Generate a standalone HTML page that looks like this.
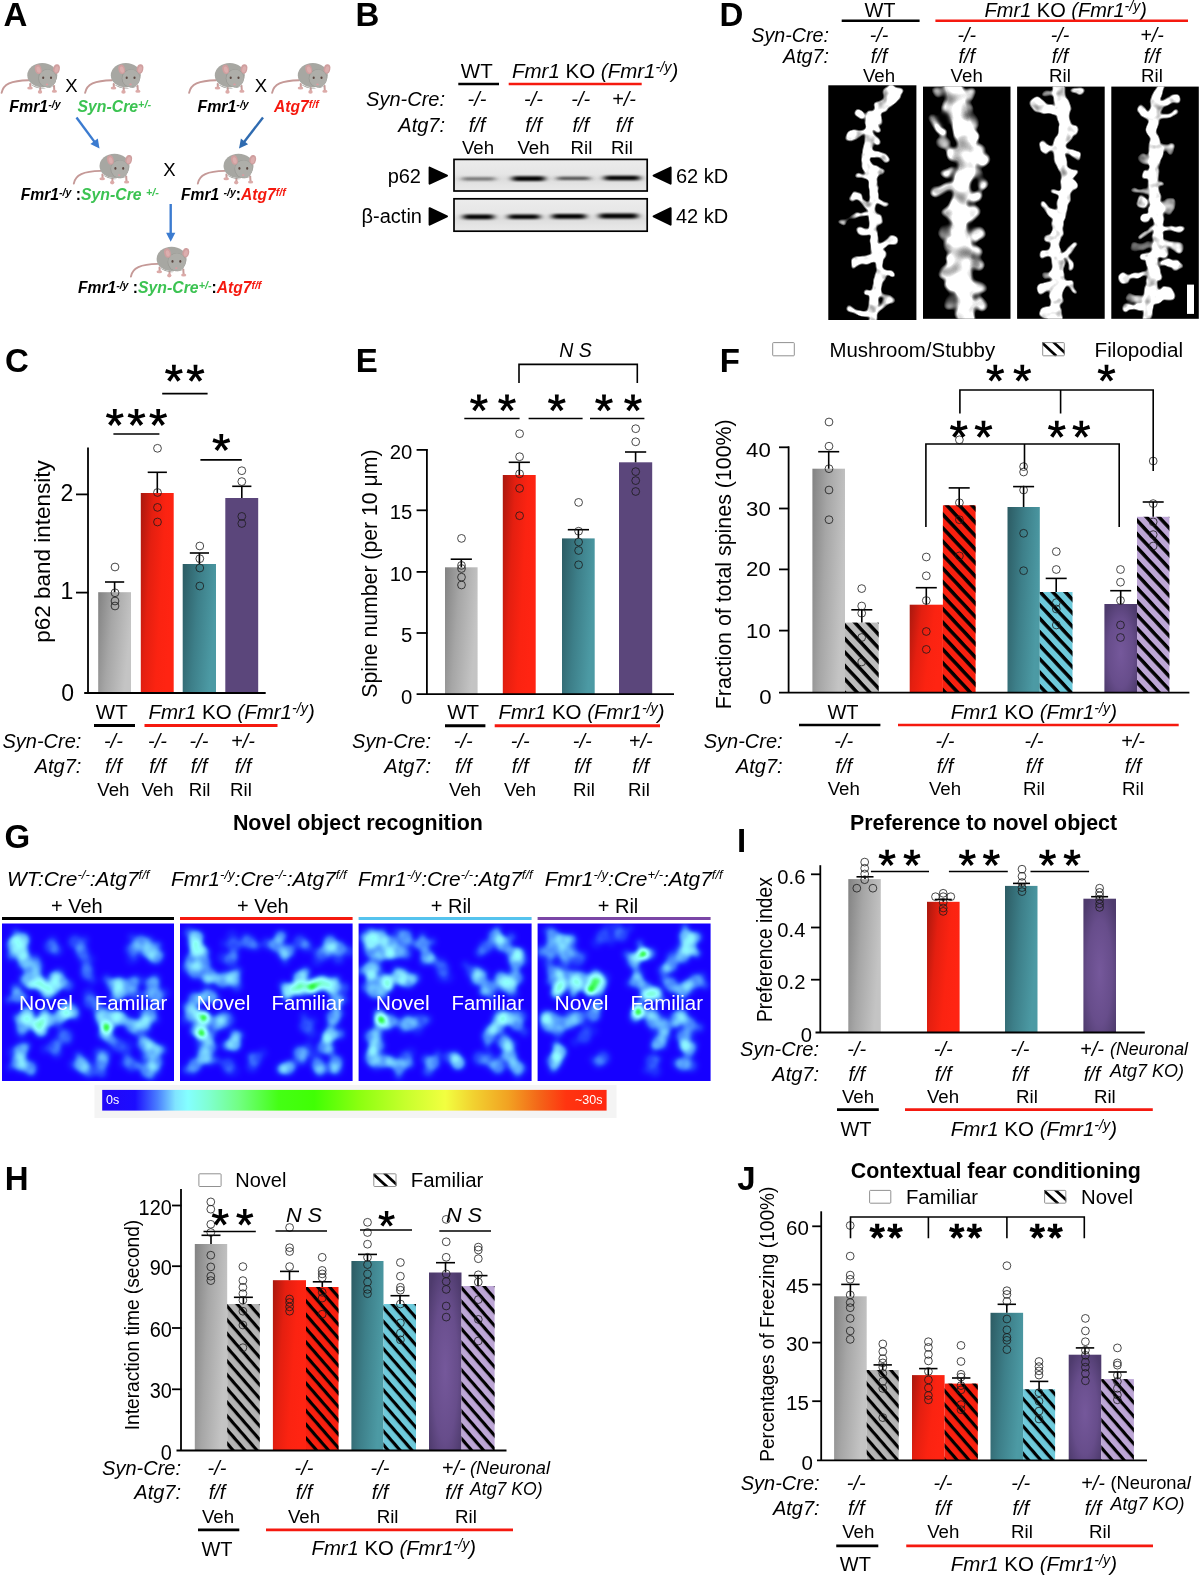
<!DOCTYPE html>
<html><head><meta charset="utf-8"><title>Figure</title>
<style>html,body{margin:0;padding:0;background:#fff}svg{display:block;will-change:transform}text{font-family:"Liberation Sans", sans-serif;}</style>
</head><body>
<svg width="1200" height="1577" viewBox="0 0 1200 1577" font-family='"Liberation Sans", sans-serif'>
<defs>
<linearGradient id="gGray" x1="0" y1="0" x2="1" y2="0.3"><stop offset="0" stop-color="#828282"/><stop offset="0.45" stop-color="#a6a6a6"/><stop offset="1" stop-color="#c4c4c4"/></linearGradient>
<linearGradient id="gRed" x1="0" y1="0" x2="1" y2="0.35"><stop offset="0" stop-color="#a8180e"/><stop offset="0.35" stop-color="#e41f10"/><stop offset="0.7" stop-color="#fb2311"/><stop offset="1" stop-color="#ff2412"/></linearGradient>
<linearGradient id="gTeal" x1="0" y1="0" x2="1" y2="0.3"><stop offset="0" stop-color="#2c5b63"/><stop offset="0.5" stop-color="#3d7f89"/><stop offset="1" stop-color="#4c9aa4"/></linearGradient>
<linearGradient id="gPurF" x1="0" y1="0" x2="0" y2="1"><stop offset="0" stop-color="#5b467b"/><stop offset="1" stop-color="#5b467b"/></linearGradient>
<radialGradient id="gPur" cx="0.5" cy="0.55" r="0.65"><stop offset="0" stop-color="#75589b"/><stop offset="0.6" stop-color="#674d8b"/><stop offset="1" stop-color="#4e3b6d"/></radialGradient>
<pattern id="hatch" width="9.2" height="9.2" patternUnits="userSpaceOnUse" patternTransform="rotate(47)"><rect x="0" y="0" width="9.2" height="3.5" fill="#000"/></pattern>
<pattern id="hatch2" width="9.0" height="9.0" patternUnits="userSpaceOnUse" patternTransform="rotate(49)"><rect x="0" y="0" width="9.0" height="3.15" fill="#000"/></pattern>
<filter id="blur1" x="-30%" y="-150%" width="160%" height="400%"><feGaussianBlur stdDeviation="3 1.25"/></filter>
<linearGradient id="blotbg" x1="0" y1="0" x2="0" y2="1"><stop offset="0" stop-color="#ececec"/><stop offset="0.45" stop-color="#e6e6e6"/><stop offset="0.62" stop-color="#dcdcdc"/><stop offset="0.8" stop-color="#e4e4e4"/><stop offset="1" stop-color="#e9e9e9"/></linearGradient>
<filter id="blur2" x="-20%" y="-50%" width="140%" height="200%"><feGaussianBlur stdDeviation="1.2"/></filter>
<filter id="dend" x="-5%" y="-5%" width="110%" height="110%" color-interpolation-filters="sRGB"><feTurbulence type="fractalNoise" baseFrequency="0.075" numOctaves="2" seed="4" result="t"/><feDisplacementMap in="SourceGraphic" in2="t" scale="9" xChannelSelector="R" yChannelSelector="G"/><feGaussianBlur stdDeviation="1.7"/><feComponentTransfer result="m"><feFuncA type="linear" slope="2.0" intercept="-0.5"/></feComponentTransfer><feTurbulence type="fractalNoise" baseFrequency="0.09" numOctaves="2" seed="33" result="n0"/><feColorMatrix in="n0" type="matrix" values="1 0 0 0 0  1 0 0 0 0  1 0 0 0 0  0 0 0 0 1" result="n"/><feComposite in="m" in2="n" operator="arithmetic" k1="1.5" k2="0.35" k3="0" k4="0"/><feGaussianBlur stdDeviation="0.55"/></filter>
<filter id="dend2" x="-5%" y="-5%" width="110%" height="110%" color-interpolation-filters="sRGB"><feTurbulence type="fractalNoise" baseFrequency="0.075" numOctaves="2" seed="4" result="t"/><feDisplacementMap in="SourceGraphic" in2="t" scale="9" xChannelSelector="R" yChannelSelector="G"/><feGaussianBlur stdDeviation="1.9"/><feComponentTransfer result="m"><feFuncA type="linear" slope="1.8" intercept="-0.4"/></feComponentTransfer><feTurbulence type="fractalNoise" baseFrequency="0.065" numOctaves="1" seed="21" result="n0"/><feColorMatrix in="n0" type="matrix" values="1 0 0 0 0  1 0 0 0 0  1 0 0 0 0  0 0 0 0 1" result="n"/><feComposite in="m" in2="n" operator="arithmetic" k1="2.6" k2="-0.25" k3="0" k4="0"/></filter>
<filter id="heat" x="0" y="0" width="100%" height="100%" color-interpolation-filters="sRGB"><feGaussianBlur stdDeviation="2.7"/>
<feComponentTransfer>
<feFuncR type="table" tableValues="0.09 0.10 0.14 0.22 0.32 0.42 0.52 0.56 0.5 0.3 0.1"/>
<feFuncG type="table" tableValues="0 0.1 0.24 0.42 0.6 0.76 0.9 1 1 1 0.92"/>
<feFuncB type="table" tableValues="1 1 1 1 1 1 1 1 0.85 0.45 0.05"/>
</feComponentTransfer></filter>
<linearGradient id="cbar" x1="0" y1="0" x2="1" y2="0"><stop offset="0" stop-color="#2208f8"/><stop offset="0.065" stop-color="#1c0cff"/><stop offset="0.11" stop-color="#4a80ff"/><stop offset="0.145" stop-color="#80e4ff"/><stop offset="0.17" stop-color="#84ffff"/><stop offset="0.21" stop-color="#80ffd2"/><stop offset="0.27" stop-color="#72ff84"/><stop offset="0.35" stop-color="#44ff14"/><stop offset="0.42" stop-color="#40ff04"/><stop offset="0.51" stop-color="#8cff10"/><stop offset="0.6" stop-color="#c6ff2c"/><stop offset="0.68" stop-color="#f2ff40"/><stop offset="0.735" stop-color="#f2d230"/><stop offset="0.805" stop-color="#f2a222"/><stop offset="0.868" stop-color="#f46418"/><stop offset="0.92" stop-color="#ff3410"/><stop offset="1" stop-color="#ff2810"/></linearGradient>
<g id="mouse">
<path d="M1.6,30 C3.2,21.5 11,17.6 28.5,17.3" fill="none" stroke="#c59997" stroke-width="1.9" stroke-linecap="round"/>
<path d="M30.2,21 l0.2,3.4 M40.3,25 l-0.2,3.4 M54,23 l0.3,4.6" stroke="#c99c9a" stroke-width="2" stroke-linecap="round" fill="none"/>
<ellipse cx="30" cy="25.2" rx="2.8" ry="1.5" fill="#dcaaa8"/><ellipse cx="40" cy="29" rx="2.2" ry="1.8" fill="#dcaaa8"/><ellipse cx="54.4" cy="28.4" rx="2.6" ry="1.5" fill="#dcaaa8"/>
<ellipse cx="42.3" cy="12.3" rx="15" ry="12.2" fill="#a7a7a2"/>
<path d="M30,21 q6,5 14,4.5 l12,-3 q-12,6 -26,-1.5z" fill="#9a9a95"/>
<ellipse cx="56.5" cy="6.1" rx="3.3" ry="4.8" fill="#cf9f9f" transform="rotate(12 56.5 6.1)"/><ellipse cx="56.6" cy="6.5" rx="1.9" ry="3.2" fill="#dcaeae" transform="rotate(12 56.6 6.5)"/>
<circle cx="47.3" cy="15.4" r="9.1" fill="#989893"/>
<circle cx="47.6" cy="15.4" r="8.7" fill="#aeaea9"/>
<ellipse cx="38.2" cy="6.4" rx="3.3" ry="4.8" fill="#cf9f9f" transform="rotate(-14 38.2 6.4)"/><ellipse cx="38.5" cy="6.8" rx="1.9" ry="3.2" fill="#dcaeae" transform="rotate(-14 38.5 6.8)"/>
<ellipse cx="43.2" cy="14.8" rx="1.05" ry="1.3" fill="#5b4741"/><ellipse cx="51" cy="14.8" rx="1.05" ry="1.3" fill="#5b4741"/>
<ellipse cx="47" cy="21.5" rx="1.25" ry="0.95" fill="#dc9ca0"/>
</g>
<path id="ast" d="M-1.45,0.50 L-1.95,-8.70 L1.95,-8.70 L1.45,0.50Z M-0.92,-1.22 L7.67,-4.54 L8.88,-0.83 L-0.03,1.53Z M0.88,-1.26 L6.69,5.89 L3.54,8.18 L-1.47,0.45Z M1.47,0.45 L-3.54,8.18 L-6.69,5.89 L-0.88,-1.26Z M0.03,1.53 L-8.88,-0.83 L-7.67,-4.54 L0.92,-1.22Z" fill="#000"/>
<path id="astb" d="M-1.75,0.50 L-2.30,-8.00 L2.30,-8.00 L1.75,0.50Z M-1.02,-1.51 L6.90,-4.66 L8.32,-0.28 L0.07,1.82Z M1.12,-1.43 L6.56,5.12 L2.84,7.82 L-1.71,0.62Z M1.71,0.62 L-2.84,7.82 L-6.56,5.12 L-1.12,-1.43Z M-0.07,1.82 L-8.32,-0.28 L-6.90,-4.66 L1.02,-1.51Z" fill="#000"/>
<marker id="ah" markerWidth="6" markerHeight="6" refX="3" refY="3" orient="auto"><path d="M0,0 L6,3 L0,6 z" fill="#3b7bd0"/></marker>
</defs>
<rect x="0" y="0" width="1200" height="1577" fill="#fff"/>

<g id="panelA">
<text x="3.4" y="26" font-size="33" font-weight="bold">A</text>
<use href="#mouse" x="0.0" y="62.9"/>
<use href="#mouse" x="83.5" y="62.9"/>
<use href="#mouse" x="187.5" y="62.9"/>
<use href="#mouse" x="270.5" y="62.9"/>
<text x="71.4" y="92.4" font-size="18.5" text-anchor="middle">X</text>
<text x="261" y="92.4" font-size="18.5" text-anchor="middle">X</text>
<text x="9.3" y="111.8" font-size="15.9" font-style="italic" font-weight="bold">Fmr1<tspan font-size="10.6" dy="-4">-/y</tspan></text>
<text x="77.5" y="111.8" font-size="15.9" font-style="italic" font-weight="bold" fill="#3cc352"><tspan font-size="15.8">Syn-Cre</tspan><tspan font-size="10.8" dy="-4">+/-</tspan></text>
<text x="197.5" y="111.8" font-size="15.9" font-style="italic" font-weight="bold">Fmr1<tspan font-size="10.6" dy="-4">-/y</tspan></text>
<text x="274" y="111.8" font-size="15.6" font-style="italic" font-weight="bold" fill="#f5190f">Atg7<tspan font-size="10.6" dy="-4">f/f</tspan></text>
<line x1="76.5" y1="117.5" x2="94.7" y2="142.1" stroke="#3b7bd0" stroke-width="2.4"/>
<polygon points="99.5,148.5 90.4,144.0 97.8,138.5" fill="#3b7bd0"/>
<line x1="263.0" y1="117.5" x2="243.9" y2="142.2" stroke="#2f6bb0" stroke-width="2.4"/>
<polygon points="239.0,148.5 240.9,138.6 248.1,144.2" fill="#2f6bb0"/>
<use href="#mouse" x="72.2" y="153.6"/>
<use href="#mouse" x="196.2" y="153.6"/>
<text x="169.3" y="176" font-size="18.5" text-anchor="middle">X</text>
<text x="20.7" y="199.6" font-size="15.7" font-style="italic" font-weight="bold">Fmr1<tspan font-size="10.6" dy="-4">-/y</tspan><tspan dy="4" font-style="normal"> :</tspan><tspan fill="#3cc352"><tspan font-size="15.8">Syn-Cre </tspan><tspan font-size="10.8" dy="-4">+/-</tspan></tspan></text>
<text x="181" y="199.6" font-size="15.6" font-style="italic" font-weight="bold">Fmr1 <tspan font-size="10.6" dy="-4">-/y</tspan><tspan dy="4" font-style="normal">:</tspan><tspan fill="#f5190f">Atg7<tspan font-size="10.6" dy="-4">f/f</tspan></tspan></text>
<line x1="170.7" y1="204.0" x2="170.7" y2="233.7" stroke="#3b7bd0" stroke-width="2.4"/>
<polygon points="170.7,241.7 166.1,232.7 175.3,232.7" fill="#3b7bd0"/>
<use href="#mouse" x="129.3" y="246.6"/>
<text x="78" y="293.2" font-size="15.6" font-style="italic" font-weight="bold">Fmr1<tspan font-size="10.6" dy="-4">-/y</tspan><tspan dy="4" font-style="normal"> :</tspan><tspan fill="#3cc352"><tspan font-size="15.8">Syn-Cre</tspan><tspan font-size="10.8" dy="-4">+/-</tspan></tspan><tspan dy="4" font-style="normal">:</tspan><tspan fill="#f5190f">Atg7<tspan font-size="10.6" dy="-4">f/f</tspan></tspan></text>
</g>
<g id="panelB">
<text x="355.5" y="26.1" font-size="33" font-weight="bold">B</text>
<text x="476.8" y="77.7" font-size="20.5" text-anchor="middle">WT</text>
<line x1="458.3" y1="84" x2="499" y2="84" stroke="#000" stroke-width="2.6"/>
<text x="512" y="77.7" font-size="20.5"><tspan font-style="italic">Fmr1</tspan> KO <tspan font-style="italic">(Fmr1</tspan><tspan font-style="italic" dy="-6" font-size="14.3">-/y</tspan><tspan font-style="italic" dy="6">)</tspan></text>
<line x1="508.7" y1="84" x2="641.7" y2="84" stroke="#f5190f" stroke-width="2.6"/>
<text x="445" y="105.8" font-size="20" text-anchor="end" font-style="italic">Syn-Cre:</text>
<text x="445" y="131.8" font-size="20" text-anchor="end" font-style="italic">Atg7:</text>
<text x="477" y="105.8" font-size="20" text-anchor="middle" font-style="italic">-/-</text>
<text x="477" y="131.8" font-size="20" text-anchor="middle" font-style="italic">f/f</text>
<text x="533.5" y="105.8" font-size="20" text-anchor="middle" font-style="italic">-/-</text>
<text x="533.5" y="131.8" font-size="20" text-anchor="middle" font-style="italic">f/f</text>
<text x="580.8" y="105.8" font-size="20" text-anchor="middle" font-style="italic">-/-</text>
<text x="580.8" y="131.8" font-size="20" text-anchor="middle" font-style="italic">f/f</text>
<text x="624" y="105.8" font-size="20" text-anchor="middle" font-style="italic">+/-</text>
<text x="624" y="131.8" font-size="20" text-anchor="middle" font-style="italic">f/f</text>
<text x="478" y="153.6" font-size="18.7" text-anchor="middle">Veh</text>
<text x="533.5" y="153.6" font-size="18.7" text-anchor="middle">Veh</text>
<text x="581.5" y="153.6" font-size="18.7" text-anchor="middle">Ril</text>
<text x="622" y="153.6" font-size="18.7" text-anchor="middle">Ril</text>
<rect x="454.00" y="159.40" width="193.20" height="31.60" fill="url(#blotbg)" stroke="#000" stroke-width="1.7"/>
<rect x="454.00" y="198.80" width="193.20" height="32.40" fill="url(#blotbg)" stroke="#000" stroke-width="1.7"/>
<rect x="462" y="177.2" width="33.0" height="3.2" rx="1.6" fill="#444" opacity="0.72" filter="url(#blur1)"/>
<rect x="512" y="176.3" width="33.0" height="4.6" rx="2.3" fill="#000" opacity="1" filter="url(#blur1)"/>
<rect x="557" y="176.7" width="33.0" height="3.4" rx="1.7" fill="#333" opacity="0.85" filter="url(#blur1)"/>
<rect x="604" y="175.7" width="36.0" height="4.6" rx="2.3" fill="#000" opacity="1" filter="url(#blur1)"/>
<rect x="463" y="214.4" width="31.0" height="4.8" rx="2.4" fill="#000" opacity="1" filter="url(#blur1)"/>
<rect x="508" y="214.5" width="32.0" height="4.6" rx="2.3" fill="#000" opacity="1" filter="url(#blur1)"/>
<rect x="552" y="214.0" width="34.0" height="4.8" rx="2.4" fill="#000" opacity="1" filter="url(#blur1)"/>
<rect x="599" y="213.6" width="39.0" height="4.8" rx="2.4" fill="#000" opacity="1" filter="url(#blur1)"/>
<text x="421" y="182.7" font-size="20" text-anchor="end">p62</text>
<text x="422" y="223" font-size="20" text-anchor="end">β-actin</text>
<polygon points="429.6,167.6 447,175.6 429.6,183.6" fill="#000" stroke="#000" stroke-width="2" stroke-linejoin="round"/>
<polygon points="429.6,208.2 447,216.4 429.6,224.6" fill="#000" stroke="#000" stroke-width="2" stroke-linejoin="round"/>
<polygon points="670.6,167.6 653.6,175.6 670.6,183.6" fill="#000" stroke="#000" stroke-width="2" stroke-linejoin="round"/>
<polygon points="670.6,208.2 653.6,216.4 670.6,224.6" fill="#000" stroke="#000" stroke-width="2" stroke-linejoin="round"/>
<text x="676" y="182.7" font-size="20">62 kD</text>
<text x="676" y="223" font-size="20">42 kD</text>
</g>
<g id="panelD">
<text x="719.5" y="26" font-size="33" font-weight="bold">D</text>
<text x="880" y="16.7" font-size="20" text-anchor="middle">WT</text>
<line x1="841.7" y1="20.8" x2="919.6" y2="20.8" stroke="#000" stroke-width="2.4"/>
<text x="984.6" y="16.7" font-size="20"><tspan font-style="italic">Fmr1</tspan> KO <tspan font-style="italic">(Fmr1</tspan><tspan font-style="italic" dy="-6" font-size="14.0">-/y</tspan><tspan font-style="italic" dy="6">)</tspan></text>
<line x1="935.4" y1="20.8" x2="1188" y2="20.8" stroke="#f5190f" stroke-width="2.4"/>
<text x="829" y="41.9" font-size="19.7" text-anchor="end" font-style="italic">Syn-Cre:</text>
<text x="829" y="62.8" font-size="19.7" text-anchor="end" font-style="italic">Atg7:</text>
<text x="879" y="41.9" font-size="19.7" text-anchor="middle" font-style="italic">-/-</text>
<text x="879" y="62.8" font-size="19.7" text-anchor="middle" font-style="italic">f/f</text>
<text x="966.7" y="41.9" font-size="19.7" text-anchor="middle" font-style="italic">-/-</text>
<text x="966.7" y="62.8" font-size="19.7" text-anchor="middle" font-style="italic">f/f</text>
<text x="1060" y="41.9" font-size="19.7" text-anchor="middle" font-style="italic">-/-</text>
<text x="1060" y="62.8" font-size="19.7" text-anchor="middle" font-style="italic">f/f</text>
<text x="1152" y="41.9" font-size="19.7" text-anchor="middle" font-style="italic">+/-</text>
<text x="1152" y="62.8" font-size="19.7" text-anchor="middle" font-style="italic">f/f</text>
<text x="879" y="82.2" font-size="18.7" text-anchor="middle">Veh</text>
<text x="966.7" y="82.2" font-size="18.7" text-anchor="middle">Veh</text>
<text x="1060" y="82.2" font-size="18.7" text-anchor="middle">Ril</text>
<text x="1152" y="82.2" font-size="18.7" text-anchor="middle">Ril</text>
<clipPath id="dc1"><rect x="828.3" y="85.3" width="88.1" height="234.7"/></clipPath>
<rect x="828.30" y="85.30" width="88.10" height="234.70" fill="#000"/>
<g clip-path="url(#dc1)"><g filter="url(#dend)">
<path d="M891.7,86.7 L886.7,101.7 L875.0,115.0 L868.3,123.3 L869.2,135.0 L868.3,146.7 L865.0,158.3 L870.0,173.3 L875.0,188.3 L873.3,205.0 L875.0,218.3 L873.3,238.3 L878.3,255.0 L879.2,280.0 L875.0,296.7 L871.7,320.0" fill="none" stroke="#fff" stroke-width="8" stroke-linecap="round" stroke-linejoin="round"/>
<g opacity="1"><line x1="867.5" y1="129.2" x2="848.3" y2="135.8" stroke="#fff" stroke-width="5.6" stroke-linecap="round"/><circle cx="848.3" cy="135.8" r="4.1" fill="#fff"/></g>
<g opacity="1"><line x1="870.0" y1="135.0" x2="877.5" y2="141.3" stroke="#fff" stroke-width="5.6" stroke-linecap="round"/><circle cx="877.5" cy="141.3" r="3.7" fill="#fff"/></g>
<g opacity="1"><line x1="871.7" y1="153.3" x2="886.7" y2="158.0" stroke="#fff" stroke-width="5.0" stroke-linecap="round"/><circle cx="886.7" cy="158.0" r="3.2" fill="#fff"/></g>
<g opacity="1"><line x1="871.7" y1="166.7" x2="882.0" y2="171.3" stroke="#fff" stroke-width="5.0" stroke-linecap="round"/><circle cx="882.0" cy="171.3" r="3.2" fill="#fff"/></g>
<g opacity="1"><line x1="867.5" y1="176.7" x2="859.7" y2="175.8" stroke="#fff" stroke-width="4.4" stroke-linecap="round"/><circle cx="859.7" cy="175.8" r="2.8" fill="#fff"/></g>
<g opacity="1"><line x1="875.0" y1="200.3" x2="885.8" y2="203.7" stroke="#fff" stroke-width="3.8" stroke-linecap="round"/><circle cx="885.8" cy="203.7" r="2.1" fill="#fff"/></g>
<g opacity="1"><line x1="868.3" y1="206.7" x2="855.8" y2="196.7" stroke="#fff" stroke-width="4.4" stroke-linecap="round"/><circle cx="855.8" cy="196.7" r="4.6" fill="#fff"/></g>
<g opacity="1"><line x1="868.3" y1="213.3" x2="851.7" y2="215.8" stroke="#fff" stroke-width="3.2" stroke-linecap="round"/></g>
<g opacity="0.6"><line x1="851.7" y1="215.8" x2="842.5" y2="220.8" stroke="#fff" stroke-width="3.2" stroke-linecap="round"/><circle cx="842.5" cy="220.8" r="3.9" fill="#fff"/></g>
<g opacity="1"><line x1="870.0" y1="230.0" x2="860.8" y2="230.8" stroke="#fff" stroke-width="5.0" stroke-linecap="round"/><circle cx="860.8" cy="230.8" r="3.7" fill="#fff"/></g>
<g opacity="1"><line x1="880.0" y1="245.8" x2="892.0" y2="241.3" stroke="#fff" stroke-width="5.6" stroke-linecap="round"/><circle cx="892.0" cy="241.3" r="4.1" fill="#fff"/></g>
<g opacity="1"><line x1="873.3" y1="259.2" x2="855.8" y2="263.3" stroke="#fff" stroke-width="6.2" stroke-linecap="round"/><circle cx="855.8" cy="263.3" r="5.3" fill="#fff"/></g>
<g opacity="1"><line x1="880.8" y1="270.0" x2="890.8" y2="273.7" stroke="#fff" stroke-width="5.0" stroke-linecap="round"/><circle cx="890.8" cy="273.7" r="3.0" fill="#fff"/></g>
<g opacity="1"><line x1="873.3" y1="291.7" x2="866.7" y2="292.0" stroke="#fff" stroke-width="4.4" stroke-linecap="round"/><circle cx="866.7" cy="292.0" r="3.0" fill="#fff"/></g>
<g opacity="0.7"><line x1="878.3" y1="295.0" x2="890.0" y2="300.0" stroke="#fff" stroke-width="5.0" stroke-linecap="round"/><circle cx="890.0" cy="300.0" r="4.6" fill="#fff"/></g>
<g opacity="1"><line x1="870.0" y1="313.3" x2="860.0" y2="312.7" stroke="#fff" stroke-width="5.0" stroke-linecap="round"/><circle cx="860.0" cy="312.7" r="3.4" fill="#fff"/></g>
<g opacity="1"><line x1="860.0" y1="312.7" x2="849.2" y2="310.0" stroke="#fff" stroke-width="5.0" stroke-linecap="round"/><circle cx="849.2" cy="310.0" r="3.9" fill="#fff"/></g>
<g opacity="0.8"><line x1="876.7" y1="311.7" x2="885.8" y2="303.3" stroke="#fff" stroke-width="5.0" stroke-linecap="round"/><circle cx="885.8" cy="303.3" r="3.4" fill="#fff"/></g>
<g opacity="1"><line x1="877.5" y1="130.0" x2="870.0" y2="120.0" stroke="#fff" stroke-width="5.0" stroke-linecap="round"/></g>
<circle cx="890.8" cy="95.8" r="9" fill="#fff" opacity="1"/>
<circle cx="895.8" cy="91.7" r="6" fill="#fff" opacity="1"/>
<circle cx="881.7" cy="106.7" r="6" fill="#fff" opacity="1"/>
<circle cx="859.2" cy="113.3" r="4.6" fill="#fff" opacity="1"/>
<circle cx="870.0" cy="115.8" r="5" fill="#fff" opacity="1"/>
<circle cx="877.5" cy="118.7" r="4" fill="#fff" opacity="1"/>
<circle cx="875.0" cy="173.3" r="5" fill="#fff" opacity="1"/>
<circle cx="875.0" cy="218.3" r="6" fill="#fff" opacity="1"/>
<circle cx="879.2" cy="256.7" r="6" fill="#fff" opacity="1"/>
<circle cx="878.3" cy="280.0" r="5" fill="#fff" opacity="1"/>
</g></g>
<clipPath id="dc2"><rect x="923" y="86.6" width="87.5" height="232.2"/></clipPath>
<rect x="923.00" y="86.60" width="87.50" height="232.20" fill="#000"/>
<g clip-path="url(#dc2)"><g filter="url(#dend2)">
<path d="M953.3,86.7 L955.8,100.0 L958.3,113.3 L961.7,126.7 L965.0,138.3 L967.5,151.7 L968.3,163.3 L965.0,175.0 L962.5,186.7 L959.2,205.0 L960.0,226.7 L961.7,246.7 L963.0,271.7 L965.0,296.7 L966.7,320.0" fill="none" stroke="#fff" stroke-width="17" stroke-linecap="round" stroke-linejoin="round"/>
<g opacity="1"><line x1="943.3" y1="131.7" x2="931.7" y2="117.5" stroke="#fff" stroke-width="6.2" stroke-linecap="round"/><circle cx="931.7" cy="117.5" r="4.6" fill="#fff"/></g>
<g opacity="1"><line x1="951.7" y1="186.7" x2="936.7" y2="190.8" stroke="#fff" stroke-width="8.1" stroke-linecap="round"/><circle cx="936.7" cy="190.8" r="5.1" fill="#fff"/></g>
<g opacity="0.9"><line x1="951.7" y1="170.0" x2="946.7" y2="173.3" stroke="#fff" stroke-width="6.2" stroke-linecap="round"/><circle cx="946.7" cy="173.3" r="4.6" fill="#fff"/></g>
<circle cx="938.7" cy="92.5" r="6" fill="#fff" opacity="0.6"/>
<circle cx="969.2" cy="94.2" r="6.5" fill="#fff" opacity="0.75"/>
<circle cx="966.7" cy="109.2" r="7" fill="#fff" opacity="0.55"/>
<circle cx="974.2" cy="120.8" r="6.5" fill="#fff" opacity="0.65"/>
<circle cx="944.2" cy="142.5" r="6.5" fill="#fff" opacity="0.65"/>
<circle cx="978.3" cy="150.0" r="6.5" fill="#fff" opacity="0.8"/>
<circle cx="983.3" cy="160.0" r="5.5" fill="#fff" opacity="0.85"/>
<circle cx="977.5" cy="173.3" r="6.5" fill="#fff" opacity="0.6"/>
<circle cx="983.0" cy="183.7" r="5" fill="#fff" opacity="0.85"/>
<circle cx="975.8" cy="196.7" r="6.5" fill="#fff" opacity="0.75"/>
<circle cx="970.8" cy="213.3" r="7" fill="#fff" opacity="0.95"/>
<circle cx="945.8" cy="231.7" r="7.5" fill="#fff" opacity="0.5"/>
<circle cx="976.7" cy="235.0" r="6.5" fill="#fff" opacity="0.85"/>
<circle cx="950.0" cy="245.0" r="6.5" fill="#fff" opacity="0.9"/>
<circle cx="974.2" cy="250.0" r="6.5" fill="#fff" opacity="0.75"/>
<circle cx="976.7" cy="263.3" r="6.5" fill="#fff" opacity="0.85"/>
<circle cx="948.3" cy="271.7" r="7.5" fill="#fff" opacity="0.9"/>
<circle cx="952.0" cy="285.0" r="7.5" fill="#fff" opacity="0.9"/>
<circle cx="978.3" cy="288.3" r="7.5" fill="#fff" opacity="0.8"/>
<circle cx="950.3" cy="301.7" r="7.5" fill="#fff" opacity="0.55"/>
<circle cx="980.8" cy="305.0" r="6.5" fill="#fff" opacity="0.85"/>
<circle cx="954.2" cy="155.0" r="8" fill="#fff" opacity="0.95"/>
<circle cx="952.5" cy="213.3" r="9" fill="#fff" opacity="0.95"/>
<circle cx="954.2" cy="260.0" r="8" fill="#fff" opacity="0.95"/>
<circle cx="950.0" cy="106.7" r="7" fill="#fff" opacity="0.85"/>
<circle cx="970.8" cy="135.0" r="7" fill="#fff" opacity="0.9"/>
<circle cx="944.2" cy="117.5" r="5.5" fill="#000" opacity="0.7"/>
<circle cx="963.3" cy="107.5" r="5" fill="#000" opacity="0.3"/>
<circle cx="953.3" cy="174.2" r="5" fill="#000" opacity="0.35"/>
<circle cx="970.8" cy="227.5" r="5" fill="#000" opacity="0.3"/>
<circle cx="970.8" cy="280.8" r="5" fill="#000" opacity="0.3"/>
<circle cx="974.2" cy="264.2" r="4" fill="#000" opacity="0.25"/>
<circle cx="955.8" cy="150.8" r="4" fill="#000" opacity="0.25"/>
</g></g>
<clipPath id="dc3"><rect x="1017.1" y="86.6" width="87.6" height="232.2"/></clipPath>
<rect x="1017.10" y="86.60" width="87.60" height="232.20" fill="#000"/>
<g clip-path="url(#dc3)"><g filter="url(#dend)">
<path d="M1057.5,87.1 L1060.7,99.0 L1063.8,111.7 L1065.7,130.7 L1060.3,143.3 L1058.8,152.8 L1063.0,168.7 L1067.0,182.9 L1063.0,200.3 L1059.4,219.3 L1054.6,238.3 L1055.9,254.2 L1058.8,270.0 L1057.5,289.0 L1056.2,304.8 L1055.9,319.9" fill="none" stroke="#fff" stroke-width="11" stroke-linecap="round" stroke-linejoin="round"/>
<g opacity="1"><line x1="1060.7" y1="111.7" x2="1038.5" y2="105.3" stroke="#fff" stroke-width="7.5" stroke-linecap="round"/><circle cx="1038.5" cy="105.3" r="7.5" fill="#fff"/></g>
<g opacity="0.5"><line x1="1057.5" y1="92.7" x2="1047.2" y2="93.5" stroke="#fff" stroke-width="7.5" stroke-linecap="round"/><circle cx="1047.2" cy="93.5" r="4.6" fill="#fff"/></g>
<g opacity="1"><line x1="1073.3" y1="89.5" x2="1080.5" y2="91.4" stroke="#fff" stroke-width="5.0" stroke-linecap="round"/><circle cx="1080.5" cy="91.4" r="3.4" fill="#fff"/></g>
<g opacity="1"><line x1="1065.4" y1="127.5" x2="1073.6" y2="131.5" stroke="#fff" stroke-width="6.2" stroke-linecap="round"/><circle cx="1073.6" cy="131.5" r="3.9" fill="#fff"/></g>
<g opacity="1"><line x1="1057.5" y1="149.7" x2="1044.0" y2="148.1" stroke="#fff" stroke-width="5.0" stroke-linecap="round"/><circle cx="1044.0" cy="148.1" r="4.8" fill="#fff"/></g>
<g opacity="1"><line x1="1064.6" y1="151.2" x2="1078.1" y2="156.9" stroke="#fff" stroke-width="5.6" stroke-linecap="round"/><circle cx="1078.1" cy="156.9" r="3.0" fill="#fff"/></g>
<g opacity="1"><line x1="1065.4" y1="170.2" x2="1073.6" y2="172.6" stroke="#fff" stroke-width="6.2" stroke-linecap="round"/><circle cx="1073.6" cy="172.6" r="4.6" fill="#fff"/></g>
<g opacity="1"><line x1="1065.4" y1="182.9" x2="1072.1" y2="184.8" stroke="#fff" stroke-width="6.2" stroke-linecap="round"/><circle cx="1072.1" cy="184.8" r="5.8" fill="#fff"/></g>
<g opacity="1"><line x1="1060.7" y1="193.2" x2="1054.0" y2="192.4" stroke="#fff" stroke-width="4.4" stroke-linecap="round"/><circle cx="1054.0" cy="192.4" r="2.5" fill="#fff"/></g>
<g opacity="0.9"><line x1="1055.9" y1="217.7" x2="1044.0" y2="205.1" stroke="#fff" stroke-width="6.2" stroke-linecap="round"/><circle cx="1044.0" cy="205.1" r="3.2" fill="#fff"/></g>
<g opacity="1"><line x1="1055.1" y1="236.7" x2="1046.1" y2="237.1" stroke="#fff" stroke-width="6.2" stroke-linecap="round"/><circle cx="1046.1" cy="237.1" r="4.1" fill="#fff"/></g>
<g opacity="1"><line x1="1054.3" y1="252.6" x2="1042.9" y2="254.5" stroke="#fff" stroke-width="5.0" stroke-linecap="round"/><circle cx="1042.9" cy="254.5" r="3.0" fill="#fff"/></g>
<g opacity="1"><line x1="1062.2" y1="257.3" x2="1075.2" y2="246.2" stroke="#fff" stroke-width="4.2" stroke-linecap="round"/><circle cx="1075.2" cy="246.2" r="1.8" fill="#fff"/></g>
<g opacity="1"><line x1="1063.8" y1="255.7" x2="1072.1" y2="267.1" stroke="#fff" stroke-width="4.2" stroke-linecap="round"/><circle cx="1072.1" cy="267.1" r="1.8" fill="#fff"/></g>
<g opacity="0.5"><line x1="1055.9" y1="274.7" x2="1048.0" y2="275.1" stroke="#fff" stroke-width="7.5" stroke-linecap="round"/><circle cx="1048.0" cy="275.1" r="4.6" fill="#fff"/></g>
<g opacity="1"><line x1="1055.1" y1="285.8" x2="1041.7" y2="289.3" stroke="#fff" stroke-width="6.2" stroke-linecap="round"/><circle cx="1041.7" cy="289.3" r="4.8" fill="#fff"/></g>
<g opacity="1"><line x1="1060.7" y1="282.7" x2="1070.5" y2="284.6" stroke="#fff" stroke-width="6.2" stroke-linecap="round"/><circle cx="1070.5" cy="284.6" r="4.1" fill="#fff"/></g>
<g opacity="1"><line x1="1070.2" y1="284.6" x2="1075.2" y2="292.5" stroke="#fff" stroke-width="3.8" stroke-linecap="round"/><circle cx="1075.2" cy="292.5" r="1.8" fill="#fff"/></g>
<g opacity="1"><line x1="1055.1" y1="309.6" x2="1046.1" y2="312.7" stroke="#fff" stroke-width="7.5" stroke-linecap="round"/><circle cx="1046.1" cy="312.7" r="6.2" fill="#fff"/></g>
<circle cx="1062.2" cy="103.7" r="6" fill="#fff" opacity="1"/>
<circle cx="1059.1" cy="149.7" r="7" fill="#fff" opacity="1"/>
<circle cx="1065.4" cy="178.2" r="6" fill="#fff" opacity="1"/>
<circle cx="1055.1" cy="251.0" r="7" fill="#fff" opacity="1"/>
<circle cx="1057.5" cy="298.5" r="7" fill="#fff" opacity="0.9"/>
</g></g>
<clipPath id="dc4"><rect x="1111.3" y="86.6" width="87.5" height="232.2"/></clipPath>
<rect x="1111.30" y="86.60" width="87.50" height="232.20" fill="#000"/>
<g clip-path="url(#dc4)"><g filter="url(#dend)">
<path d="M1159.6,87.1 L1157.2,99.0 L1155.7,111.7 L1151.7,132.2 L1156.5,149.7 L1154.4,168.7 L1152.5,187.7 L1156.9,206.7 L1158.8,225.7 L1157.2,244.7 L1152.8,262.1 L1151.2,279.5 L1149.3,298.5 L1146.5,319.9" fill="none" stroke="#fff" stroke-width="9.5" stroke-linecap="round" stroke-linejoin="round"/>
<g opacity="1"><line x1="1160.4" y1="104.5" x2="1175.5" y2="98.2" stroke="#fff" stroke-width="4.2" stroke-linecap="round"/><circle cx="1175.5" cy="98.2" r="4.6" fill="#fff"/></g>
<g opacity="1"><line x1="1152.5" y1="118.0" x2="1139.8" y2="108.5" stroke="#fff" stroke-width="7.5" stroke-linecap="round"/><circle cx="1139.8" cy="108.5" r="3.4" fill="#fff"/></g>
<g opacity="0.85"><line x1="1160.4" y1="116.7" x2="1175.5" y2="112.9" stroke="#fff" stroke-width="4.5" stroke-linecap="round"/><circle cx="1175.5" cy="112.9" r="3.0" fill="#fff"/></g>
<g opacity="0.6"><line x1="1158.8" y1="148.1" x2="1170.2" y2="149.7" stroke="#fff" stroke-width="7.5" stroke-linecap="round"/><circle cx="1170.2" cy="149.7" r="5.8" fill="#fff"/></g>
<g opacity="0.55"><line x1="1152.5" y1="159.2" x2="1144.3" y2="159.2" stroke="#fff" stroke-width="7.5" stroke-linecap="round"/><circle cx="1144.3" cy="159.2" r="7.5" fill="#fff"/></g>
<g opacity="1"><line x1="1151.7" y1="176.6" x2="1144.6" y2="174.7" stroke="#fff" stroke-width="5.0" stroke-linecap="round"/><circle cx="1144.6" cy="174.7" r="3.0" fill="#fff"/></g>
<g opacity="1"><line x1="1155.7" y1="182.9" x2="1162.8" y2="184.0" stroke="#fff" stroke-width="3.8" stroke-linecap="round"/><circle cx="1162.8" cy="184.0" r="1.8" fill="#fff"/></g>
<g opacity="0.55"><line x1="1149.3" y1="191.6" x2="1135.1" y2="190.8" stroke="#fff" stroke-width="6.2" stroke-linecap="round"/><circle cx="1135.1" cy="190.8" r="3.9" fill="#fff"/></g>
<g opacity="1"><line x1="1143.3" y1="202.7" x2="1143.3" y2="202.9" stroke="#fff" stroke-width="5.0" stroke-linecap="round"/><circle cx="1143.3" cy="202.9" r="4.8" fill="#fff"/></g>
<g opacity="0.55"><line x1="1160.4" y1="205.1" x2="1168.6" y2="205.1" stroke="#fff" stroke-width="8.8" stroke-linecap="round"/><circle cx="1168.6" cy="205.1" r="8.5" fill="#fff"/></g>
<g opacity="1"><line x1="1144.9" y1="218.5" x2="1144.9" y2="218.7" stroke="#fff" stroke-width="5.0" stroke-linecap="round"/><circle cx="1144.9" cy="218.7" r="4.6" fill="#fff"/></g>
<g opacity="1"><line x1="1163.6" y1="229.6" x2="1180.7" y2="228.0" stroke="#fff" stroke-width="4.5" stroke-linecap="round"/><circle cx="1180.7" cy="228.0" r="4.1" fill="#fff"/></g>
<g opacity="0.8"><line x1="1152.5" y1="227.2" x2="1140.1" y2="236.0" stroke="#fff" stroke-width="3.8" stroke-linecap="round"/><circle cx="1140.1" cy="236.0" r="1.6" fill="#fff"/></g>
<g opacity="0.45"><line x1="1149.3" y1="244.7" x2="1135.1" y2="246.2" stroke="#fff" stroke-width="7.5" stroke-linecap="round"/><circle cx="1135.1" cy="246.2" r="5.8" fill="#fff"/></g>
<g opacity="0.7"><line x1="1162.0" y1="244.7" x2="1177.8" y2="246.6" stroke="#fff" stroke-width="7.5" stroke-linecap="round"/><circle cx="1177.8" cy="246.6" r="5.8" fill="#fff"/></g>
<g opacity="1"><line x1="1152.5" y1="257.3" x2="1144.6" y2="257.6" stroke="#fff" stroke-width="6.2" stroke-linecap="round"/><circle cx="1144.6" cy="257.6" r="4.6" fill="#fff"/></g>
<g opacity="1"><line x1="1157.2" y1="254.2" x2="1163.9" y2="254.2" stroke="#fff" stroke-width="6.2" stroke-linecap="round"/><circle cx="1163.9" cy="254.2" r="4.6" fill="#fff"/></g>
<g opacity="1"><line x1="1162.0" y1="263.7" x2="1176.6" y2="265.2" stroke="#fff" stroke-width="5.0" stroke-linecap="round"/><circle cx="1176.6" cy="265.2" r="5.1" fill="#fff"/></g>
<g opacity="1"><line x1="1146.2" y1="271.6" x2="1124.3" y2="278.2" stroke="#fff" stroke-width="4.5" stroke-linecap="round"/><circle cx="1124.3" cy="278.2" r="5.8" fill="#fff"/></g>
<g opacity="1"><line x1="1152.5" y1="276.3" x2="1159.1" y2="276.6" stroke="#fff" stroke-width="5.0" stroke-linecap="round"/><circle cx="1159.1" cy="276.6" r="4.1" fill="#fff"/></g>
<g opacity="1"><line x1="1155.7" y1="292.2" x2="1167.1" y2="294.1" stroke="#fff" stroke-width="7.5" stroke-linecap="round"/><circle cx="1167.1" cy="294.1" r="7.4" fill="#fff"/></g>
<g opacity="1"><line x1="1149.3" y1="298.5" x2="1157.6" y2="298.8" stroke="#fff" stroke-width="6.2" stroke-linecap="round"/><circle cx="1157.6" cy="298.8" r="4.6" fill="#fff"/></g>
<g opacity="0.55"><line x1="1144.6" y1="298.5" x2="1129.1" y2="297.2" stroke="#fff" stroke-width="6.2" stroke-linecap="round"/><circle cx="1129.1" cy="297.2" r="4.6" fill="#fff"/></g>
<g opacity="1"><line x1="1144.6" y1="306.4" x2="1127.5" y2="308.3" stroke="#fff" stroke-width="5.0" stroke-linecap="round"/><circle cx="1127.5" cy="308.3" r="3.9" fill="#fff"/></g>
<g opacity="1"><line x1="1146.2" y1="304.8" x2="1137.0" y2="305.1" stroke="#fff" stroke-width="6.2" stroke-linecap="round"/><circle cx="1137.0" cy="305.1" r="3.4" fill="#fff"/></g>
<circle cx="1156.5" cy="105.3" r="6" fill="#fff" opacity="1"/>
<circle cx="1156.5" cy="151.2" r="6" fill="#fff" opacity="1"/>
<circle cx="1154.9" cy="213.0" r="7" fill="#fff" opacity="1"/>
<circle cx="1158.0" cy="238.3" r="7" fill="#fff" opacity="1"/>
<circle cx="1152.5" cy="270.0" r="7" fill="#fff" opacity="0.9"/>
<circle cx="1150.1" cy="290.6" r="7" fill="#fff" opacity="0.9"/>
</g></g>
<rect x="1187.00" y="284.60" width="7.00" height="29.30" fill="#fff"/>
</g>
<g id="panelC">
<text x="5.1" y="371.8" font-size="33" font-weight="bold">C</text>
<text transform="translate(50.2,551.4) rotate(-90)" text-anchor="middle" font-size="22.4" textLength="182.5" lengthAdjust="spacingAndGlyphs">p62 band intensity</text>
<rect x="98.20" y="592.20" width="32.80" height="100.50" fill="url(#gGray)"/>
<rect x="140.80" y="493.00" width="32.90" height="199.70" fill="url(#gRed)"/>
<rect x="182.70" y="564.00" width="33.30" height="128.70" fill="url(#gTeal)"/>
<rect x="225.30" y="498.00" width="32.90" height="194.70" fill="url(#gPurF)"/>
<line x1="88" y1="447.4" x2="88" y2="693" stroke="#000" stroke-width="1.8"/>
<line x1="84.2" y1="693" x2="265.7" y2="693" stroke="#000" stroke-width="1.8"/>
<line x1="76" y1="494.4" x2="88.5" y2="494.4" stroke="#000" stroke-width="1.8"/>
<text x="73.4" y="501.23" font-size="23" text-anchor="end">2</text>
<line x1="76" y1="592.6" x2="88.5" y2="592.6" stroke="#000" stroke-width="1.8"/>
<text x="73.4" y="599.43" font-size="23" text-anchor="end">1</text>
<text x="74" y="700.73" font-size="23" text-anchor="end">0</text>
<line x1="114.6" y1="592.2" x2="114.6" y2="582" stroke="#000" stroke-width="1.6"/>
<line x1="105.0" y1="582" x2="124.19999999999999" y2="582" stroke="#000" stroke-width="1.6"/>
<line x1="157.3" y1="493" x2="157.3" y2="472.3" stroke="#000" stroke-width="1.6"/>
<line x1="147.70000000000002" y1="472.3" x2="166.9" y2="472.3" stroke="#000" stroke-width="1.6"/>
<line x1="199.4" y1="564" x2="199.4" y2="553" stroke="#000" stroke-width="1.6"/>
<line x1="189.8" y1="553" x2="209.0" y2="553" stroke="#000" stroke-width="1.6"/>
<line x1="241.8" y1="498" x2="241.8" y2="486.3" stroke="#000" stroke-width="1.6"/>
<line x1="232.20000000000002" y1="486.3" x2="251.4" y2="486.3" stroke="#000" stroke-width="1.6"/>
<circle cx="115.0" cy="567.0" r="3.9" fill="none" stroke="#1a1a1a" stroke-width="0.8"/>
<circle cx="115.0" cy="592.8" r="3.9" fill="none" stroke="#1a1a1a" stroke-width="0.8"/>
<circle cx="115.0" cy="601.0" r="3.9" fill="none" stroke="#1a1a1a" stroke-width="0.8"/>
<circle cx="115.0" cy="606.0" r="3.9" fill="none" stroke="#1a1a1a" stroke-width="0.8"/>
<circle cx="157.5" cy="448.3" r="3.9" fill="none" stroke="#1a1a1a" stroke-width="0.8"/>
<circle cx="157.5" cy="492.5" r="3.9" fill="none" stroke="#1a1a1a" stroke-width="0.8"/>
<circle cx="157.5" cy="507.4" r="3.9" fill="none" stroke="#1a1a1a" stroke-width="0.8"/>
<circle cx="157.5" cy="522.0" r="3.9" fill="none" stroke="#1a1a1a" stroke-width="0.8"/>
<circle cx="199.8" cy="546.0" r="3.9" fill="none" stroke="#1a1a1a" stroke-width="0.8"/>
<circle cx="199.8" cy="558.7" r="3.9" fill="none" stroke="#1a1a1a" stroke-width="0.8"/>
<circle cx="199.8" cy="568.0" r="3.9" fill="none" stroke="#1a1a1a" stroke-width="0.8"/>
<circle cx="199.8" cy="586.0" r="3.9" fill="none" stroke="#1a1a1a" stroke-width="0.8"/>
<circle cx="241.8" cy="470.7" r="3.9" fill="none" stroke="#1a1a1a" stroke-width="0.8"/>
<circle cx="241.8" cy="481.6" r="3.9" fill="none" stroke="#1a1a1a" stroke-width="0.8"/>
<circle cx="241.8" cy="516.4" r="3.9" fill="none" stroke="#1a1a1a" stroke-width="0.8"/>
<circle cx="241.8" cy="523.5" r="3.9" fill="none" stroke="#1a1a1a" stroke-width="0.8"/>
<use href="#ast" transform="translate(114.80,417.70) scale(1.000)"/>
<use href="#ast" transform="translate(136.50,417.70) scale(1.000)"/>
<use href="#ast" transform="translate(158.20,417.70) scale(1.000)"/>
<line x1="113.4" y1="434" x2="159.4" y2="434" stroke="#000" stroke-width="1.7"/>
<use href="#ast" transform="translate(173.90,373.50) scale(1.000)"/>
<use href="#ast" transform="translate(195.50,373.50) scale(1.000)"/>
<line x1="162.2" y1="393.6" x2="207.6" y2="393.6" stroke="#000" stroke-width="1.7"/>
<use href="#ast" transform="translate(221.30,442.80) scale(1.000)"/>
<line x1="200.4" y1="459.8" x2="241.8" y2="459.8" stroke="#000" stroke-width="1.7"/>
<text x="111.8" y="718.7" font-size="20.5" text-anchor="middle">WT</text>
<line x1="94" y1="725.5" x2="135" y2="725.5" stroke="#000" stroke-width="3"/>
<text x="148.5" y="718.7" font-size="20.5"><tspan font-style="italic">Fmr1</tspan> KO <tspan font-style="italic">(Fmr1</tspan><tspan font-style="italic" dy="-6" font-size="14.3">-/y</tspan><tspan font-style="italic" dy="6">)</tspan></text>
<line x1="144.5" y1="725.5" x2="277.5" y2="725.5" stroke="#f5190f" stroke-width="3"/>
<text x="81.4" y="748.3" font-size="20" text-anchor="end" font-style="italic">Syn-Cre:</text>
<text x="81.4" y="773" font-size="20" text-anchor="end" font-style="italic">Atg7:</text>
<text x="113.4" y="748.3" font-size="20" text-anchor="middle" font-style="italic">-/-</text>
<text x="113.4" y="773" font-size="20" text-anchor="middle" font-style="italic">f/f</text>
<text x="157.5" y="748.3" font-size="20" text-anchor="middle" font-style="italic">-/-</text>
<text x="157.5" y="773" font-size="20" text-anchor="middle" font-style="italic">f/f</text>
<text x="199" y="748.3" font-size="20" text-anchor="middle" font-style="italic">-/-</text>
<text x="199" y="773" font-size="20" text-anchor="middle" font-style="italic">f/f</text>
<text x="243" y="748.3" font-size="20" text-anchor="middle" font-style="italic">+/-</text>
<text x="243" y="773" font-size="20" text-anchor="middle" font-style="italic">f/f</text>
<text x="113.4" y="795.8" font-size="18.7" text-anchor="middle">Veh</text>
<text x="157.5" y="795.8" font-size="18.7" text-anchor="middle">Veh</text>
<text x="199.6" y="795.8" font-size="18.7" text-anchor="middle">Ril</text>
<text x="241" y="795.8" font-size="18.7" text-anchor="middle">Ril</text>
</g>
<g id="panelE">
<text x="355.7" y="371.8" font-size="33" font-weight="bold">E</text>
<text transform="translate(376.8,573.6) rotate(-90)" text-anchor="middle" font-size="22.5" textLength="248.2" lengthAdjust="spacingAndGlyphs">Spine number (per 10 μm)</text>
<rect x="445.00" y="567.30" width="32.60" height="126.90" fill="url(#gGray)"/>
<rect x="502.80" y="475.00" width="32.90" height="219.20" fill="url(#gRed)"/>
<rect x="562.00" y="538.40" width="32.70" height="155.80" fill="url(#gTeal)"/>
<rect x="619.00" y="462.30" width="33.20" height="231.90" fill="url(#gPurF)"/>
<line x1="426.9" y1="449" x2="426.9" y2="694.2" stroke="#000" stroke-width="1.8"/>
<line x1="416.6" y1="694.2" x2="674" y2="694.2" stroke="#000" stroke-width="1.8"/>
<line x1="416.59999999999997" y1="449.9" x2="427.4" y2="449.9" stroke="#000" stroke-width="1.8"/>
<text x="412.3" y="458.87" font-size="20.3" text-anchor="end">20</text>
<line x1="416.59999999999997" y1="510.3" x2="427.4" y2="510.3" stroke="#000" stroke-width="1.8"/>
<text x="412.3" y="519.27" font-size="20.3" text-anchor="end">15</text>
<line x1="416.59999999999997" y1="571.9" x2="427.4" y2="571.9" stroke="#000" stroke-width="1.8"/>
<text x="412.3" y="580.87" font-size="20.3" text-anchor="end">10</text>
<line x1="416.59999999999997" y1="633" x2="427.4" y2="633" stroke="#000" stroke-width="1.8"/>
<text x="412.3" y="641.97" font-size="20.3" text-anchor="end">5</text>
<text x="412.3" y="704.07" font-size="20.3" text-anchor="end">0</text>
<line x1="461.3" y1="567.3" x2="461.3" y2="559.2" stroke="#000" stroke-width="1.6"/>
<line x1="450.7" y1="559.2" x2="471.90000000000003" y2="559.2" stroke="#000" stroke-width="1.6"/>
<line x1="519.3" y1="475" x2="519.3" y2="462.3" stroke="#000" stroke-width="1.6"/>
<line x1="508.69999999999993" y1="462.3" x2="529.9" y2="462.3" stroke="#000" stroke-width="1.6"/>
<line x1="578.4" y1="538.4" x2="578.4" y2="529.7" stroke="#000" stroke-width="1.6"/>
<line x1="567.8" y1="529.7" x2="589.0" y2="529.7" stroke="#000" stroke-width="1.6"/>
<line x1="635.6" y1="462.3" x2="635.6" y2="452" stroke="#000" stroke-width="1.6"/>
<line x1="625.0" y1="452" x2="646.2" y2="452" stroke="#000" stroke-width="1.6"/>
<circle cx="461.5" cy="538.4" r="3.9" fill="none" stroke="#1a1a1a" stroke-width="0.8"/>
<circle cx="461.5" cy="565.4" r="3.9" fill="none" stroke="#1a1a1a" stroke-width="0.8"/>
<circle cx="461.5" cy="568.5" r="3.9" fill="none" stroke="#1a1a1a" stroke-width="0.8"/>
<circle cx="461.5" cy="577.2" r="3.9" fill="none" stroke="#1a1a1a" stroke-width="0.8"/>
<circle cx="461.5" cy="585.0" r="3.9" fill="none" stroke="#1a1a1a" stroke-width="0.8"/>
<circle cx="519.6" cy="433.7" r="3.9" fill="none" stroke="#1a1a1a" stroke-width="0.8"/>
<circle cx="519.6" cy="456.7" r="3.9" fill="none" stroke="#1a1a1a" stroke-width="0.8"/>
<circle cx="519.6" cy="473.8" r="3.9" fill="none" stroke="#1a1a1a" stroke-width="0.8"/>
<circle cx="519.6" cy="488.4" r="3.9" fill="none" stroke="#1a1a1a" stroke-width="0.8"/>
<circle cx="519.6" cy="515.7" r="3.9" fill="none" stroke="#1a1a1a" stroke-width="0.8"/>
<circle cx="578.6" cy="502.4" r="3.9" fill="none" stroke="#1a1a1a" stroke-width="0.8"/>
<circle cx="578.6" cy="531.2" r="3.9" fill="none" stroke="#1a1a1a" stroke-width="0.8"/>
<circle cx="578.6" cy="542.0" r="3.9" fill="none" stroke="#1a1a1a" stroke-width="0.8"/>
<circle cx="578.6" cy="550.5" r="3.9" fill="none" stroke="#1a1a1a" stroke-width="0.8"/>
<circle cx="578.6" cy="564.8" r="3.9" fill="none" stroke="#1a1a1a" stroke-width="0.8"/>
<circle cx="635.7" cy="428.7" r="3.9" fill="none" stroke="#1a1a1a" stroke-width="0.8"/>
<circle cx="635.7" cy="441.8" r="3.9" fill="none" stroke="#1a1a1a" stroke-width="0.8"/>
<circle cx="635.7" cy="471.6" r="3.9" fill="none" stroke="#1a1a1a" stroke-width="0.8"/>
<circle cx="635.7" cy="480.6" r="3.9" fill="none" stroke="#1a1a1a" stroke-width="0.8"/>
<circle cx="635.7" cy="491.5" r="3.9" fill="none" stroke="#1a1a1a" stroke-width="0.8"/>
<text x="575.5" y="356.7" font-size="19.5" text-anchor="middle" font-style="italic">N S</text>
<path d="M519,383 V364.4 H637.3 V383" fill="none" stroke="#000" stroke-width="1.6"/>
<use href="#ast" transform="translate(478.90,403.10) scale(1.000)"/>
<use href="#ast" transform="translate(507.00,403.10) scale(1.000)"/>
<use href="#ast" transform="translate(556.80,403.10) scale(1.000)"/>
<use href="#ast" transform="translate(604.00,403.10) scale(1.000)"/>
<use href="#ast" transform="translate(633.00,403.10) scale(1.000)"/>
<line x1="464.3" y1="418.5" x2="519.6" y2="418.5" stroke="#000" stroke-width="1.7"/>
<line x1="528.6" y1="418.5" x2="582.6" y2="418.5" stroke="#000" stroke-width="1.7"/>
<line x1="590" y1="418.5" x2="644.4" y2="418.5" stroke="#000" stroke-width="1.7"/>
<text x="463.2" y="718.6" font-size="20.5" text-anchor="middle">WT</text>
<line x1="445" y1="725.7" x2="485.4" y2="725.7" stroke="#000" stroke-width="3"/>
<text x="498.4" y="718.6" font-size="20.5"><tspan font-style="italic">Fmr1</tspan> KO <tspan font-style="italic">(Fmr1</tspan><tspan font-style="italic" dy="-6" font-size="14.3">-/y</tspan><tspan font-style="italic" dy="6">)</tspan></text>
<line x1="494.7" y1="725.7" x2="660" y2="725.7" stroke="#f5190f" stroke-width="3"/>
<text x="431" y="748.3" font-size="20" text-anchor="end" font-style="italic">Syn-Cre:</text>
<text x="431" y="773.2" font-size="20" text-anchor="end" font-style="italic">Atg7:</text>
<text x="463.3" y="748.3" font-size="20" text-anchor="middle" font-style="italic">-/-</text>
<text x="463.3" y="773.2" font-size="20" text-anchor="middle" font-style="italic">f/f</text>
<text x="520.2" y="748.3" font-size="20" text-anchor="middle" font-style="italic">-/-</text>
<text x="520.2" y="773.2" font-size="20" text-anchor="middle" font-style="italic">f/f</text>
<text x="582.3" y="748.3" font-size="20" text-anchor="middle" font-style="italic">-/-</text>
<text x="582.3" y="773.2" font-size="20" text-anchor="middle" font-style="italic">f/f</text>
<text x="640.7" y="748.3" font-size="20" text-anchor="middle" font-style="italic">+/-</text>
<text x="640.7" y="773.2" font-size="20" text-anchor="middle" font-style="italic">f/f</text>
<text x="465" y="796" font-size="18.7" text-anchor="middle">Veh</text>
<text x="520" y="796" font-size="18.7" text-anchor="middle">Veh</text>
<text x="584" y="796" font-size="18.7" text-anchor="middle">Ril</text>
<text x="639" y="796" font-size="18.7" text-anchor="middle">Ril</text>
</g>
<g id="panelF">
<text x="719.7" y="371.8" font-size="33" font-weight="bold">F</text>
<rect x="772.6999999999999" y="342.59999999999997" width="21.599999999999998" height="13.2" rx="0.8" fill="none" stroke="#858585" stroke-width="0.9"/>
<text x="829.4" y="357.2" font-size="20" textLength="165.7" lengthAdjust="spacingAndGlyphs">Mushroom/Stubby</text>
<clipPath id="lg1"><rect x="1042.3" y="342.2" width="22.4" height="14"/></clipPath>
<g clip-path="url(#lg1)" stroke="#000" stroke-width="2.7"><line x1="1041.8" y1="342.5" x2="1056.3" y2="355.9"/><line x1="1052.8" y1="341.59999999999997" x2="1066.3" y2="354.0"/></g>
<rect x="1042.7" y="342.59999999999997" width="21.599999999999998" height="13.2" rx="0.8" fill="none" stroke="#858585" stroke-width="0.9"/>
<text x="1094.6" y="357.2" font-size="20" textLength="88.4" lengthAdjust="spacingAndGlyphs">Filopodial</text>
<text transform="translate(731.4,564.3) rotate(-90)" text-anchor="middle" font-size="22.6" textLength="290" lengthAdjust="spacingAndGlyphs">Fraction of total spines (100%)</text>
<rect x="812.40" y="468.70" width="32.60" height="224.00" fill="url(#gGray)"/>
<rect x="845.00" y="622.60" width="33.70" height="70.10" fill="#bcbcbc"/>
<rect x="845.00" y="622.60" width="33.70" height="70.10" fill="url(#hatch)"/>
<rect x="909.70" y="604.70" width="33.20" height="88.00" fill="url(#gRed)"/>
<rect x="942.90" y="505.30" width="32.70" height="187.40" fill="#f8200f"/>
<rect x="942.90" y="505.30" width="32.70" height="187.40" fill="url(#hatch)"/>
<rect x="1007.50" y="507.00" width="32.30" height="185.70" fill="url(#gTeal)"/>
<rect x="1039.80" y="592.00" width="32.70" height="100.70" fill="#6ecadb"/>
<rect x="1039.80" y="592.00" width="32.70" height="100.70" fill="url(#hatch)"/>
<rect x="1104.40" y="604.00" width="32.60" height="88.70" fill="url(#gPur)"/>
<rect x="1137.00" y="516.80" width="32.40" height="175.90" fill="#bda6d6"/>
<rect x="1137.00" y="516.80" width="32.40" height="175.90" fill="url(#hatch)"/>
<line x1="788.6" y1="446.4" x2="788.6" y2="692.7" stroke="#000" stroke-width="1.8"/>
<line x1="779" y1="692.7" x2="1189.4" y2="692.7" stroke="#000" stroke-width="1.8"/>
<line x1="779.0" y1="447.3" x2="789.1" y2="447.3" stroke="#000" stroke-width="1.8"/>
<text transform="translate(770.8,456.69) scale(1.12,1)" text-anchor="end" font-size="19.8">40</text>
<line x1="779.0" y1="508.5" x2="789.1" y2="508.5" stroke="#000" stroke-width="1.8"/>
<text transform="translate(770.8,515.59) scale(1.12,1)" text-anchor="end" font-size="19.8">30</text>
<line x1="779.0" y1="569.4" x2="789.1" y2="569.4" stroke="#000" stroke-width="1.8"/>
<text transform="translate(770.8,576.49) scale(1.12,1)" text-anchor="end" font-size="19.8">20</text>
<line x1="779.0" y1="630.6" x2="789.1" y2="630.6" stroke="#000" stroke-width="1.8"/>
<text transform="translate(770.8,637.69) scale(1.12,1)" text-anchor="end" font-size="19.8">10</text>
<text transform="translate(771.6,704.09) scale(1.12,1)" text-anchor="end" font-size="19.8">0</text>
<line x1="828.7" y1="468.7" x2="828.7" y2="451.7" stroke="#000" stroke-width="1.6"/>
<line x1="818.2" y1="451.7" x2="839.2" y2="451.7" stroke="#000" stroke-width="1.6"/>
<line x1="861.8" y1="622.6" x2="861.8" y2="609.8" stroke="#000" stroke-width="1.6"/>
<line x1="851.3" y1="609.8" x2="872.3" y2="609.8" stroke="#000" stroke-width="1.6"/>
<line x1="926.3" y1="604.7" x2="926.3" y2="587.7" stroke="#000" stroke-width="1.6"/>
<line x1="915.8" y1="587.7" x2="936.8" y2="587.7" stroke="#000" stroke-width="1.6"/>
<line x1="959.2" y1="505.3" x2="959.2" y2="487.9" stroke="#000" stroke-width="1.6"/>
<line x1="948.7" y1="487.9" x2="969.7" y2="487.9" stroke="#000" stroke-width="1.6"/>
<line x1="1023.6" y1="507" x2="1023.6" y2="486.6" stroke="#000" stroke-width="1.6"/>
<line x1="1013.1" y1="486.6" x2="1034.1" y2="486.6" stroke="#000" stroke-width="1.6"/>
<line x1="1056.2" y1="592" x2="1056.2" y2="578.4" stroke="#000" stroke-width="1.6"/>
<line x1="1045.7" y1="578.4" x2="1066.7" y2="578.4" stroke="#000" stroke-width="1.6"/>
<line x1="1120.7" y1="604" x2="1120.7" y2="590.7" stroke="#000" stroke-width="1.6"/>
<line x1="1110.2" y1="590.7" x2="1131.2" y2="590.7" stroke="#000" stroke-width="1.6"/>
<line x1="1153.2" y1="516.8" x2="1153.2" y2="502" stroke="#000" stroke-width="1.6"/>
<line x1="1142.7" y1="502" x2="1163.7" y2="502" stroke="#000" stroke-width="1.6"/>
<circle cx="829.0" cy="422.0" r="3.9" fill="none" stroke="#1a1a1a" stroke-width="0.8"/>
<circle cx="829.0" cy="446.2" r="3.9" fill="none" stroke="#1a1a1a" stroke-width="0.8"/>
<circle cx="829.0" cy="468.7" r="3.9" fill="none" stroke="#1a1a1a" stroke-width="0.8"/>
<circle cx="829.0" cy="490.0" r="3.9" fill="none" stroke="#1a1a1a" stroke-width="0.8"/>
<circle cx="829.0" cy="519.7" r="3.9" fill="none" stroke="#1a1a1a" stroke-width="0.8"/>
<circle cx="861.7" cy="588.6" r="3.9" fill="none" stroke="#1a1a1a" stroke-width="0.8"/>
<circle cx="861.7" cy="606.0" r="3.9" fill="none" stroke="#1a1a1a" stroke-width="0.8"/>
<circle cx="861.7" cy="613.2" r="3.9" fill="none" stroke="#1a1a1a" stroke-width="0.8"/>
<circle cx="861.7" cy="637.5" r="3.9" fill="none" stroke="#1a1a1a" stroke-width="0.8"/>
<circle cx="861.7" cy="662.0" r="3.9" fill="none" stroke="#1a1a1a" stroke-width="0.8"/>
<circle cx="926.3" cy="557.0" r="3.9" fill="none" stroke="#1a1a1a" stroke-width="0.8"/>
<circle cx="926.3" cy="575.8" r="3.9" fill="none" stroke="#1a1a1a" stroke-width="0.8"/>
<circle cx="926.3" cy="600.5" r="3.9" fill="none" stroke="#1a1a1a" stroke-width="0.8"/>
<circle cx="926.3" cy="631.5" r="3.9" fill="none" stroke="#1a1a1a" stroke-width="0.8"/>
<circle cx="926.3" cy="649.4" r="3.9" fill="none" stroke="#1a1a1a" stroke-width="0.8"/>
<circle cx="959.4" cy="439.8" r="3.9" fill="none" stroke="#1a1a1a" stroke-width="0.8"/>
<circle cx="959.4" cy="502.7" r="3.9" fill="none" stroke="#1a1a1a" stroke-width="0.8"/>
<circle cx="959.4" cy="519.7" r="3.9" fill="none" stroke="#1a1a1a" stroke-width="0.8"/>
<circle cx="959.4" cy="555.9" r="3.9" fill="none" stroke="#1a1a1a" stroke-width="0.8"/>
<circle cx="1023.6" cy="466.6" r="3.9" fill="none" stroke="#1a1a1a" stroke-width="0.8"/>
<circle cx="1023.6" cy="472.0" r="3.9" fill="none" stroke="#1a1a1a" stroke-width="0.8"/>
<circle cx="1023.6" cy="490.0" r="3.9" fill="none" stroke="#1a1a1a" stroke-width="0.8"/>
<circle cx="1023.6" cy="533.3" r="3.9" fill="none" stroke="#1a1a1a" stroke-width="0.8"/>
<circle cx="1023.6" cy="570.7" r="3.9" fill="none" stroke="#1a1a1a" stroke-width="0.8"/>
<circle cx="1056.3" cy="551.6" r="3.9" fill="none" stroke="#1a1a1a" stroke-width="0.8"/>
<circle cx="1056.3" cy="569.5" r="3.9" fill="none" stroke="#1a1a1a" stroke-width="0.8"/>
<circle cx="1056.3" cy="602.6" r="3.9" fill="none" stroke="#1a1a1a" stroke-width="0.8"/>
<circle cx="1056.3" cy="609.0" r="3.9" fill="none" stroke="#1a1a1a" stroke-width="0.8"/>
<circle cx="1056.3" cy="625.0" r="3.9" fill="none" stroke="#1a1a1a" stroke-width="0.8"/>
<circle cx="1120.5" cy="569.5" r="3.9" fill="none" stroke="#1a1a1a" stroke-width="0.8"/>
<circle cx="1120.5" cy="582.2" r="3.9" fill="none" stroke="#1a1a1a" stroke-width="0.8"/>
<circle cx="1120.5" cy="600.5" r="3.9" fill="none" stroke="#1a1a1a" stroke-width="0.8"/>
<circle cx="1120.5" cy="625.0" r="3.9" fill="none" stroke="#1a1a1a" stroke-width="0.8"/>
<circle cx="1120.5" cy="637.5" r="3.9" fill="none" stroke="#1a1a1a" stroke-width="0.8"/>
<circle cx="1153.2" cy="461.0" r="3.9" fill="none" stroke="#1a1a1a" stroke-width="0.8"/>
<circle cx="1153.2" cy="503.6" r="3.9" fill="none" stroke="#1a1a1a" stroke-width="0.8"/>
<circle cx="1153.2" cy="521.9" r="3.9" fill="none" stroke="#1a1a1a" stroke-width="0.8"/>
<circle cx="1153.2" cy="534.6" r="3.9" fill="none" stroke="#1a1a1a" stroke-width="0.8"/>
<circle cx="1153.2" cy="546.0" r="3.9" fill="none" stroke="#1a1a1a" stroke-width="0.8"/>
<path d="M959.9,413.5 V390 H1153.2 V470.9 M1060.6,390 V413.5" fill="none" stroke="#000" stroke-width="1.6"/>
<path d="M925.9,527 V444 H1119.2 V527 M1024.5,444 V468.7" fill="none" stroke="#000" stroke-width="1.6"/>
<use href="#ast" transform="translate(995.30,373.40) scale(1.000)"/>
<use href="#ast" transform="translate(1022.30,373.40) scale(1.000)"/>
<use href="#ast" transform="translate(1106.50,373.40) scale(1.000)"/>
<use href="#ast" transform="translate(958.80,429.50) scale(1.000)"/>
<use href="#ast" transform="translate(983.50,429.50) scale(1.000)"/>
<use href="#ast" transform="translate(1056.80,429.50) scale(1.000)"/>
<use href="#ast" transform="translate(1081.30,429.50) scale(1.000)"/>
<text x="843" y="718.6" font-size="20" text-anchor="middle">WT</text>
<line x1="799" y1="725" x2="880.4" y2="725" stroke="#000" stroke-width="2.6"/>
<text x="950.8" y="718.6" font-size="20.5"><tspan font-style="italic">Fmr1</tspan> KO <tspan font-style="italic">(Fmr1</tspan><tspan font-style="italic" dy="-6" font-size="14.3">-/y</tspan><tspan font-style="italic" dy="6">)</tspan></text>
<line x1="898" y1="725" x2="1178.7" y2="725" stroke="#f5190f" stroke-width="2.6"/>
<text x="782.6" y="747.5" font-size="20" text-anchor="end" font-style="italic">Syn-Cre:</text>
<text x="782.6" y="773" font-size="20" text-anchor="end" font-style="italic">Atg7:</text>
<text x="843.8" y="747.5" font-size="20" text-anchor="middle" font-style="italic">-/-</text>
<text x="843.8" y="773" font-size="20" text-anchor="middle" font-style="italic">f/f</text>
<text x="945" y="747.5" font-size="20" text-anchor="middle" font-style="italic">-/-</text>
<text x="945" y="773" font-size="20" text-anchor="middle" font-style="italic">f/f</text>
<text x="1034" y="747.5" font-size="20" text-anchor="middle" font-style="italic">-/-</text>
<text x="1034" y="773" font-size="20" text-anchor="middle" font-style="italic">f/f</text>
<text x="1133" y="747.5" font-size="20" text-anchor="middle" font-style="italic">+/-</text>
<text x="1133" y="773" font-size="20" text-anchor="middle" font-style="italic">f/f</text>
<text x="843.8" y="794.6" font-size="18.7" text-anchor="middle">Veh</text>
<text x="945" y="794.6" font-size="18.7" text-anchor="middle">Veh</text>
<text x="1034" y="794.6" font-size="18.7" text-anchor="middle">Ril</text>
<text x="1133" y="794.6" font-size="18.7" text-anchor="middle">Ril</text>
</g>
<g id="panelG">
<text x="4.6" y="848" font-size="33" font-weight="bold">G</text>
<text x="357.9" y="830" font-size="21.4" text-anchor="middle" font-weight="bold" textLength="250" lengthAdjust="spacingAndGlyphs">Novel object recognition</text>
<text x="7" y="885.8" font-size="20" font-style="italic" textLength="142.5" lengthAdjust="spacingAndGlyphs">WT:Cre<tspan font-size="12.5" dy="-7">-/-</tspan><tspan dy="7">:Atg7</tspan><tspan font-size="12.5" dy="-7">f/f</tspan></text>
<text x="171" y="885.8" font-size="20" font-style="italic" textLength="175.7" lengthAdjust="spacingAndGlyphs">Fmr1<tspan font-size="12.5" dy="-7">-/y</tspan><tspan dy="7">:Cre</tspan><tspan font-size="12.5" dy="-7">-/-</tspan><tspan dy="7">:Atg7</tspan><tspan font-size="12.5" dy="-7">f/f</tspan></text>
<text x="358" y="885.8" font-size="20" font-style="italic" textLength="174.7" lengthAdjust="spacingAndGlyphs">Fmr1<tspan font-size="12.5" dy="-7">-/y</tspan><tspan dy="7">:Cre</tspan><tspan font-size="12.5" dy="-7">-/-</tspan><tspan dy="7">:Atg7</tspan><tspan font-size="12.5" dy="-7">f/f</tspan></text>
<text x="544.7" y="885.8" font-size="20" font-style="italic" textLength="178" lengthAdjust="spacingAndGlyphs">Fmr1<tspan font-size="12.5" dy="-7">-/y</tspan><tspan dy="7">:Cre</tspan><tspan font-size="12.5" dy="-7">+/-</tspan><tspan dy="7">:Atg7</tspan><tspan font-size="12.5" dy="-7">f/f</tspan></text>
<text x="76.8" y="913.4" font-size="20" text-anchor="middle">+ Veh</text>
<text x="262.8" y="913.4" font-size="20" text-anchor="middle">+ Veh</text>
<text x="451" y="913.4" font-size="20" text-anchor="middle">+ Ril</text>
<text x="618" y="913.4" font-size="20" text-anchor="middle">+ Ril</text>
<line x1="2" y1="918.6" x2="174" y2="918.6" stroke="#000" stroke-width="3"/>
<line x1="180" y1="918.6" x2="352.6" y2="918.6" stroke="#f5190f" stroke-width="3"/>
<line x1="358.6" y1="918.6" x2="531.6" y2="918.6" stroke="#55c3ee" stroke-width="3"/>
<line x1="537.6" y1="918.6" x2="710.6" y2="918.6" stroke="#7a46a6" stroke-width="3"/>
<clipPath id="hc0"><rect x="2" y="923.6" width="172.0" height="157.4"/></clipPath>
<g clip-path="url(#hc0)"><g filter="url(#heat)"><rect x="-18" y="900" width="212.0" height="200" fill="#000"/>
<circle cx="22.5" cy="939.6" r="7.4" fill="#fff" opacity="0.5"/>
<circle cx="14.5" cy="942.1" r="6.310526460059323" fill="#fff" opacity="0.27450401121596374"/>
<circle cx="14.0" cy="939.2" r="4.461650859637191" fill="#fff" opacity="0.2819053822466889"/>
<circle cx="15.8" cy="932.5" r="4.235308640573046" fill="#fff" opacity="0.24854420201992408"/>
<circle cx="13.5" cy="945.0" r="7.4" fill="#fff" opacity="0.36"/>
<circle cx="21.8" cy="950.3" r="5.733596206353098" fill="#fff" opacity="0.14882461474980627"/>
<circle cx="24.2" cy="943.8" r="5.634806333834601" fill="#fff" opacity="0.21491282356745134"/>
<circle cx="16.3" cy="949.3" r="5.320953165426197" fill="#fff" opacity="0.1508602873154521"/>
<circle cx="21.0" cy="952.5" r="7.4" fill="#fff" opacity="0.36"/>
<circle cx="23.4" cy="958.5" r="4.0752064730619715" fill="#fff" opacity="0.19744524993292237"/>
<circle cx="11.6" cy="956.2" r="5.297810286910192" fill="#fff" opacity="0.21776160475228917"/>
<circle cx="12.0" cy="952.5" r="5.1433247039988945" fill="#fff" opacity="0.17604436604127965"/>
<circle cx="24.0" cy="960.0" r="7.4" fill="#fff" opacity="0.36"/>
<circle cx="35.0" cy="959.8" r="6.100538873732154" fill="#fff" opacity="0.22553966839656378"/>
<circle cx="21.5" cy="965.8" r="4.7225998682855055" fill="#fff" opacity="0.15208974714930346"/>
<circle cx="24.8" cy="952.6" r="6.116459054702947" fill="#fff" opacity="0.18852635885252367"/>
<circle cx="30.0" cy="969.0" r="7.4" fill="#fff" opacity="0.36"/>
<circle cx="39.7" cy="966.4" r="4.001362342638926" fill="#fff" opacity="0.1681594461768512"/>
<circle cx="36.6" cy="964.8" r="6.45089735293573" fill="#fff" opacity="0.1897832895067332"/>
<circle cx="37.9" cy="972.9" r="5.946277146691627" fill="#fff" opacity="0.17507814760513643"/>
<circle cx="51.0" cy="946.5" r="7.4" fill="#fff" opacity="0.22"/>
<circle cx="57.0" cy="950.1" r="6.41019054148441" fill="#fff" opacity="0.1413660523963606"/>
<circle cx="55.8" cy="950.9" r="4.252615772391763" fill="#fff" opacity="0.0922164955670518"/>
<circle cx="52.8" cy="940.7" r="5.398237854025988" fill="#fff" opacity="0.11949871137607193"/>
<circle cx="75.0" cy="942.0" r="7.4" fill="#fff" opacity="0.22"/>
<circle cx="78.4" cy="950.7" r="4.32741770929155" fill="#fff" opacity="0.13331754470926616"/>
<circle cx="80.6" cy="947.0" r="4.532164182522724" fill="#fff" opacity="0.10699356639421811"/>
<circle cx="84.7" cy="940.2" r="4.760362874677474" fill="#fff" opacity="0.15029450393752755"/>
<circle cx="82.5" cy="952.5" r="7.4" fill="#fff" opacity="0.22"/>
<circle cx="84.3" cy="959.6" r="6.135942254253076" fill="#fff" opacity="0.13318523022396841"/>
<circle cx="91.3" cy="958.9" r="4.533108421443806" fill="#fff" opacity="0.10618274007345808"/>
<circle cx="83.5" cy="945.6" r="4.740811906497366" fill="#fff" opacity="0.09316725815854507"/>
<circle cx="141.0" cy="942.0" r="7.4" fill="#fff" opacity="0.36"/>
<circle cx="148.2" cy="946.6" r="4.607532300343906" fill="#fff" opacity="0.21326789878063934"/>
<circle cx="135.7" cy="947.6" r="6.3978366812182825" fill="#fff" opacity="0.19972506623184516"/>
<circle cx="131.9" cy="937.4" r="4.4570692894467125" fill="#fff" opacity="0.1617563887402822"/>
<circle cx="150.0" cy="951.0" r="7.4" fill="#fff" opacity="0.36"/>
<circle cx="158.3" cy="945.6" r="4.623746416073124" fill="#fff" opacity="0.16586503671896757"/>
<circle cx="149.3" cy="940.4" r="4.491474488507472" fill="#fff" opacity="0.2534556501859559"/>
<circle cx="156.4" cy="945.2" r="5.053643059868395" fill="#fff" opacity="0.15596233129324202"/>
<circle cx="132.0" cy="949.5" r="7.4" fill="#fff" opacity="0.22"/>
<circle cx="142.5" cy="952.1" r="4.596017981689957" fill="#fff" opacity="0.13760239402330973"/>
<circle cx="131.6" cy="959.4" r="5.491165766324839" fill="#fff" opacity="0.1086578483925255"/>
<circle cx="136.2" cy="957.8" r="4.171940310418609" fill="#fff" opacity="0.10407910214768883"/>
<circle cx="156.0" cy="957.0" r="7.4" fill="#fff" opacity="0.36"/>
<circle cx="146.6" cy="953.3" r="5.53575753931217" fill="#fff" opacity="0.1762812740241625"/>
<circle cx="161.4" cy="953.9" r="4.0414369826978875" fill="#fff" opacity="0.17501114050892247"/>
<circle cx="150.9" cy="958.8" r="4.440634438432043" fill="#fff" opacity="0.18648407466688466"/>
<circle cx="28.5" cy="981.0" r="7.4" fill="#fff" opacity="0.36"/>
<circle cx="23.3" cy="978.5" r="4.905362891748702" fill="#fff" opacity="0.24663631449252238"/>
<circle cx="37.4" cy="979.9" r="5.728053978121634" fill="#fff" opacity="0.21132751889435658"/>
<circle cx="31.8" cy="985.0" r="4.044735492668913" fill="#fff" opacity="0.2488564745156525"/>
<circle cx="40.5" cy="984.0" r="7.4" fill="#fff" opacity="0.5"/>
<circle cx="37.2" cy="973.7" r="4.0531479455227535" fill="#fff" opacity="0.3017895234523221"/>
<circle cx="31.2" cy="985.0" r="4.797261225741464" fill="#fff" opacity="0.35989722022108084"/>
<circle cx="47.9" cy="987.8" r="5.842513737165647" fill="#fff" opacity="0.3440313409999006"/>
<circle cx="40.5" cy="984.0" r="4.0" fill="#fff" opacity="0.55"/>
<circle cx="54.0" cy="987.0" r="7.4" fill="#fff" opacity="0.5"/>
<circle cx="53.3" cy="977.8" r="5.98316669023371" fill="#fff" opacity="0.3464004127283264"/>
<circle cx="48.6" cy="994.3" r="6.252089848325947" fill="#fff" opacity="0.33937620145952174"/>
<circle cx="45.5" cy="991.8" r="6.1586816851035815" fill="#fff" opacity="0.2916491997415215"/>
<circle cx="60.0" cy="981.0" r="7.4" fill="#fff" opacity="0.36"/>
<circle cx="54.8" cy="975.8" r="5.4566972295278156" fill="#fff" opacity="0.21414146696569838"/>
<circle cx="67.7" cy="985.3" r="6.483305470220806" fill="#fff" opacity="0.24535201871359028"/>
<circle cx="59.0" cy="973.7" r="5.837595378871196" fill="#fff" opacity="0.21092577162931464"/>
<circle cx="18.0" cy="996.0" r="7.4" fill="#fff" opacity="0.36"/>
<circle cx="8.7" cy="999.7" r="4.209455555653146" fill="#fff" opacity="0.23042421242053807"/>
<circle cx="26.5" cy="997.6" r="5.202392038373103" fill="#fff" opacity="0.17052153335729237"/>
<circle cx="15.5" cy="988.4" r="5.5362581547374194" fill="#fff" opacity="0.2500374843002963"/>
<circle cx="27.0" cy="1014.0" r="7.4" fill="#fff" opacity="0.5"/>
<circle cx="26.8" cy="1019.1" r="4.752581602767489" fill="#fff" opacity="0.30850191666097415"/>
<circle cx="28.8" cy="1019.8" r="6.264303999813725" fill="#fff" opacity="0.3055984007481354"/>
<circle cx="17.3" cy="1017.7" r="4.81740154707352" fill="#fff" opacity="0.3065438500053874"/>
<circle cx="37.5" cy="1024.5" r="7.4" fill="#fff" opacity="0.5"/>
<circle cx="39.9" cy="1031.7" r="6.014970998365985" fill="#fff" opacity="0.3462753918174408"/>
<circle cx="42.8" cy="1019.5" r="5.457767969384853" fill="#fff" opacity="0.2506378951190621"/>
<circle cx="42.7" cy="1030.5" r="6.092739043676349" fill="#fff" opacity="0.33579524879523803"/>
<circle cx="37.5" cy="1024.5" r="4.0" fill="#fff" opacity="0.55"/>
<circle cx="48.0" cy="1020.0" r="7.4" fill="#fff" opacity="0.5"/>
<circle cx="45.4" cy="1009.6" r="4.691989992221028" fill="#fff" opacity="0.22706062568763422"/>
<circle cx="41.7" cy="1022.0" r="4.535200942883196" fill="#fff" opacity="0.2662375681192256"/>
<circle cx="42.4" cy="1014.3" r="4.788429113408114" fill="#fff" opacity="0.33425894599187617"/>
<circle cx="61.5" cy="1015.5" r="7.4" fill="#fff" opacity="0.5"/>
<circle cx="69.2" cy="1014.6" r="4.186698042391377" fill="#fff" opacity="0.20503772411122764"/>
<circle cx="65.2" cy="1011.7" r="5.771577322502999" fill="#fff" opacity="0.29129311365391575"/>
<circle cx="58.0" cy="1024.6" r="4.047785037029265" fill="#fff" opacity="0.22174098539971002"/>
<circle cx="72.0" cy="1011.0" r="7.4" fill="#fff" opacity="0.36"/>
<circle cx="67.1" cy="1012.4" r="6.07417108614766" fill="#fff" opacity="0.17134951782353292"/>
<circle cx="75.3" cy="1015.1" r="5.572950763912962" fill="#fff" opacity="0.1954345843297178"/>
<circle cx="65.9" cy="1004.5" r="6.018462277365533" fill="#fff" opacity="0.25441466710106997"/>
<circle cx="22.5" cy="1026.0" r="7.4" fill="#fff" opacity="0.36"/>
<circle cx="20.0" cy="1020.3" r="5.187855755091499" fill="#fff" opacity="0.16458463815956176"/>
<circle cx="30.3" cy="1026.5" r="5.785427388477605" fill="#fff" opacity="0.1646321827924833"/>
<circle cx="21.5" cy="1033.0" r="5.743278930835776" fill="#fff" opacity="0.20395272345578616"/>
<circle cx="114.0" cy="985.5" r="7.4" fill="#fff" opacity="0.36"/>
<circle cx="106.8" cy="979.2" r="4.9837905289374635" fill="#fff" opacity="0.23523059380513356"/>
<circle cx="118.6" cy="982.4" r="6.331509569522906" fill="#fff" opacity="0.22721785073201653"/>
<circle cx="119.3" cy="991.1" r="5.563870439069827" fill="#fff" opacity="0.24882800932507884"/>
<circle cx="120.0" cy="993.0" r="7.4" fill="#fff" opacity="0.36"/>
<circle cx="114.0" cy="998.9" r="6.19830206600298" fill="#fff" opacity="0.23578758615255824"/>
<circle cx="127.3" cy="990.3" r="5.628306414602955" fill="#fff" opacity="0.16760383080393615"/>
<circle cx="118.3" cy="983.2" r="5.604040766586185" fill="#fff" opacity="0.22667465726007047"/>
<circle cx="132.0" cy="984.0" r="7.4" fill="#fff" opacity="0.36"/>
<circle cx="134.4" cy="994.1" r="6.451232878264829" fill="#fff" opacity="0.25659170177352125"/>
<circle cx="122.5" cy="981.8" r="4.800986816396623" fill="#fff" opacity="0.24883081574100627"/>
<circle cx="136.4" cy="978.4" r="4.206931457615175" fill="#fff" opacity="0.19479181738648288"/>
<circle cx="153.0" cy="984.0" r="7.4" fill="#fff" opacity="0.36"/>
<circle cx="143.9" cy="981.0" r="5.218618730451131" fill="#fff" opacity="0.14727287368437297"/>
<circle cx="155.0" cy="979.0" r="5.99964966690362" fill="#fff" opacity="0.16391765459042526"/>
<circle cx="148.0" cy="992.4" r="4.351250497075952" fill="#fff" opacity="0.161127423763124"/>
<circle cx="156.0" cy="996.0" r="7.4" fill="#fff" opacity="0.36"/>
<circle cx="146.7" cy="995.0" r="6.099941106101243" fill="#fff" opacity="0.22341560191740692"/>
<circle cx="163.5" cy="993.3" r="6.372885936667455" fill="#fff" opacity="0.15390990808682942"/>
<circle cx="157.5" cy="1004.0" r="4.725424193426216" fill="#fff" opacity="0.22796273680246165"/>
<circle cx="106.5" cy="1027.5" r="7.4" fill="#fff" opacity="0.5"/>
<circle cx="101.3" cy="1021.3" r="6.109058497607933" fill="#fff" opacity="0.28959537417473"/>
<circle cx="103.7" cy="1034.2" r="6.113151417487671" fill="#fff" opacity="0.3440840060823376"/>
<circle cx="109.1" cy="1037.3" r="6.421100913448483" fill="#fff" opacity="0.28387615117187787"/>
<circle cx="106.5" cy="1027.5" r="4.6" fill="#fff" opacity="1.0"/>
<circle cx="120.0" cy="1018.5" r="7.4" fill="#fff" opacity="0.5"/>
<circle cx="114.4" cy="1015.8" r="5.339759195489448" fill="#fff" opacity="0.28050785661332106"/>
<circle cx="115.9" cy="1015.3" r="6.423512154146152" fill="#fff" opacity="0.2825628434626503"/>
<circle cx="112.0" cy="1024.2" r="5.407166721707786" fill="#fff" opacity="0.2785664714494014"/>
<circle cx="132.0" cy="1026.0" r="7.4" fill="#fff" opacity="0.36"/>
<circle cx="130.0" cy="1021.0" r="5.346788601184913" fill="#fff" opacity="0.1916667748724982"/>
<circle cx="142.2" cy="1023.2" r="4.673034475115639" fill="#fff" opacity="0.1985082047879533"/>
<circle cx="137.3" cy="1031.4" r="6.039292639786183" fill="#fff" opacity="0.24774398997117647"/>
<circle cx="144.0" cy="1023.0" r="7.4" fill="#fff" opacity="0.36"/>
<circle cx="137.2" cy="1024.0" r="4.478629291421534" fill="#fff" opacity="0.2151814902558068"/>
<circle cx="149.2" cy="1020.4" r="5.9482221077621045" fill="#fff" opacity="0.1466249402351974"/>
<circle cx="146.2" cy="1029.0" r="5.71758508838864" fill="#fff" opacity="0.1811038751137185"/>
<circle cx="150.0" cy="1014.0" r="7.4" fill="#fff" opacity="0.36"/>
<circle cx="144.6" cy="1020.9" r="4.262213768431478" fill="#fff" opacity="0.22819896004105858"/>
<circle cx="155.8" cy="1019.6" r="4.626384107725625" fill="#fff" opacity="0.16677836325762824"/>
<circle cx="142.5" cy="1012.6" r="4.939340491462622" fill="#fff" opacity="0.19162391180292296"/>
<circle cx="103.5" cy="1017.0" r="7.4" fill="#fff" opacity="0.36"/>
<circle cx="97.6" cy="1015.9" r="4.510665604171139" fill="#fff" opacity="0.21672748764095712"/>
<circle cx="98.2" cy="1010.8" r="6.128145425448963" fill="#fff" opacity="0.21446912348554625"/>
<circle cx="107.5" cy="1012.0" r="5.851928934974298" fill="#fff" opacity="0.23737054997714635"/>
<circle cx="21.0" cy="1050.0" r="7.4" fill="#fff" opacity="0.36"/>
<circle cx="26.6" cy="1046.0" r="4.787471083749879" fill="#fff" opacity="0.25030275495072996"/>
<circle cx="23.2" cy="1060.8" r="6.218854224250871" fill="#fff" opacity="0.1594289922714937"/>
<circle cx="21.6" cy="1059.3" r="4.648743778241778" fill="#fff" opacity="0.15517622889644386"/>
<circle cx="18.0" cy="1062.0" r="7.4" fill="#fff" opacity="0.36"/>
<circle cx="21.7" cy="1055.5" r="5.97483956264032" fill="#fff" opacity="0.15851557720239756"/>
<circle cx="10.5" cy="1067.2" r="4.044396689088211" fill="#fff" opacity="0.16714760419169428"/>
<circle cx="13.7" cy="1052.5" r="6.420945658559415" fill="#fff" opacity="0.15729526008056688"/>
<circle cx="30.0" cy="1068.0" r="7.4" fill="#fff" opacity="0.36"/>
<circle cx="20.5" cy="1067.7" r="5.256963610622783" fill="#fff" opacity="0.22299063906636632"/>
<circle cx="32.0" cy="1073.0" r="4.2654333044645325" fill="#fff" opacity="0.14831261252002476"/>
<circle cx="22.3" cy="1065.4" r="5.421855436289253" fill="#fff" opacity="0.16088311545430567"/>
<circle cx="54.0" cy="1047.0" r="7.4" fill="#fff" opacity="0.22"/>
<circle cx="56.5" cy="1052.7" r="6.100535727255554" fill="#fff" opacity="0.15771721716470904"/>
<circle cx="59.0" cy="1044.5" r="4.154862704397184" fill="#fff" opacity="0.15498524358227833"/>
<circle cx="44.7" cy="1049.3" r="4.817068170586309" fill="#fff" opacity="0.1208739746423186"/>
<circle cx="81.0" cy="1065.0" r="7.4" fill="#fff" opacity="0.36"/>
<circle cx="73.5" cy="1064.3" r="5.5023244986898066" fill="#fff" opacity="0.14552593972263878"/>
<circle cx="78.0" cy="1055.4" r="4.453172966986072" fill="#fff" opacity="0.19629515306817177"/>
<circle cx="80.5" cy="1057.6" r="4.487814761788999" fill="#fff" opacity="0.16301683195621633"/>
<circle cx="90.0" cy="1071.0" r="7.4" fill="#fff" opacity="0.22"/>
<circle cx="84.9" cy="1070.6" r="6.2329624944333935" fill="#fff" opacity="0.14444011393837786"/>
<circle cx="87.1" cy="1061.2" r="5.573465819276619" fill="#fff" opacity="0.11647749792416208"/>
<circle cx="83.5" cy="1066.3" r="6.456700621935996" fill="#fff" opacity="0.14465942656451905"/>
<circle cx="102.0" cy="1062.0" r="7.4" fill="#fff" opacity="0.36"/>
<circle cx="101.5" cy="1072.5" r="5.861087265293622" fill="#fff" opacity="0.23362421535876585"/>
<circle cx="104.9" cy="1055.2" r="6.241362674718922" fill="#fff" opacity="0.24535774200914998"/>
<circle cx="98.7" cy="1053.0" r="5.9130728427609345" fill="#fff" opacity="0.1907418825017413"/>
<circle cx="144.0" cy="1044.0" r="7.4" fill="#fff" opacity="0.36"/>
<circle cx="143.1" cy="1038.7" r="4.8542966526316365" fill="#fff" opacity="0.19801041306569755"/>
<circle cx="151.1" cy="1044.5" r="5.596780194019985" fill="#fff" opacity="0.21588713612042693"/>
<circle cx="145.2" cy="1054.6" r="5.665233919375881" fill="#fff" opacity="0.1829163587517195"/>
<circle cx="153.0" cy="1050.0" r="7.4" fill="#fff" opacity="0.36"/>
<circle cx="148.5" cy="1042.9" r="5.332699192256368" fill="#fff" opacity="0.18888123737643078"/>
<circle cx="161.9" cy="1050.0" r="5.753126738958255" fill="#fff" opacity="0.2317524138983126"/>
<circle cx="158.1" cy="1049.4" r="5.538491046206232" fill="#fff" opacity="0.22910917016346738"/>
<circle cx="156.0" cy="1062.0" r="7.4" fill="#fff" opacity="0.36"/>
<circle cx="155.7" cy="1069.4" r="4.126142329746955" fill="#fff" opacity="0.16651538999863494"/>
<circle cx="152.0" cy="1065.9" r="4.62721863902531" fill="#fff" opacity="0.2483301040713911"/>
<circle cx="148.3" cy="1059.5" r="6.417840706569603" fill="#fff" opacity="0.20943112407850867"/>
<circle cx="147.0" cy="1071.0" r="7.4" fill="#fff" opacity="0.36"/>
<circle cx="155.8" cy="1070.7" r="6.023820553806699" fill="#fff" opacity="0.1527777779526463"/>
<circle cx="139.2" cy="1065.5" r="4.112784046426844" fill="#fff" opacity="0.25115372137522024"/>
<circle cx="151.2" cy="1077.6" r="4.422806625360108" fill="#fff" opacity="0.20108400782371358"/>
<circle cx="132.0" cy="1065.0" r="7.4" fill="#fff" opacity="0.22"/>
<circle cx="127.9" cy="1061.6" r="6.363183526220417" fill="#fff" opacity="0.11761755228656744"/>
<circle cx="123.5" cy="1063.6" r="4.91393833105281" fill="#fff" opacity="0.10811682921961159"/>
<circle cx="127.3" cy="1058.1" r="4.708821186117693" fill="#fff" opacity="0.1384487652886026"/>
<circle cx="87.0" cy="972.0" r="7.4" fill="#fff" opacity="0.22"/>
<circle cx="85.5" cy="976.9" r="4.612557038400471" fill="#fff" opacity="0.09101129040541261"/>
<circle cx="92.3" cy="979.9" r="4.974888895690282" fill="#fff" opacity="0.15118696482022212"/>
<circle cx="86.9" cy="966.7" r="6.4719236180757385" fill="#fff" opacity="0.1544897967105693"/>
<circle cx="90.0" cy="1002.0" r="7.4" fill="#fff" opacity="0.22"/>
<circle cx="99.3" cy="1006.6" r="5.073789349182039" fill="#fff" opacity="0.12162363446999319"/>
<circle cx="96.4" cy="1000.9" r="5.308398602501916" fill="#fff" opacity="0.15398387507972014"/>
<circle cx="88.7" cy="994.3" r="6.447051982580737" fill="#fff" opacity="0.14549540136799924"/>
<circle cx="66.0" cy="1036.0" r="7.4" fill="#fff" opacity="0.22"/>
<circle cx="61.5" cy="1032.6" r="5.560619928262344" fill="#fff" opacity="0.12008048349845953"/>
<circle cx="67.5" cy="1041.1" r="5.3202492735297255" fill="#fff" opacity="0.09675254363996137"/>
<circle cx="57.6" cy="1039.2" r="5.138883579541947" fill="#fff" opacity="0.1064539103524935"/>
<circle cx="118.0" cy="1045.0" r="7.4" fill="#fff" opacity="0.22"/>
<circle cx="111.5" cy="1041.3" r="5.944916876850032" fill="#fff" opacity="0.12536594486076597"/>
<circle cx="128.7" cy="1044.8" r="5.835711768434786" fill="#fff" opacity="0.10478413635693276"/>
<circle cx="125.8" cy="1051.8" r="5.96077204323098" fill="#fff" opacity="0.13199834033547297"/>
</g></g>
<clipPath id="hc1"><rect x="180" y="923.6" width="172.6" height="157.4"/></clipPath>
<g clip-path="url(#hc1)"><g filter="url(#heat)"><rect x="160" y="900" width="212.6" height="200" fill="#000"/>
<circle cx="196.5" cy="937.5" r="7.4" fill="#fff" opacity="0.5"/>
<circle cx="192.3" cy="942.6" r="5.712597100531226" fill="#fff" opacity="0.29038246595745043"/>
<circle cx="189.1" cy="932.7" r="5.883373991389499" fill="#fff" opacity="0.23037047142016376"/>
<circle cx="196.6" cy="948.4" r="6.289305034949962" fill="#fff" opacity="0.3406042250194198"/>
<circle cx="198.0" cy="948.0" r="7.4" fill="#fff" opacity="0.36"/>
<circle cx="203.2" cy="949.3" r="4.67734862229822" fill="#fff" opacity="0.19298223068639125"/>
<circle cx="194.0" cy="944.1" r="5.35412043478877" fill="#fff" opacity="0.15235117471714912"/>
<circle cx="205.8" cy="952.7" r="5.376571529260913" fill="#fff" opacity="0.21670334471067532"/>
<circle cx="192.0" cy="960.0" r="7.4" fill="#fff" opacity="0.36"/>
<circle cx="186.5" cy="965.6" r="4.526581580531883" fill="#fff" opacity="0.18359430040833014"/>
<circle cx="191.7" cy="950.0" r="4.185866631609436" fill="#fff" opacity="0.1577996378923212"/>
<circle cx="195.2" cy="951.9" r="5.921877540069409" fill="#fff" opacity="0.16855656805029368"/>
<circle cx="204.0" cy="963.0" r="7.4" fill="#fff" opacity="0.36"/>
<circle cx="198.2" cy="966.0" r="6.024692430173701" fill="#fff" opacity="0.18650303949176777"/>
<circle cx="197.8" cy="954.0" r="4.8134765232146846" fill="#fff" opacity="0.20720027197178514"/>
<circle cx="203.7" cy="952.5" r="5.069131393987805" fill="#fff" opacity="0.1865388106560999"/>
<circle cx="195.0" cy="972.0" r="7.4" fill="#fff" opacity="0.36"/>
<circle cx="203.4" cy="977.9" r="4.1962690529158895" fill="#fff" opacity="0.1535640684974571"/>
<circle cx="187.7" cy="968.9" r="5.713317306032634" fill="#fff" opacity="0.1784299016391245"/>
<circle cx="195.9" cy="966.6" r="4.533150917118117" fill="#fff" opacity="0.22027372164091785"/>
<circle cx="210.0" cy="975.0" r="7.4" fill="#fff" opacity="0.36"/>
<circle cx="215.9" cy="978.4" r="5.812492902654201" fill="#fff" opacity="0.22394659251704635"/>
<circle cx="208.8" cy="980.7" r="4.894504108601495" fill="#fff" opacity="0.2276323914474099"/>
<circle cx="206.2" cy="979.2" r="5.77318719105759" fill="#fff" opacity="0.2095804289200702"/>
<circle cx="222.0" cy="981.0" r="7.4" fill="#fff" opacity="0.36"/>
<circle cx="231.3" cy="975.8" r="6.283438244447149" fill="#fff" opacity="0.1944567594310666"/>
<circle cx="224.2" cy="974.5" r="4.794048108555626" fill="#fff" opacity="0.19003296372508327"/>
<circle cx="231.5" cy="976.9" r="4.620763042649014" fill="#fff" opacity="0.18566717276160374"/>
<circle cx="234.0" cy="978.0" r="7.4" fill="#fff" opacity="0.36"/>
<circle cx="229.2" cy="983.4" r="4.989023979470295" fill="#fff" opacity="0.18864920207645156"/>
<circle cx="236.8" cy="985.9" r="5.992707054880372" fill="#fff" opacity="0.20627267946177277"/>
<circle cx="238.3" cy="970.8" r="4.441480485531309" fill="#fff" opacity="0.23143073511975507"/>
<circle cx="231.0" cy="960.0" r="7.4" fill="#fff" opacity="0.22"/>
<circle cx="235.9" cy="955.4" r="4.055575225897881" fill="#fff" opacity="0.12430114663290993"/>
<circle cx="222.9" cy="957.7" r="6.416040134100992" fill="#fff" opacity="0.1338447702531131"/>
<circle cx="232.8" cy="954.9" r="5.367040226337959" fill="#fff" opacity="0.14347962636947661"/>
<circle cx="249.0" cy="942.0" r="7.4" fill="#fff" opacity="0.22"/>
<circle cx="253.7" cy="944.8" r="5.842649804528906" fill="#fff" opacity="0.15129465892085453"/>
<circle cx="256.6" cy="946.5" r="4.359694847789582" fill="#fff" opacity="0.14050372428792815"/>
<circle cx="245.2" cy="936.8" r="4.551124615390018" fill="#fff" opacity="0.1418808533661417"/>
<circle cx="234.0" cy="945.0" r="7.4" fill="#fff" opacity="0.22"/>
<circle cx="224.5" cy="943.7" r="4.985956440687932" fill="#fff" opacity="0.11178207635307459"/>
<circle cx="242.9" cy="943.2" r="5.2341548965879" fill="#fff" opacity="0.12582872490180008"/>
<circle cx="232.3" cy="935.9" r="6.287442107614887" fill="#fff" opacity="0.11690662953031113"/>
<circle cx="276.0" cy="945.0" r="7.4" fill="#fff" opacity="0.36"/>
<circle cx="280.1" cy="937.0" r="6.13376009843998" fill="#fff" opacity="0.23684051631944547"/>
<circle cx="281.2" cy="936.1" r="6.394466894517499" fill="#fff" opacity="0.21775949051085744"/>
<circle cx="266.8" cy="943.6" r="6.005633546224367" fill="#fff" opacity="0.192569578105169"/>
<circle cx="288.0" cy="951.0" r="7.4" fill="#fff" opacity="0.36"/>
<circle cx="282.8" cy="953.8" r="5.853080599797018" fill="#fff" opacity="0.25816439578215217"/>
<circle cx="283.7" cy="955.2" r="4.510911874274295" fill="#fff" opacity="0.19295368383041786"/>
<circle cx="285.2" cy="961.4" r="4.148017545630128" fill="#fff" opacity="0.1795328181816989"/>
<circle cx="300.0" cy="942.0" r="7.4" fill="#fff" opacity="0.22"/>
<circle cx="306.7" cy="947.9" r="5.939837577188947" fill="#fff" opacity="0.10063207392855412"/>
<circle cx="307.2" cy="945.0" r="5.460166079571064" fill="#fff" opacity="0.15201436318418693"/>
<circle cx="305.5" cy="943.3" r="4.461350220429155" fill="#fff" opacity="0.10330244939193048"/>
<circle cx="330.0" cy="942.0" r="7.4" fill="#fff" opacity="0.36"/>
<circle cx="330.9" cy="951.3" r="5.486965129312315" fill="#fff" opacity="0.16980011396194244"/>
<circle cx="332.7" cy="948.1" r="4.431283412700113" fill="#fff" opacity="0.2312644463001408"/>
<circle cx="326.9" cy="949.7" r="6.042820985436636" fill="#fff" opacity="0.19923737799458618"/>
<circle cx="339.0" cy="948.0" r="7.4" fill="#fff" opacity="0.36"/>
<circle cx="338.3" cy="958.3" r="6.285632508912991" fill="#fff" opacity="0.18340703772947803"/>
<circle cx="328.7" cy="944.9" r="5.206533720019783" fill="#fff" opacity="0.16945980382870002"/>
<circle cx="349.2" cy="951.3" r="6.003544136849781" fill="#fff" opacity="0.18834929864733305"/>
<circle cx="324.0" cy="954.0" r="7.4" fill="#fff" opacity="0.22"/>
<circle cx="316.0" cy="952.6" r="4.686375252672998" fill="#fff" opacity="0.15771329467951356"/>
<circle cx="320.5" cy="948.6" r="4.0271928845727984" fill="#fff" opacity="0.12127427873408875"/>
<circle cx="317.2" cy="961.1" r="5.783218726915091" fill="#fff" opacity="0.13066755536189617"/>
<circle cx="300.0" cy="978.0" r="7.4" fill="#fff" opacity="0.5"/>
<circle cx="303.3" cy="983.0" r="4.804509374215062" fill="#fff" opacity="0.2415077339507406"/>
<circle cx="305.5" cy="972.1" r="5.592416385964956" fill="#fff" opacity="0.3588990183109012"/>
<circle cx="299.2" cy="986.2" r="4.376633416337435" fill="#fff" opacity="0.32326043627059375"/>
<circle cx="297.0" cy="988.5" r="7.4" fill="#fff" opacity="0.5"/>
<circle cx="306.9" cy="988.6" r="6.115457079355142" fill="#fff" opacity="0.3315341438393772"/>
<circle cx="302.8" cy="991.8" r="5.791307209580166" fill="#fff" opacity="0.2155467139359168"/>
<circle cx="289.2" cy="989.5" r="6.388735110845336" fill="#fff" opacity="0.29386135404516334"/>
<circle cx="297.0" cy="988.5" r="4.0" fill="#fff" opacity="0.55"/>
<circle cx="312.0" cy="987.0" r="7.4" fill="#fff" opacity="0.5"/>
<circle cx="316.3" cy="981.7" r="5.973304137359609" fill="#fff" opacity="0.26671528004773903"/>
<circle cx="316.8" cy="984.2" r="6.065815337750887" fill="#fff" opacity="0.2333453286137842"/>
<circle cx="304.1" cy="984.8" r="4.393878797937077" fill="#fff" opacity="0.33312145944110666"/>
<circle cx="312.0" cy="987.0" r="4.6" fill="#fff" opacity="1.0"/>
<circle cx="322.5" cy="982.5" r="7.4" fill="#fff" opacity="0.5"/>
<circle cx="319.9" cy="988.9" r="4.190062738142735" fill="#fff" opacity="0.2489122188058712"/>
<circle cx="313.4" cy="984.4" r="4.899273735924526" fill="#fff" opacity="0.30993509428567173"/>
<circle cx="328.3" cy="987.0" r="5.154397069413893" fill="#fff" opacity="0.35470532987644543"/>
<circle cx="322.5" cy="982.5" r="4.0" fill="#fff" opacity="0.55"/>
<circle cx="333.0" cy="987.0" r="7.4" fill="#fff" opacity="0.5"/>
<circle cx="337.3" cy="979.2" r="4.030870472335796" fill="#fff" opacity="0.2603402801892274"/>
<circle cx="331.4" cy="980.8" r="5.410289762789844" fill="#fff" opacity="0.27329405280568686"/>
<circle cx="343.9" cy="987.7" r="5.998625075802755" fill="#fff" opacity="0.23307681667987482"/>
<circle cx="288.0" cy="990.0" r="7.4" fill="#fff" opacity="0.36"/>
<circle cx="283.0" cy="985.5" r="4.939971784827293" fill="#fff" opacity="0.2061812273738453"/>
<circle cx="285.9" cy="996.7" r="4.980500440217246" fill="#fff" opacity="0.22080255067656818"/>
<circle cx="287.7" cy="996.2" r="5.828609222724734" fill="#fff" opacity="0.18194665229677506"/>
<circle cx="336.0" cy="1002.0" r="7.4" fill="#fff" opacity="0.36"/>
<circle cx="343.9" cy="999.2" r="5.809480109071848" fill="#fff" opacity="0.18220705499856077"/>
<circle cx="338.6" cy="997.1" r="4.352056168424349" fill="#fff" opacity="0.1548744676764444"/>
<circle cx="331.9" cy="993.7" r="4.449676535896316" fill="#fff" opacity="0.1903425430610931"/>
<circle cx="333.0" cy="1017.0" r="7.4" fill="#fff" opacity="0.36"/>
<circle cx="337.4" cy="1009.7" r="4.225250946365896" fill="#fff" opacity="0.17010235865509266"/>
<circle cx="336.2" cy="1021.8" r="5.017102799773253" fill="#fff" opacity="0.15237302513836823"/>
<circle cx="339.6" cy="1013.4" r="5.278913526591917" fill="#fff" opacity="0.21856291655054844"/>
<circle cx="330.0" cy="1035.0" r="7.4" fill="#fff" opacity="0.5"/>
<circle cx="331.0" cy="1025.1" r="4.964863719097231" fill="#fff" opacity="0.2530256818787153"/>
<circle cx="325.7" cy="1037.7" r="5.001770247017872" fill="#fff" opacity="0.3119809094878468"/>
<circle cx="339.7" cy="1033.9" r="5.650573555110892" fill="#fff" opacity="0.2973766440509464"/>
<circle cx="324.0" cy="1047.0" r="7.4" fill="#fff" opacity="0.36"/>
<circle cx="330.9" cy="1047.8" r="4.8555917126457775" fill="#fff" opacity="0.2189632113429165"/>
<circle cx="329.7" cy="1051.5" r="5.273405520855544" fill="#fff" opacity="0.2348414542809768"/>
<circle cx="327.9" cy="1039.3" r="4.395854995658228" fill="#fff" opacity="0.23230226343627386"/>
<circle cx="306.0" cy="1026.0" r="7.4" fill="#fff" opacity="0.22"/>
<circle cx="312.8" cy="1021.3" r="4.881402354911211" fill="#fff" opacity="0.12322925909270772"/>
<circle cx="311.8" cy="1033.2" r="6.466945684207747" fill="#fff" opacity="0.12432895932111572"/>
<circle cx="303.8" cy="1016.2" r="4.493007853019409" fill="#fff" opacity="0.1545202880045791"/>
<circle cx="204.0" cy="1017.6" r="7.4" fill="#fff" opacity="0.5"/>
<circle cx="199.7" cy="1013.2" r="4.208095817571049" fill="#fff" opacity="0.23913589772925953"/>
<circle cx="195.9" cy="1013.4" r="4.822961537013897" fill="#fff" opacity="0.3486496077448258"/>
<circle cx="199.0" cy="1023.6" r="4.310067691882831" fill="#fff" opacity="0.3557725319025299"/>
<circle cx="204.0" cy="1017.6" r="4.6" fill="#fff" opacity="1.0"/>
<circle cx="201.6" cy="1033.0" r="7.4" fill="#fff" opacity="0.5"/>
<circle cx="208.5" cy="1040.8" r="5.358564003298981" fill="#fff" opacity="0.28971647627781283"/>
<circle cx="195.5" cy="1030.6" r="6.273327424111227" fill="#fff" opacity="0.3587409912311579"/>
<circle cx="205.1" cy="1025.2" r="4.306632387153613" fill="#fff" opacity="0.33194430947756637"/>
<circle cx="201.6" cy="1033.0" r="4.6" fill="#fff" opacity="1.0"/>
<circle cx="216.0" cy="1023.0" r="7.4" fill="#fff" opacity="0.36"/>
<circle cx="213.5" cy="1033.1" r="4.602153758673473" fill="#fff" opacity="0.21007692234686812"/>
<circle cx="219.0" cy="1017.7" r="5.369641773612264" fill="#fff" opacity="0.1527864596451913"/>
<circle cx="222.0" cy="1024.2" r="6.467515299653487" fill="#fff" opacity="0.25222402238747554"/>
<circle cx="192.0" cy="1014.0" r="7.4" fill="#fff" opacity="0.36"/>
<circle cx="188.3" cy="1008.3" r="5.6780864605188555" fill="#fff" opacity="0.22898062984066023"/>
<circle cx="185.7" cy="1019.8" r="6.009542896660529" fill="#fff" opacity="0.14588342327374923"/>
<circle cx="194.4" cy="1021.4" r="4.357466685173265" fill="#fff" opacity="0.18851071882862916"/>
<circle cx="228.0" cy="1020.0" r="7.4" fill="#fff" opacity="0.22"/>
<circle cx="222.5" cy="1017.4" r="5.299426613961785" fill="#fff" opacity="0.1065615371077276"/>
<circle cx="221.6" cy="1017.1" r="5.604264132380054" fill="#fff" opacity="0.09066556825341793"/>
<circle cx="225.2" cy="1014.8" r="6.398325605272358" fill="#fff" opacity="0.13024656873358328"/>
<circle cx="234.0" cy="1044.0" r="7.4" fill="#fff" opacity="0.5"/>
<circle cx="226.7" cy="1045.4" r="5.559506764878628" fill="#fff" opacity="0.3102893955287643"/>
<circle cx="234.5" cy="1034.5" r="5.214473170958055" fill="#fff" opacity="0.35913837726533687"/>
<circle cx="239.3" cy="1035.4" r="5.022551130971225" fill="#fff" opacity="0.2694330455271829"/>
<circle cx="210.0" cy="1047.0" r="7.4" fill="#fff" opacity="0.36"/>
<circle cx="200.5" cy="1042.8" r="5.314924290969304" fill="#fff" opacity="0.2044801333128061"/>
<circle cx="200.5" cy="1051.3" r="4.801725963265756" fill="#fff" opacity="0.1502992252029812"/>
<circle cx="208.4" cy="1036.7" r="5.8300170894057635" fill="#fff" opacity="0.21283449067088994"/>
<circle cx="204.0" cy="1056.0" r="7.4" fill="#fff" opacity="0.36"/>
<circle cx="204.1" cy="1049.2" r="5.483593469058272" fill="#fff" opacity="0.15204093667975255"/>
<circle cx="209.5" cy="1061.4" r="5.256586273630164" fill="#fff" opacity="0.18970264089135616"/>
<circle cx="212.7" cy="1058.9" r="5.315548865309855" fill="#fff" opacity="0.17154980696724179"/>
<circle cx="195.0" cy="1065.0" r="7.4" fill="#fff" opacity="0.36"/>
<circle cx="192.4" cy="1071.9" r="4.589678695048254" fill="#fff" opacity="0.15188424911436946"/>
<circle cx="204.2" cy="1059.3" r="5.664258229895891" fill="#fff" opacity="0.24381982344774328"/>
<circle cx="186.3" cy="1069.7" r="4.55444813611929" fill="#fff" opacity="0.23001093757573554"/>
<circle cx="228.0" cy="1065.0" r="7.4" fill="#fff" opacity="0.22"/>
<circle cx="218.5" cy="1060.8" r="4.246407678716677" fill="#fff" opacity="0.1437819631304514"/>
<circle cx="233.9" cy="1070.8" r="6.377437287069595" fill="#fff" opacity="0.08804059125219196"/>
<circle cx="228.3" cy="1071.8" r="4.811910744235159" fill="#fff" opacity="0.09240945104830156"/>
<circle cx="255.0" cy="1059.0" r="7.4" fill="#fff" opacity="0.22"/>
<circle cx="262.8" cy="1052.9" r="4.993136840710025" fill="#fff" opacity="0.11309743984294157"/>
<circle cx="250.5" cy="1056.3" r="4.077829220423003" fill="#fff" opacity="0.15125525691278632"/>
<circle cx="252.2" cy="1066.5" r="6.334840610188669" fill="#fff" opacity="0.15680044410428567"/>
<circle cx="288.0" cy="1068.0" r="7.4" fill="#fff" opacity="0.36"/>
<circle cx="281.9" cy="1069.1" r="4.738370881583663" fill="#fff" opacity="0.250289167521734"/>
<circle cx="292.9" cy="1064.3" r="6.094793168067506" fill="#fff" opacity="0.18479854222240122"/>
<circle cx="282.1" cy="1069.0" r="6.199293890929235" fill="#fff" opacity="0.2586705495871036"/>
<circle cx="300.0" cy="1053.0" r="7.4" fill="#fff" opacity="0.36"/>
<circle cx="302.6" cy="1061.4" r="4.478769949627299" fill="#fff" opacity="0.245395525911945"/>
<circle cx="305.4" cy="1054.7" r="5.81444484400919" fill="#fff" opacity="0.18005620790979546"/>
<circle cx="308.3" cy="1047.0" r="5.782861480097964" fill="#fff" opacity="0.15953815384048547"/>
<circle cx="318.0" cy="1065.0" r="7.4" fill="#fff" opacity="0.36"/>
<circle cx="314.5" cy="1055.0" r="5.112888686641506" fill="#fff" opacity="0.1530995972179929"/>
<circle cx="319.1" cy="1071.7" r="5.776339797138197" fill="#fff" opacity="0.16663278717236965"/>
<circle cx="320.7" cy="1070.8" r="5.661478882570978" fill="#fff" opacity="0.2350644492587745"/>
<circle cx="336.0" cy="1062.0" r="7.4" fill="#fff" opacity="0.36"/>
<circle cx="329.8" cy="1068.4" r="6.211101336698228" fill="#fff" opacity="0.21195652786667007"/>
<circle cx="336.9" cy="1068.7" r="6.3168723132566305" fill="#fff" opacity="0.22084225693069126"/>
<circle cx="334.5" cy="1070.7" r="4.224958908981118" fill="#fff" opacity="0.25724482333052573"/>
<circle cx="210.0" cy="996.0" r="7.4" fill="#fff" opacity="0.36"/>
<circle cx="202.4" cy="999.0" r="5.3270311412847695" fill="#fff" opacity="0.14922336559894567"/>
<circle cx="204.6" cy="992.1" r="4.627258148481094" fill="#fff" opacity="0.23653107367678303"/>
<circle cx="215.7" cy="999.5" r="5.8892033805981505" fill="#fff" opacity="0.17232751508845934"/>
<circle cx="195.0" cy="999.0" r="7.4" fill="#fff" opacity="0.36"/>
<circle cx="193.5" cy="1007.2" r="4.465899776487901" fill="#fff" opacity="0.2473380204541163"/>
<circle cx="200.2" cy="998.6" r="5.154080758176929" fill="#fff" opacity="0.23046813891068088"/>
<circle cx="187.1" cy="1006.0" r="5.249750835080025" fill="#fff" opacity="0.16472391162645744"/>
</g></g>
<clipPath id="hc2"><rect x="358.6" y="923.6" width="173.0" height="157.4"/></clipPath>
<g clip-path="url(#hc2)"><g filter="url(#heat)"><rect x="338.6" y="900" width="213.0" height="200" fill="#000"/>
<circle cx="371.6" cy="940.9" r="7.4" fill="#fff" opacity="0.5"/>
<circle cx="363.3" cy="937.8" r="4.899056891366884" fill="#fff" opacity="0.30532208857952786"/>
<circle cx="373.3" cy="933.0" r="5.264073472974233" fill="#fff" opacity="0.3352635653433029"/>
<circle cx="368.3" cy="933.5" r="6.3788255552143" fill="#fff" opacity="0.22782759737238045"/>
<circle cx="380.8" cy="937.8" r="7.4" fill="#fff" opacity="0.36"/>
<circle cx="381.9" cy="931.9" r="5.520197641766982" fill="#fff" opacity="0.1711116628662063"/>
<circle cx="371.8" cy="941.3" r="5.96641118668228" fill="#fff" opacity="0.23513838763181216"/>
<circle cx="381.5" cy="945.7" r="4.553089284387123" fill="#fff" opacity="0.21082643646523513"/>
<circle cx="390.0" cy="942.5" r="7.4" fill="#fff" opacity="0.36"/>
<circle cx="384.8" cy="942.5" r="5.4920705737664015" fill="#fff" opacity="0.2263356937859197"/>
<circle cx="380.8" cy="938.0" r="4.450092914049602" fill="#fff" opacity="0.16148858694789"/>
<circle cx="397.9" cy="943.4" r="5.08659093275133" fill="#fff" opacity="0.19488074774820766"/>
<circle cx="405.5" cy="936.3" r="7.4" fill="#fff" opacity="0.36"/>
<circle cx="404.7" cy="946.1" r="4.181339627397969" fill="#fff" opacity="0.24852167030372033"/>
<circle cx="398.0" cy="932.8" r="5.979019171040636" fill="#fff" opacity="0.17141478077020655"/>
<circle cx="409.7" cy="941.8" r="4.105796581053117" fill="#fff" opacity="0.180213700235066"/>
<circle cx="371.6" cy="951.7" r="7.4" fill="#fff" opacity="0.36"/>
<circle cx="365.7" cy="946.1" r="4.6618086949977195" fill="#fff" opacity="0.21181763663149875"/>
<circle cx="380.0" cy="956.9" r="4.428999706709047" fill="#fff" opacity="0.17335700619061076"/>
<circle cx="376.5" cy="959.4" r="6.077313411904222" fill="#fff" opacity="0.234628393467981"/>
<circle cx="384.0" cy="953.3" r="7.4" fill="#fff" opacity="0.36"/>
<circle cx="390.9" cy="956.1" r="4.911051960636909" fill="#fff" opacity="0.16892301896418396"/>
<circle cx="389.2" cy="952.3" r="5.2238453841843775" fill="#fff" opacity="0.2316976884276144"/>
<circle cx="389.8" cy="952.8" r="5.138300551505497" fill="#fff" opacity="0.2298172216292154"/>
<circle cx="396.0" cy="951.7" r="7.4" fill="#fff" opacity="0.36"/>
<circle cx="402.2" cy="953.3" r="6.22521576146748" fill="#fff" opacity="0.16030629366138688"/>
<circle cx="390.7" cy="955.9" r="5.061097456804777" fill="#fff" opacity="0.15281133639762584"/>
<circle cx="406.7" cy="954.0" r="5.908196638823885" fill="#fff" opacity="0.2285639593612743"/>
<circle cx="370.0" cy="968.7" r="7.4" fill="#fff" opacity="0.5"/>
<circle cx="370.8" cy="975.2" r="5.379716915178321" fill="#fff" opacity="0.23866916467945598"/>
<circle cx="359.7" cy="971.2" r="4.909997658967983" fill="#fff" opacity="0.25392734640409115"/>
<circle cx="378.6" cy="967.7" r="4.099185838557975" fill="#fff" opacity="0.2644880659404143"/>
<circle cx="373.0" cy="981.0" r="7.4" fill="#fff" opacity="0.36"/>
<circle cx="369.8" cy="976.7" r="4.858005128193713" fill="#fff" opacity="0.2240275219161966"/>
<circle cx="378.6" cy="974.6" r="6.215932964855423" fill="#fff" opacity="0.19729100749393766"/>
<circle cx="365.1" cy="987.3" r="4.952828123769314" fill="#fff" opacity="0.2340109649127243"/>
<circle cx="387.0" cy="981.0" r="7.4" fill="#fff" opacity="0.5"/>
<circle cx="388.5" cy="987.9" r="4.45902357982989" fill="#fff" opacity="0.28792804337042843"/>
<circle cx="390.2" cy="986.3" r="4.536134272699937" fill="#fff" opacity="0.2748338052744856"/>
<circle cx="384.2" cy="988.2" r="6.483294208099185" fill="#fff" opacity="0.30867133758258775"/>
<circle cx="387.0" cy="981.0" r="4.0" fill="#fff" opacity="0.55"/>
<circle cx="399.0" cy="976.4" r="7.4" fill="#fff" opacity="0.5"/>
<circle cx="403.1" cy="971.7" r="4.957401719301534" fill="#fff" opacity="0.21164530998130152"/>
<circle cx="396.4" cy="969.7" r="4.686297949794106" fill="#fff" opacity="0.2029704851137434"/>
<circle cx="401.7" cy="982.4" r="4.982397600400694" fill="#fff" opacity="0.3477700467699268"/>
<circle cx="408.6" cy="981.0" r="7.4" fill="#fff" opacity="0.36"/>
<circle cx="407.2" cy="974.5" r="4.902744122915834" fill="#fff" opacity="0.16168537021185578"/>
<circle cx="415.2" cy="978.2" r="5.914218743161811" fill="#fff" opacity="0.22734188247241705"/>
<circle cx="412.9" cy="978.2" r="4.805207879074296" fill="#fff" opacity="0.18828410807127124"/>
<circle cx="374.7" cy="991.8" r="7.4" fill="#fff" opacity="0.36"/>
<circle cx="383.6" cy="996.9" r="4.813124333625193" fill="#fff" opacity="0.23278621405678745"/>
<circle cx="369.4" cy="991.2" r="4.984931152461411" fill="#fff" opacity="0.17145218738516205"/>
<circle cx="380.4" cy="993.3" r="5.488479713492832" fill="#fff" opacity="0.14766040095107227"/>
<circle cx="380.8" cy="1019.5" r="7.4" fill="#fff" opacity="0.5"/>
<circle cx="377.9" cy="1026.5" r="5.3599673229086235" fill="#fff" opacity="0.2217611140214928"/>
<circle cx="379.0" cy="1013.2" r="5.813700878092881" fill="#fff" opacity="0.3065879039490145"/>
<circle cx="384.5" cy="1024.5" r="4.700859102140616" fill="#fff" opacity="0.3140427487485068"/>
<circle cx="380.8" cy="1019.5" r="4.6" fill="#fff" opacity="1.0"/>
<circle cx="390.0" cy="1021.0" r="7.4" fill="#fff" opacity="0.36"/>
<circle cx="383.9" cy="1025.1" r="6.164928770728683" fill="#fff" opacity="0.1700402808116677"/>
<circle cx="388.2" cy="1027.8" r="4.5393882494476445" fill="#fff" opacity="0.14868754507387963"/>
<circle cx="398.7" cy="1022.3" r="5.414846424225031" fill="#fff" opacity="0.23717003525302205"/>
<circle cx="371.6" cy="1036.5" r="7.4" fill="#fff" opacity="0.36"/>
<circle cx="378.3" cy="1035.5" r="5.676226781064761" fill="#fff" opacity="0.2498771031071233"/>
<circle cx="373.5" cy="1045.4" r="5.666484551915939" fill="#fff" opacity="0.25403247651792216"/>
<circle cx="375.9" cy="1031.8" r="5.581298434354048" fill="#fff" opacity="0.1543554972835506"/>
<circle cx="377.8" cy="1045.8" r="7.4" fill="#fff" opacity="0.36"/>
<circle cx="371.2" cy="1049.0" r="4.150265777295675" fill="#fff" opacity="0.18816261943588966"/>
<circle cx="374.0" cy="1052.8" r="4.699534010544912" fill="#fff" opacity="0.16227008937162524"/>
<circle cx="371.4" cy="1050.3" r="4.416795133626431" fill="#fff" opacity="0.22063155759914277"/>
<circle cx="371.6" cy="1058.0" r="7.4" fill="#fff" opacity="0.36"/>
<circle cx="372.0" cy="1063.5" r="4.854586696392171" fill="#fff" opacity="0.19264950611474477"/>
<circle cx="376.6" cy="1064.9" r="5.753433940055479" fill="#fff" opacity="0.20772743251578318"/>
<circle cx="370.0" cy="1053.1" r="4.978428779548787" fill="#fff" opacity="0.18596662666198677"/>
<circle cx="384.0" cy="1061.0" r="7.4" fill="#fff" opacity="0.36"/>
<circle cx="390.9" cy="1063.9" r="4.136548231862032" fill="#fff" opacity="0.20108810907565705"/>
<circle cx="377.3" cy="1057.0" r="4.813828704619453" fill="#fff" opacity="0.17318887316231182"/>
<circle cx="391.0" cy="1062.0" r="6.229404922076897" fill="#fff" opacity="0.20917050902135884"/>
<circle cx="399.3" cy="1067.0" r="7.4" fill="#fff" opacity="0.36"/>
<circle cx="398.6" cy="1076.0" r="4.465010435177369" fill="#fff" opacity="0.19805718245122067"/>
<circle cx="391.3" cy="1059.9" r="4.906564202737598" fill="#fff" opacity="0.21037489160209505"/>
<circle cx="408.3" cy="1063.6" r="5.568350234025663" fill="#fff" opacity="0.21551775301797274"/>
<circle cx="405.5" cy="1058.0" r="7.4" fill="#fff" opacity="0.22"/>
<circle cx="399.1" cy="1062.0" r="4.690433160743497" fill="#fff" opacity="0.14640419002073418"/>
<circle cx="410.8" cy="1053.0" r="6.274031795281422" fill="#fff" opacity="0.09068475422106344"/>
<circle cx="410.8" cy="1064.1" r="4.771518526506321" fill="#fff" opacity="0.11337207938210747"/>
<circle cx="408.6" cy="1024.0" r="7.4" fill="#fff" opacity="0.36"/>
<circle cx="414.4" cy="1023.1" r="4.481134825754688" fill="#fff" opacity="0.17032274287446691"/>
<circle cx="405.9" cy="1018.2" r="4.002323480816125" fill="#fff" opacity="0.20664718263798978"/>
<circle cx="403.5" cy="1028.0" r="5.234029156136785" fill="#fff" opacity="0.21889935702205446"/>
<circle cx="421.0" cy="1021.0" r="7.4" fill="#fff" opacity="0.22"/>
<circle cx="412.7" cy="1018.4" r="5.401910276788304" fill="#fff" opacity="0.14650935185442784"/>
<circle cx="427.9" cy="1019.6" r="4.866675267068555" fill="#fff" opacity="0.15039781828942408"/>
<circle cx="417.4" cy="1029.6" r="5.738465566117906" fill="#fff" opacity="0.13633334816553896"/>
<circle cx="422.5" cy="944.0" r="7.4" fill="#fff" opacity="0.36"/>
<circle cx="432.2" cy="941.8" r="4.398673738037492" fill="#fff" opacity="0.21560980054887188"/>
<circle cx="414.1" cy="944.5" r="4.923805840589094" fill="#fff" opacity="0.1769135991384172"/>
<circle cx="422.4" cy="935.8" r="4.592574135330576" fill="#fff" opacity="0.17271964390373146"/>
<circle cx="427.0" cy="956.0" r="7.4" fill="#fff" opacity="0.36"/>
<circle cx="424.2" cy="961.4" r="5.284359874902634" fill="#fff" opacity="0.15851515892956816"/>
<circle cx="432.0" cy="958.1" r="4.2555701115283115" fill="#fff" opacity="0.2251903444091378"/>
<circle cx="432.9" cy="961.0" r="5.930270729200077" fill="#fff" opacity="0.1993764745105129"/>
<circle cx="442.5" cy="968.7" r="7.4" fill="#fff" opacity="0.22"/>
<circle cx="447.8" cy="977.4" r="6.174571035094024" fill="#fff" opacity="0.09176228770213415"/>
<circle cx="442.3" cy="976.7" r="5.991134820390794" fill="#fff" opacity="0.11561618570243741"/>
<circle cx="441.1" cy="962.3" r="5.789314815454911" fill="#fff" opacity="0.11101107597443473"/>
<circle cx="433.0" cy="1062.7" r="7.4" fill="#fff" opacity="0.36"/>
<circle cx="428.2" cy="1071.0" r="6.106778576294525" fill="#fff" opacity="0.23944782497065745"/>
<circle cx="426.1" cy="1059.6" r="5.767312700405104" fill="#fff" opacity="0.21576863285658243"/>
<circle cx="437.8" cy="1054.1" r="4.313049782083533" fill="#fff" opacity="0.1874247361746472"/>
<circle cx="458.0" cy="1062.7" r="7.4" fill="#fff" opacity="0.5"/>
<circle cx="454.9" cy="1057.1" r="4.46161556567649" fill="#fff" opacity="0.20219446596125942"/>
<circle cx="448.9" cy="1057.3" r="6.426080758264622" fill="#fff" opacity="0.22139969976904617"/>
<circle cx="455.1" cy="1055.8" r="5.578660507980252" fill="#fff" opacity="0.26347480343182417"/>
<circle cx="479.5" cy="1058.0" r="7.4" fill="#fff" opacity="0.22"/>
<circle cx="489.5" cy="1053.6" r="4.121752697179187" fill="#fff" opacity="0.1382138524518386"/>
<circle cx="483.4" cy="1061.6" r="4.715102727645322" fill="#fff" opacity="0.13947911510101335"/>
<circle cx="485.2" cy="1057.8" r="4.825144553645189" fill="#fff" opacity="0.08986682267954238"/>
<circle cx="498.0" cy="1067.0" r="7.4" fill="#fff" opacity="0.36"/>
<circle cx="490.4" cy="1064.9" r="4.933577196064959" fill="#fff" opacity="0.17961991633883442"/>
<circle cx="501.1" cy="1057.5" r="4.709333219075051" fill="#fff" opacity="0.18912196345299315"/>
<circle cx="490.9" cy="1060.5" r="6.452435262061497" fill="#fff" opacity="0.1888528309893245"/>
<circle cx="510.0" cy="1055.0" r="7.4" fill="#fff" opacity="0.36"/>
<circle cx="507.1" cy="1047.2" r="6.000419532259227" fill="#fff" opacity="0.16092211799432857"/>
<circle cx="512.6" cy="1060.0" r="6.333864660871755" fill="#fff" opacity="0.17295810775039108"/>
<circle cx="504.3" cy="1055.4" r="4.809137837671277" fill="#fff" opacity="0.14621744551007776"/>
<circle cx="516.5" cy="1067.0" r="7.4" fill="#fff" opacity="0.36"/>
<circle cx="511.1" cy="1064.6" r="5.563230443748607" fill="#fff" opacity="0.17556642550461682"/>
<circle cx="517.6" cy="1074.8" r="4.914611621787346" fill="#fff" opacity="0.17390415821365188"/>
<circle cx="521.6" cy="1068.7" r="6.231616131227565" fill="#fff" opacity="0.17963584671328464"/>
<circle cx="495.0" cy="936.0" r="7.4" fill="#fff" opacity="0.36"/>
<circle cx="500.4" cy="938.9" r="5.208592804888868" fill="#fff" opacity="0.25887260037437043"/>
<circle cx="498.0" cy="945.7" r="5.210636217745339" fill="#fff" opacity="0.19175892306924916"/>
<circle cx="497.6" cy="929.1" r="4.144110512266809" fill="#fff" opacity="0.20742375865462948"/>
<circle cx="504.0" cy="945.5" r="7.4" fill="#fff" opacity="0.36"/>
<circle cx="499.2" cy="938.2" r="4.692767690655361" fill="#fff" opacity="0.2521590676896318"/>
<circle cx="511.2" cy="937.3" r="5.108001667470758" fill="#fff" opacity="0.24004433951064974"/>
<circle cx="503.1" cy="939.5" r="4.066948811424895" fill="#fff" opacity="0.16345111931334258"/>
<circle cx="513.4" cy="953.3" r="7.4" fill="#fff" opacity="0.36"/>
<circle cx="517.4" cy="957.0" r="4.897319447696048" fill="#fff" opacity="0.2308105509759364"/>
<circle cx="510.4" cy="960.8" r="4.026181282223467" fill="#fff" opacity="0.16820824189885525"/>
<circle cx="518.3" cy="952.0" r="5.318131224530466" fill="#fff" opacity="0.23732508966498145"/>
<circle cx="516.5" cy="962.5" r="7.4" fill="#fff" opacity="0.36"/>
<circle cx="519.0" cy="953.4" r="4.998176695927015" fill="#fff" opacity="0.2365147555143691"/>
<circle cx="521.0" cy="954.0" r="6.464853260069552" fill="#fff" opacity="0.1556165467667806"/>
<circle cx="523.6" cy="960.2" r="5.763154350380172" fill="#fff" opacity="0.17285660782729226"/>
<circle cx="485.7" cy="947.0" r="7.4" fill="#fff" opacity="0.22"/>
<circle cx="490.0" cy="944.2" r="5.442028472959656" fill="#fff" opacity="0.10399704234885303"/>
<circle cx="480.2" cy="951.7" r="5.642417950124019" fill="#fff" opacity="0.1450773449857359"/>
<circle cx="479.9" cy="953.6" r="4.885126410278575" fill="#fff" opacity="0.10765675862948337"/>
<circle cx="479.5" cy="978.0" r="7.4" fill="#fff" opacity="0.36"/>
<circle cx="485.2" cy="974.1" r="4.235376586478726" fill="#fff" opacity="0.18256922940468848"/>
<circle cx="479.2" cy="971.7" r="5.8579929905154975" fill="#fff" opacity="0.2069266708126412"/>
<circle cx="476.9" cy="972.5" r="4.264557286270202" fill="#fff" opacity="0.160466779265899"/>
<circle cx="488.8" cy="987.0" r="7.4" fill="#fff" opacity="0.36"/>
<circle cx="484.3" cy="993.1" r="4.023603353644275" fill="#fff" opacity="0.20189625239085268"/>
<circle cx="483.1" cy="991.0" r="5.342849262801208" fill="#fff" opacity="0.2537042187550948"/>
<circle cx="491.7" cy="996.9" r="4.802235977100295" fill="#fff" opacity="0.23087618315712655"/>
<circle cx="501.0" cy="978.0" r="7.4" fill="#fff" opacity="0.36"/>
<circle cx="509.5" cy="984.9" r="5.075270296509295" fill="#fff" opacity="0.2548990910957564"/>
<circle cx="502.4" cy="985.3" r="5.765115054096505" fill="#fff" opacity="0.16448396142132268"/>
<circle cx="499.7" cy="987.0" r="6.369216995702924" fill="#fff" opacity="0.1811203822072203"/>
<circle cx="510.0" cy="987.0" r="7.4" fill="#fff" opacity="0.36"/>
<circle cx="512.9" cy="993.5" r="6.4736758882194545" fill="#fff" opacity="0.1610642967769456"/>
<circle cx="505.2" cy="981.6" r="5.609692034410346" fill="#fff" opacity="0.1684556561992716"/>
<circle cx="502.3" cy="980.1" r="6.140893986718915" fill="#fff" opacity="0.21641733406218852"/>
<circle cx="516.5" cy="978.0" r="7.4" fill="#fff" opacity="0.36"/>
<circle cx="508.1" cy="977.7" r="4.285343902584697" fill="#fff" opacity="0.24047795425873508"/>
<circle cx="513.7" cy="970.8" r="5.663631451637374" fill="#fff" opacity="0.19231134181303527"/>
<circle cx="511.7" cy="982.2" r="5.501663747079083" fill="#fff" opacity="0.2099822594054233"/>
<circle cx="507.0" cy="1018.0" r="7.4" fill="#fff" opacity="0.5"/>
<circle cx="501.8" cy="1017.5" r="5.568329528936572" fill="#fff" opacity="0.27149038467905096"/>
<circle cx="499.9" cy="1013.3" r="6.32902464130401" fill="#fff" opacity="0.22430866901513516"/>
<circle cx="496.3" cy="1020.1" r="5.844981641003121" fill="#fff" opacity="0.2500742974141772"/>
<circle cx="516.5" cy="1024.0" r="7.4" fill="#fff" opacity="0.36"/>
<circle cx="515.6" cy="1013.1" r="5.005241797351567" fill="#fff" opacity="0.2439329992974508"/>
<circle cx="524.2" cy="1031.8" r="5.227701811325782" fill="#fff" opacity="0.17097066237281314"/>
<circle cx="521.3" cy="1016.5" r="6.344239487170276" fill="#fff" opacity="0.2395332110434278"/>
<circle cx="498.0" cy="1027.3" r="7.4" fill="#fff" opacity="0.36"/>
<circle cx="500.4" cy="1019.6" r="6.484211498154082" fill="#fff" opacity="0.1514676623024171"/>
<circle cx="504.3" cy="1020.5" r="4.626776805476489" fill="#fff" opacity="0.23698591433896568"/>
<circle cx="490.1" cy="1029.6" r="6.163873378687339" fill="#fff" opacity="0.1665780342485007"/>
<circle cx="488.8" cy="1036.5" r="7.4" fill="#fff" opacity="0.36"/>
<circle cx="487.2" cy="1045.2" r="4.183872414888255" fill="#fff" opacity="0.20793560895579524"/>
<circle cx="490.6" cy="1028.8" r="4.604512823227048" fill="#fff" opacity="0.2361564527006026"/>
<circle cx="494.7" cy="1028.9" r="5.373205799101123" fill="#fff" opacity="0.24833543649592438"/>
<circle cx="504.0" cy="1042.7" r="7.4" fill="#fff" opacity="0.36"/>
<circle cx="505.7" cy="1037.0" r="4.914626553254838" fill="#fff" opacity="0.15555905084645677"/>
<circle cx="510.9" cy="1044.3" r="6.1621271822524495" fill="#fff" opacity="0.24006271873441637"/>
<circle cx="508.5" cy="1046.8" r="4.971581452175163" fill="#fff" opacity="0.24182781173104842"/>
<circle cx="473.0" cy="971.8" r="7.4" fill="#fff" opacity="0.22"/>
<circle cx="465.3" cy="964.8" r="4.179711581921021" fill="#fff" opacity="0.15754553013509248"/>
<circle cx="475.4" cy="980.3" r="6.191412448082625" fill="#fff" opacity="0.13922698391303628"/>
<circle cx="475.9" cy="980.3" r="5.076918940585429" fill="#fff" opacity="0.08908193855199671"/>
</g></g>
<clipPath id="hc3"><rect x="537.6" y="923.6" width="173.0" height="157.4"/></clipPath>
<g clip-path="url(#hc3)"><g filter="url(#heat)"><rect x="517.6" y="900" width="213.0" height="200" fill="#000"/>
<circle cx="553.5" cy="936.3" r="7.4" fill="#fff" opacity="0.36"/>
<circle cx="549.8" cy="942.1" r="5.574270351714101" fill="#fff" opacity="0.17608685931439474"/>
<circle cx="546.2" cy="930.8" r="4.4516836398538535" fill="#fff" opacity="0.15874898686825203"/>
<circle cx="550.8" cy="929.0" r="4.322759752687701" fill="#fff" opacity="0.15736595242760895"/>
<circle cx="562.8" cy="941.0" r="7.4" fill="#fff" opacity="0.5"/>
<circle cx="570.9" cy="937.9" r="4.893845861912494" fill="#fff" opacity="0.23138502837185926"/>
<circle cx="571.9" cy="940.7" r="5.840639090495573" fill="#fff" opacity="0.25765184506231364"/>
<circle cx="560.0" cy="947.9" r="4.365677663524662" fill="#fff" opacity="0.30099654706219675"/>
<circle cx="550.4" cy="950.2" r="7.4" fill="#fff" opacity="0.36"/>
<circle cx="541.6" cy="954.7" r="5.022479464844655" fill="#fff" opacity="0.19662250253715266"/>
<circle cx="539.8" cy="949.8" r="4.865882905457809" fill="#fff" opacity="0.225057238269879"/>
<circle cx="551.2" cy="958.6" r="4.7121869013305995" fill="#fff" opacity="0.24452831143294163"/>
<circle cx="565.9" cy="953.3" r="7.4" fill="#fff" opacity="0.36"/>
<circle cx="563.6" cy="963.2" r="5.691704534894771" fill="#fff" opacity="0.19640780144030517"/>
<circle cx="572.6" cy="950.3" r="5.858226739131599" fill="#fff" opacity="0.2132655426009585"/>
<circle cx="560.8" cy="955.0" r="5.047748054066529" fill="#fff" opacity="0.17640492117487205"/>
<circle cx="578.2" cy="959.4" r="7.4" fill="#fff" opacity="0.22"/>
<circle cx="568.2" cy="963.3" r="4.7323890302651295" fill="#fff" opacity="0.1369214881009854"/>
<circle cx="575.2" cy="953.7" r="5.028824641831829" fill="#fff" opacity="0.09730485479957117"/>
<circle cx="583.4" cy="955.4" r="5.051609688966002" fill="#fff" opacity="0.1120464754163149"/>
<circle cx="602.9" cy="936.3" r="7.4" fill="#fff" opacity="0.22"/>
<circle cx="607.2" cy="927.2" r="5.476771237409857" fill="#fff" opacity="0.12643321152838732"/>
<circle cx="611.3" cy="942.4" r="4.220963503980865" fill="#fff" opacity="0.11359616967094874"/>
<circle cx="596.3" cy="942.9" r="5.672963699275701" fill="#fff" opacity="0.11220850667423103"/>
<circle cx="621.4" cy="934.8" r="7.4" fill="#fff" opacity="0.22"/>
<circle cx="630.0" cy="928.4" r="4.058079504742687" fill="#fff" opacity="0.1325630239349722"/>
<circle cx="614.4" cy="936.2" r="5.162103815111394" fill="#fff" opacity="0.11024869395618482"/>
<circle cx="617.3" cy="927.2" r="6.426017228928334" fill="#fff" opacity="0.15674259325174722"/>
<circle cx="643.0" cy="953.9" r="7.4" fill="#fff" opacity="0.5"/>
<circle cx="650.4" cy="953.6" r="6.071674172393111" fill="#fff" opacity="0.3039935607211126"/>
<circle cx="639.7" cy="943.4" r="4.16637841239106" fill="#fff" opacity="0.27395633656524054"/>
<circle cx="635.7" cy="959.1" r="4.5451701677936445" fill="#fff" opacity="0.35836121986424213"/>
<circle cx="643.0" cy="953.9" r="4.6" fill="#fff" opacity="1.0"/>
<circle cx="633.7" cy="961.0" r="7.4" fill="#fff" opacity="0.36"/>
<circle cx="635.5" cy="968.0" r="4.357407285190459" fill="#fff" opacity="0.18946295450813805"/>
<circle cx="633.4" cy="955.5" r="4.417128409414385" fill="#fff" opacity="0.2187588804496004"/>
<circle cx="626.9" cy="954.4" r="4.6335168455422036" fill="#fff" opacity="0.23745431096353536"/>
<circle cx="686.0" cy="936.3" r="7.4" fill="#fff" opacity="0.5"/>
<circle cx="684.8" cy="926.7" r="4.2992200932119" fill="#fff" opacity="0.274986348337892"/>
<circle cx="696.1" cy="937.3" r="6.36133878738212" fill="#fff" opacity="0.3433307276750236"/>
<circle cx="693.0" cy="937.4" r="5.339711482843069" fill="#fff" opacity="0.28538694974709383"/>
<circle cx="689.2" cy="947.0" r="7.4" fill="#fff" opacity="0.5"/>
<circle cx="696.7" cy="953.3" r="4.753895342329689" fill="#fff" opacity="0.2811708075571234"/>
<circle cx="695.2" cy="952.9" r="4.3242964048440165" fill="#fff" opacity="0.21413769901956015"/>
<circle cx="682.5" cy="946.5" r="5.9436921225097255" fill="#fff" opacity="0.23948403548095487"/>
<circle cx="683.0" cy="956.3" r="7.4" fill="#fff" opacity="0.36"/>
<circle cx="678.4" cy="959.0" r="4.544099855960748" fill="#fff" opacity="0.19603463874166027"/>
<circle cx="675.8" cy="953.5" r="6.126849757480543" fill="#fff" opacity="0.15602052939291663"/>
<circle cx="686.5" cy="951.5" r="6.425791482708156" fill="#fff" opacity="0.20447608180644364"/>
<circle cx="670.7" cy="965.6" r="7.4" fill="#fff" opacity="0.36"/>
<circle cx="663.5" cy="970.4" r="6.159619251505444" fill="#fff" opacity="0.2550260854788244"/>
<circle cx="666.4" cy="968.2" r="4.384367141819211" fill="#fff" opacity="0.23828361320359778"/>
<circle cx="669.8" cy="956.4" r="4.391384182388601" fill="#fff" opacity="0.2051797856872082"/>
<circle cx="553.5" cy="971.8" r="7.4" fill="#fff" opacity="0.36"/>
<circle cx="559.1" cy="972.8" r="4.7518921217338725" fill="#fff" opacity="0.25530688952337943"/>
<circle cx="547.2" cy="963.9" r="4.115191850620593" fill="#fff" opacity="0.1919391116805412"/>
<circle cx="559.3" cy="974.9" r="4.2793701860523266" fill="#fff" opacity="0.24984843871812537"/>
<circle cx="565.9" cy="976.4" r="7.4" fill="#fff" opacity="0.36"/>
<circle cx="562.1" cy="983.4" r="5.63506083177813" fill="#fff" opacity="0.246145985321133"/>
<circle cx="573.8" cy="973.6" r="5.252365148199148" fill="#fff" opacity="0.24812500113243707"/>
<circle cx="560.5" cy="980.6" r="5.848314769561726" fill="#fff" opacity="0.17375402631573084"/>
<circle cx="581.3" cy="978.0" r="7.4" fill="#fff" opacity="0.36"/>
<circle cx="576.2" cy="983.6" r="5.1921803724888065" fill="#fff" opacity="0.18529680374512286"/>
<circle cx="574.3" cy="981.3" r="4.12392053960182" fill="#fff" opacity="0.24026689641759838"/>
<circle cx="588.9" cy="981.1" r="5.368855150839267" fill="#fff" opacity="0.19005008681944335"/>
<circle cx="596.7" cy="978.0" r="7.4" fill="#fff" opacity="0.36"/>
<circle cx="597.7" cy="983.5" r="4.929828677929986" fill="#fff" opacity="0.18022052252162868"/>
<circle cx="590.4" cy="978.6" r="5.873639924951949" fill="#fff" opacity="0.20014900194151097"/>
<circle cx="604.1" cy="978.4" r="6.415752934383677" fill="#fff" opacity="0.14481535522348196"/>
<circle cx="559.7" cy="987.2" r="7.4" fill="#fff" opacity="0.5"/>
<circle cx="550.7" cy="981.2" r="4.914091169151177" fill="#fff" opacity="0.29568927013134466"/>
<circle cx="555.1" cy="992.2" r="5.522989827443989" fill="#fff" opacity="0.2943094981384852"/>
<circle cx="556.5" cy="994.5" r="5.290477044106643" fill="#fff" opacity="0.32060502689442233"/>
<circle cx="559.7" cy="987.2" r="4.0" fill="#fff" opacity="0.55"/>
<circle cx="575.1" cy="985.6" r="7.4" fill="#fff" opacity="0.5"/>
<circle cx="580.4" cy="987.4" r="4.629920653802616" fill="#fff" opacity="0.24321925259553603"/>
<circle cx="577.2" cy="978.4" r="6.1501300180955685" fill="#fff" opacity="0.2643666018125805"/>
<circle cx="573.1" cy="994.5" r="4.2136572338023175" fill="#fff" opacity="0.35745599773562287"/>
<circle cx="590.5" cy="989.6" r="7.4" fill="#fff" opacity="0.5"/>
<circle cx="593.9" cy="983.5" r="4.793403967271957" fill="#fff" opacity="0.331097686476586"/>
<circle cx="592.6" cy="981.0" r="4.14185106381261" fill="#fff" opacity="0.32217300711909574"/>
<circle cx="598.9" cy="992.2" r="5.3802259068657605" fill="#fff" opacity="0.34837060968881695"/>
<circle cx="590.5" cy="989.6" r="4.6" fill="#fff" opacity="1.0"/>
<circle cx="599.8" cy="984.0" r="7.4" fill="#fff" opacity="0.5"/>
<circle cx="596.5" cy="980.1" r="6.335819502973126" fill="#fff" opacity="0.32043729092063067"/>
<circle cx="595.4" cy="981.6" r="5.8422842115008775" fill="#fff" opacity="0.2669351987069335"/>
<circle cx="595.1" cy="974.1" r="6.291879818239062" fill="#fff" opacity="0.21199292680320894"/>
<circle cx="636.8" cy="981.0" r="7.4" fill="#fff" opacity="0.36"/>
<circle cx="638.3" cy="973.5" r="5.878899599239633" fill="#fff" opacity="0.1875268542110719"/>
<circle cx="629.6" cy="983.5" r="4.294946310017275" fill="#fff" opacity="0.18085466328387573"/>
<circle cx="636.3" cy="975.6" r="4.289651434059639" fill="#fff" opacity="0.24007878028901297"/>
<circle cx="646.0" cy="988.7" r="7.4" fill="#fff" opacity="0.36"/>
<circle cx="641.8" cy="981.5" r="4.283092571478135" fill="#fff" opacity="0.15763867955918626"/>
<circle cx="642.0" cy="998.7" r="5.400506926958954" fill="#fff" opacity="0.25024515970339467"/>
<circle cx="647.8" cy="996.0" r="5.340821127220764" fill="#fff" opacity="0.24068269496220168"/>
<circle cx="655.3" cy="993.3" r="7.4" fill="#fff" opacity="0.5"/>
<circle cx="662.6" cy="1000.5" r="5.18098958223319" fill="#fff" opacity="0.20502036797595122"/>
<circle cx="648.7" cy="996.3" r="5.685913870165233" fill="#fff" opacity="0.34850736915401226"/>
<circle cx="646.2" cy="993.7" r="4.96999981462061" fill="#fff" opacity="0.3245739477654919"/>
<circle cx="655.3" cy="993.3" r="4.0" fill="#fff" opacity="0.55"/>
<circle cx="670.7" cy="984.0" r="7.4" fill="#fff" opacity="0.36"/>
<circle cx="678.2" cy="989.8" r="4.416271831336641" fill="#fff" opacity="0.21148676947752548"/>
<circle cx="672.8" cy="990.8" r="4.409638446781712" fill="#fff" opacity="0.18429110731058537"/>
<circle cx="663.9" cy="979.6" r="4.971389775216425" fill="#fff" opacity="0.21015605242722146"/>
<circle cx="683.0" cy="990.0" r="7.4" fill="#fff" opacity="0.36"/>
<circle cx="686.9" cy="984.0" r="5.459557267796882" fill="#fff" opacity="0.19935081599564816"/>
<circle cx="689.9" cy="989.2" r="5.743561634598461" fill="#fff" opacity="0.1709088080111932"/>
<circle cx="682.3" cy="999.4" r="5.4374464199901045" fill="#fff" opacity="0.17361282170251272"/>
<circle cx="695.4" cy="981.0" r="7.4" fill="#fff" opacity="0.36"/>
<circle cx="704.6" cy="984.9" r="4.943929203659847" fill="#fff" opacity="0.22653822859956127"/>
<circle cx="687.5" cy="984.6" r="5.398825071374211" fill="#fff" opacity="0.25640570676077434"/>
<circle cx="701.9" cy="976.8" r="5.217003243370772" fill="#fff" opacity="0.17064824969062936"/>
<circle cx="638.3" cy="1011.8" r="7.4" fill="#fff" opacity="0.5"/>
<circle cx="638.4" cy="1006.2" r="4.766373304661743" fill="#fff" opacity="0.3355892326238956"/>
<circle cx="647.3" cy="1013.8" r="5.4201927028518915" fill="#fff" opacity="0.2882408183696522"/>
<circle cx="635.4" cy="1016.9" r="6.377065903895145" fill="#fff" opacity="0.32235670847510567"/>
<circle cx="638.3" cy="1011.8" r="4.6" fill="#fff" opacity="1.0"/>
<circle cx="652.2" cy="1021.0" r="7.4" fill="#fff" opacity="0.36"/>
<circle cx="654.1" cy="1015.8" r="5.960199440944729" fill="#fff" opacity="0.16916990689034447"/>
<circle cx="654.8" cy="1028.8" r="5.524576383534313" fill="#fff" opacity="0.1579170360057763"/>
<circle cx="653.0" cy="1012.5" r="6.248457781896903" fill="#fff" opacity="0.2504373977010991"/>
<circle cx="664.5" cy="1027.0" r="7.4" fill="#fff" opacity="0.36"/>
<circle cx="661.8" cy="1020.3" r="6.377561494476649" fill="#fff" opacity="0.22677866919156342"/>
<circle cx="661.9" cy="1036.8" r="5.817195526919898" fill="#fff" opacity="0.17449579906404908"/>
<circle cx="664.5" cy="1032.1" r="5.343021726037207" fill="#fff" opacity="0.17321083259677195"/>
<circle cx="676.9" cy="1018.0" r="7.4" fill="#fff" opacity="0.36"/>
<circle cx="675.2" cy="1024.3" r="4.3288893078010275" fill="#fff" opacity="0.19985693156068748"/>
<circle cx="675.9" cy="1024.6" r="4.6939648081256165" fill="#fff" opacity="0.20266050180144976"/>
<circle cx="681.1" cy="1013.8" r="6.149031898834371" fill="#fff" opacity="0.24246563884526476"/>
<circle cx="689.2" cy="1024.0" r="7.4" fill="#fff" opacity="0.36"/>
<circle cx="682.8" cy="1018.8" r="5.834792870334694" fill="#fff" opacity="0.20558056876692424"/>
<circle cx="683.6" cy="1015.1" r="5.938025683880866" fill="#fff" opacity="0.1739351248510335"/>
<circle cx="699.2" cy="1027.6" r="4.906703018617311" fill="#fff" opacity="0.23469500244930638"/>
<circle cx="683.0" cy="1036.5" r="7.4" fill="#fff" opacity="0.36"/>
<circle cx="683.8" cy="1044.2" r="4.926192968071258" fill="#fff" opacity="0.2280075924821361"/>
<circle cx="690.5" cy="1033.7" r="5.41504862767889" fill="#fff" opacity="0.18417713660905233"/>
<circle cx="684.2" cy="1047.1" r="4.27564481971498" fill="#fff" opacity="0.2523446427669109"/>
<circle cx="689.2" cy="1048.8" r="7.4" fill="#fff" opacity="0.36"/>
<circle cx="686.2" cy="1044.3" r="6.254325971057157" fill="#fff" opacity="0.15575101684581658"/>
<circle cx="684.0" cy="1046.5" r="6.472057405252404" fill="#fff" opacity="0.17963362514329348"/>
<circle cx="692.9" cy="1044.9" r="5.665889092996256" fill="#fff" opacity="0.15181961271920752"/>
<circle cx="683.0" cy="1064.0" r="7.4" fill="#fff" opacity="0.36"/>
<circle cx="691.3" cy="1065.6" r="6.457028253041322" fill="#fff" opacity="0.22292759225540706"/>
<circle cx="689.0" cy="1056.3" r="5.302968702136315" fill="#fff" opacity="0.15289261674222698"/>
<circle cx="677.0" cy="1063.0" r="5.316761648182028" fill="#fff" opacity="0.1848077498924941"/>
<circle cx="550.4" cy="1018.0" r="7.4" fill="#fff" opacity="0.36"/>
<circle cx="544.2" cy="1018.0" r="5.7626342196341245" fill="#fff" opacity="0.19207012007290056"/>
<circle cx="544.9" cy="1018.5" r="5.217376385434415" fill="#fff" opacity="0.20823240933031686"/>
<circle cx="558.6" cy="1016.6" r="4.337235590431764" fill="#fff" opacity="0.1785848821930466"/>
<circle cx="562.8" cy="1024.0" r="7.4" fill="#fff" opacity="0.36"/>
<circle cx="558.1" cy="1031.9" r="6.347220818533302" fill="#fff" opacity="0.2564381045218435"/>
<circle cx="572.8" cy="1020.7" r="6.146589987495202" fill="#fff" opacity="0.2517078699251726"/>
<circle cx="570.7" cy="1025.0" r="5.47662233554839" fill="#fff" opacity="0.22299497414996616"/>
<circle cx="578.2" cy="1018.0" r="7.4" fill="#fff" opacity="0.36"/>
<circle cx="571.6" cy="1012.4" r="6.333125363467667" fill="#fff" opacity="0.15395325516921562"/>
<circle cx="567.5" cy="1016.7" r="4.079620557076392" fill="#fff" opacity="0.15687214104473646"/>
<circle cx="585.5" cy="1010.1" r="4.06015741106502" fill="#fff" opacity="0.14768198131008678"/>
<circle cx="593.6" cy="1015.0" r="7.4" fill="#fff" opacity="0.36"/>
<circle cx="598.0" cy="1007.0" r="5.299415749434466" fill="#fff" opacity="0.21082471741676448"/>
<circle cx="594.1" cy="1005.2" r="4.0017019244139975" fill="#fff" opacity="0.1518230595229754"/>
<circle cx="596.6" cy="1004.6" r="6.083460283131052" fill="#fff" opacity="0.1909584523348993"/>
<circle cx="559.7" cy="1052.0" r="7.4" fill="#fff" opacity="0.5"/>
<circle cx="556.1" cy="1058.1" r="4.037377251284533" fill="#fff" opacity="0.3232321455977223"/>
<circle cx="559.0" cy="1060.5" r="5.315286172979965" fill="#fff" opacity="0.25366091551916925"/>
<circle cx="556.2" cy="1045.1" r="4.585966239329673" fill="#fff" opacity="0.34109879066252397"/>
<circle cx="553.5" cy="1061.0" r="7.4" fill="#fff" opacity="0.36"/>
<circle cx="556.2" cy="1066.3" r="4.633564599814939" fill="#fff" opacity="0.19918051633725042"/>
<circle cx="555.0" cy="1054.2" r="4.595627402478838" fill="#fff" opacity="0.2193813107959933"/>
<circle cx="553.0" cy="1069.1" r="4.637320328008124" fill="#fff" opacity="0.24503120815287963"/>
<circle cx="547.0" cy="1024.0" r="7.4" fill="#fff" opacity="0.36"/>
<circle cx="549.6" cy="1029.9" r="4.7537284588387765" fill="#fff" opacity="0.18196798674148035"/>
<circle cx="545.7" cy="1015.1" r="5.975791347173601" fill="#fff" opacity="0.20621766966183736"/>
<circle cx="555.4" cy="1028.5" r="4.61111257302781" fill="#fff" opacity="0.16909496473353236"/>
<circle cx="584.4" cy="1036.5" r="7.4" fill="#fff" opacity="0.22"/>
<circle cx="575.0" cy="1042.1" r="4.926837542462261" fill="#fff" opacity="0.11309480956882653"/>
<circle cx="593.7" cy="1030.7" r="4.967923142015513" fill="#fff" opacity="0.09754315922785439"/>
<circle cx="586.8" cy="1027.1" r="4.845392774652148" fill="#fff" opacity="0.14364637295132784"/>
<circle cx="603.0" cy="1058.0" r="7.4" fill="#fff" opacity="0.22"/>
<circle cx="598.1" cy="1062.6" r="5.483245714454798" fill="#fff" opacity="0.140201889932149"/>
<circle cx="593.2" cy="1059.5" r="4.034598373845732" fill="#fff" opacity="0.12312764446076989"/>
<circle cx="599.1" cy="1061.7" r="6.28632608723823" fill="#fff" opacity="0.09810012677879774"/>
<circle cx="652.2" cy="1061.0" r="7.4" fill="#fff" opacity="0.22"/>
<circle cx="655.0" cy="1070.9" r="6.401225030908598" fill="#fff" opacity="0.15357620775713451"/>
<circle cx="646.4" cy="1069.9" r="4.354393865979775" fill="#fff" opacity="0.1383026540047689"/>
<circle cx="658.0" cy="1058.9" r="4.339245846525599" fill="#fff" opacity="0.13574609096559562"/>
<circle cx="658.4" cy="1042.7" r="7.4" fill="#fff" opacity="0.36"/>
<circle cx="665.3" cy="1036.4" r="6.373156150212459" fill="#fff" opacity="0.196272007113091"/>
<circle cx="654.4" cy="1046.8" r="4.682510233417938" fill="#fff" opacity="0.25215888365139827"/>
<circle cx="663.9" cy="1045.4" r="4.868817543170379" fill="#fff" opacity="0.14967358199197556"/>
</g></g>
<text x="19" y="1010" font-size="20.5" fill="#fff" textLength="54" lengthAdjust="spacingAndGlyphs">Novel</text>
<text x="196.5" y="1010" font-size="20.5" fill="#fff" textLength="54" lengthAdjust="spacingAndGlyphs">Novel</text>
<text x="375.8" y="1010" font-size="20.5" fill="#fff" textLength="54" lengthAdjust="spacingAndGlyphs">Novel</text>
<text x="554.5" y="1010" font-size="20.5" fill="#fff" textLength="54" lengthAdjust="spacingAndGlyphs">Novel</text>
<text x="94.8" y="1010" font-size="20.5" fill="#fff" textLength="72.5" lengthAdjust="spacingAndGlyphs">Familiar</text>
<text x="271.5" y="1010" font-size="20.5" fill="#fff" textLength="72.5" lengthAdjust="spacingAndGlyphs">Familiar</text>
<text x="451.5" y="1010" font-size="20.5" fill="#fff" textLength="72.5" lengthAdjust="spacingAndGlyphs">Familiar</text>
<text x="630.5" y="1010" font-size="20.5" fill="#fff" textLength="72.5" lengthAdjust="spacingAndGlyphs">Familiar</text>
<rect x="94.50" y="1085.00" width="522.00" height="33.00" fill="#f4f4f4"/>
<rect x="102.20" y="1089.90" width="504.40" height="20.70" fill="url(#cbar)"/>
<text x="106" y="1104.4" font-size="12.5" fill="#fff">0s</text>
<text x="602.5" y="1103.6" font-size="12.5" text-anchor="end" fill="#fff">~30s</text>
</g>
<g id="panelI">
<text x="737" y="851.9" font-size="33" font-weight="bold">I</text>
<text x="983.5" y="830" font-size="21.4" text-anchor="middle" font-weight="bold" textLength="267" lengthAdjust="spacingAndGlyphs">Preference to novel object</text>
<text transform="translate(772.1,949.6) rotate(-90)" text-anchor="middle" font-size="21.5" textLength="144.6" lengthAdjust="spacingAndGlyphs">Preference index</text>
<rect x="848.30" y="879.10" width="32.50" height="153.40" fill="url(#gGray)"/>
<rect x="927.00" y="901.80" width="32.60" height="130.70" fill="url(#gRed)"/>
<rect x="1005.00" y="885.90" width="32.50" height="146.60" fill="url(#gTeal)"/>
<rect x="1083.40" y="898.70" width="32.60" height="133.80" fill="url(#gPur)"/>
<line x1="820.3" y1="865.2" x2="820.3" y2="1032.5" stroke="#000" stroke-width="1.8"/>
<line x1="815.5" y1="1032.5" x2="1144.8" y2="1032.5" stroke="#000" stroke-width="1.8"/>
<line x1="811.0" y1="874.3" x2="820.8" y2="874.3" stroke="#000" stroke-width="1.8"/>
<text x="805.4" y="883.93" font-size="20.2" text-anchor="end">0.6</text>
<line x1="811.0" y1="927.5" x2="820.8" y2="927.5" stroke="#000" stroke-width="1.8"/>
<text x="805.4" y="937.13" font-size="20.2" text-anchor="end">0.4</text>
<line x1="811.0" y1="979.7" x2="820.8" y2="979.7" stroke="#000" stroke-width="1.8"/>
<text x="805.4" y="989.33" font-size="20.2" text-anchor="end">0.2</text>
<text x="812" y="1042.13" font-size="20.2" text-anchor="end">0</text>
<line x1="865" y1="879.1" x2="865" y2="876.8" stroke="#000" stroke-width="1.6"/>
<line x1="856.5" y1="876.8" x2="873.5" y2="876.8" stroke="#000" stroke-width="1.6"/>
<line x1="943.3" y1="901.8" x2="943.3" y2="899.5" stroke="#000" stroke-width="1.6"/>
<line x1="934.8" y1="899.5" x2="951.8" y2="899.5" stroke="#000" stroke-width="1.6"/>
<line x1="1021.5" y1="885.9" x2="1021.5" y2="883.4" stroke="#000" stroke-width="1.6"/>
<line x1="1013.0" y1="883.4" x2="1030.0" y2="883.4" stroke="#000" stroke-width="1.6"/>
<line x1="1099.6" y1="898.7" x2="1099.6" y2="896.7" stroke="#000" stroke-width="1.6"/>
<line x1="1091.1" y1="896.7" x2="1108.1" y2="896.7" stroke="#000" stroke-width="1.6"/>
<circle cx="864.7" cy="862.1" r="3.9" fill="none" stroke="#1a1a1a" stroke-width="0.8"/>
<circle cx="864.7" cy="868.3" r="3.9" fill="none" stroke="#1a1a1a" stroke-width="0.8"/>
<circle cx="864.7" cy="874.0" r="3.9" fill="none" stroke="#1a1a1a" stroke-width="0.8"/>
<circle cx="864.7" cy="879.7" r="3.9" fill="none" stroke="#1a1a1a" stroke-width="0.8"/>
<circle cx="856.8" cy="888.2" r="3.9" fill="none" stroke="#1a1a1a" stroke-width="0.8"/>
<circle cx="872.9" cy="888.2" r="3.9" fill="none" stroke="#1a1a1a" stroke-width="0.8"/>
<circle cx="943.2" cy="893.3" r="3.9" fill="none" stroke="#1a1a1a" stroke-width="0.8"/>
<circle cx="935.5" cy="896.7" r="3.9" fill="none" stroke="#1a1a1a" stroke-width="0.8"/>
<circle cx="943.2" cy="896.7" r="3.9" fill="none" stroke="#1a1a1a" stroke-width="0.8"/>
<circle cx="950.8" cy="896.7" r="3.9" fill="none" stroke="#1a1a1a" stroke-width="0.8"/>
<circle cx="943.2" cy="902.3" r="3.9" fill="none" stroke="#1a1a1a" stroke-width="0.8"/>
<circle cx="943.2" cy="908.0" r="3.9" fill="none" stroke="#1a1a1a" stroke-width="0.8"/>
<circle cx="943.2" cy="911.4" r="3.9" fill="none" stroke="#1a1a1a" stroke-width="0.8"/>
<circle cx="1022.0" cy="869.2" r="3.9" fill="none" stroke="#1a1a1a" stroke-width="0.8"/>
<circle cx="1022.0" cy="876.3" r="3.9" fill="none" stroke="#1a1a1a" stroke-width="0.8"/>
<circle cx="1022.0" cy="882.5" r="3.9" fill="none" stroke="#1a1a1a" stroke-width="0.8"/>
<circle cx="1022.0" cy="887.6" r="3.9" fill="none" stroke="#1a1a1a" stroke-width="0.8"/>
<circle cx="1022.0" cy="891.6" r="3.9" fill="none" stroke="#1a1a1a" stroke-width="0.8"/>
<circle cx="1099.6" cy="888.2" r="3.9" fill="none" stroke="#1a1a1a" stroke-width="0.8"/>
<circle cx="1099.6" cy="892.4" r="3.9" fill="none" stroke="#1a1a1a" stroke-width="0.8"/>
<circle cx="1099.6" cy="895.8" r="3.9" fill="none" stroke="#1a1a1a" stroke-width="0.8"/>
<circle cx="1099.6" cy="899.5" r="3.9" fill="none" stroke="#1a1a1a" stroke-width="0.8"/>
<circle cx="1099.6" cy="903.8" r="3.9" fill="none" stroke="#1a1a1a" stroke-width="0.8"/>
<circle cx="1099.6" cy="907.4" r="3.9" fill="none" stroke="#1a1a1a" stroke-width="0.8"/>
<line x1="870.9" y1="871.5" x2="929" y2="871.5" stroke="#000" stroke-width="1.7"/>
<line x1="948.9" y1="871.5" x2="1007.8" y2="871.5" stroke="#000" stroke-width="1.7"/>
<line x1="1030.5" y1="871.5" x2="1089.1" y2="871.5" stroke="#000" stroke-width="1.7"/>
<use href="#ast" transform="translate(887.10,858.20) scale(0.963)"/>
<use href="#ast" transform="translate(912.00,858.20) scale(0.963)"/>
<use href="#ast" transform="translate(967.30,858.20) scale(0.963)"/>
<use href="#ast" transform="translate(991.40,858.20) scale(0.963)"/>
<use href="#ast" transform="translate(1047.50,858.20) scale(0.963)"/>
<use href="#ast" transform="translate(1072.10,858.20) scale(0.963)"/>
<text x="819" y="1055.8" font-size="20" text-anchor="end" font-style="italic">Syn-Cre:</text>
<text x="819" y="1081" font-size="20" text-anchor="end" font-style="italic">Atg7:</text>
<text x="856.8" y="1055.8" font-size="20" text-anchor="middle" font-style="italic">-/-</text>
<text x="856.8" y="1081" font-size="20" text-anchor="middle" font-style="italic">f/f</text>
<text x="943.2" y="1055.8" font-size="20" text-anchor="middle" font-style="italic">-/-</text>
<text x="943.2" y="1081" font-size="20" text-anchor="middle" font-style="italic">f/f</text>
<text x="1020" y="1055.8" font-size="20" text-anchor="middle" font-style="italic">-/-</text>
<text x="1020" y="1081" font-size="20" text-anchor="middle" font-style="italic">f/f</text>
<text x="1092" y="1055.8" font-size="20" text-anchor="middle" font-style="italic">+/-</text>
<text x="1092" y="1081" font-size="20" text-anchor="middle" font-style="italic">f/f</text>
<text x="1110" y="1054.8" font-size="18.5" font-style="italic" textLength="78" lengthAdjust="spacingAndGlyphs">(Neuronal</text>
<text x="1110" y="1076.8" font-size="18.5" font-style="italic" textLength="74" lengthAdjust="spacingAndGlyphs">Atg7 KO)</text>
<text x="858" y="1103.4" font-size="18.7" text-anchor="middle">Veh</text>
<text x="943" y="1103.4" font-size="18.7" text-anchor="middle">Veh</text>
<text x="1027" y="1103.4" font-size="18.7" text-anchor="middle">Ril</text>
<text x="1104.8" y="1103.4" font-size="18.7" text-anchor="middle">Ril</text>
<line x1="837" y1="1109.6" x2="878.8" y2="1109.6" stroke="#000" stroke-width="2.8"/>
<line x1="905" y1="1109.6" x2="1152.8" y2="1109.6" stroke="#f5190f" stroke-width="2.8"/>
<text x="856" y="1136" font-size="20" text-anchor="middle">WT</text>
<text x="950.8" y="1136" font-size="20.5"><tspan font-style="italic">Fmr1</tspan> KO <tspan font-style="italic">(Fmr1</tspan><tspan font-style="italic" dy="-6" font-size="14.3">-/y</tspan><tspan font-style="italic" dy="6">)</tspan></text>
</g>
<g id="panelH">
<text x="4.7" y="1189.6" font-size="33" font-weight="bold">H</text>
<rect x="198.9" y="1173.8000000000002" width="22.2" height="12.7" rx="0.8" fill="none" stroke="#858585" stroke-width="0.9"/>
<text x="235.2" y="1186.8" font-size="20">Novel</text>
<clipPath id="lg2"><rect x="373.4" y="1173.4" width="23" height="13.5"/></clipPath>
<g clip-path="url(#lg2)" stroke="#000" stroke-width="2.7"><line x1="372.9" y1="1173.7" x2="387.4" y2="1187.1000000000001"/><line x1="383.9" y1="1172.8000000000002" x2="397.4" y2="1185.2"/></g>
<rect x="373.79999999999995" y="1173.8000000000002" width="22.2" height="12.7" rx="0.8" fill="none" stroke="#858585" stroke-width="0.9"/>
<text x="410.8" y="1186.8" font-size="20" textLength="72.5" lengthAdjust="spacingAndGlyphs">Familiar</text>
<text transform="translate(139.2,1325) rotate(-90)" text-anchor="middle" font-size="21" textLength="210.4" lengthAdjust="spacingAndGlyphs">Interaction time (second)</text>
<rect x="194.80" y="1244.00" width="32.40" height="206.50" fill="url(#gGray)"/>
<rect x="227.20" y="1304.00" width="32.60" height="146.50" fill="#b4b4b4"/>
<rect x="227.20" y="1304.00" width="32.60" height="146.50" fill="url(#hatch2)"/>
<rect x="272.90" y="1280.20" width="33.10" height="170.30" fill="url(#gRed)"/>
<rect x="306.00" y="1287.00" width="32.50" height="163.50" fill="#f8200f"/>
<rect x="306.00" y="1287.00" width="32.50" height="163.50" fill="url(#hatch2)"/>
<rect x="351.40" y="1261.00" width="32.10" height="189.50" fill="url(#gTeal)"/>
<rect x="383.50" y="1304.00" width="32.50" height="146.50" fill="#6ecadb"/>
<rect x="383.50" y="1304.00" width="32.50" height="146.50" fill="url(#hatch2)"/>
<rect x="429.00" y="1272.50" width="32.50" height="178.00" fill="url(#gPur)"/>
<rect x="461.50" y="1286.00" width="33.10" height="164.50" fill="#bda6d6"/>
<rect x="461.50" y="1286.00" width="33.10" height="164.50" fill="url(#hatch2)"/>
<line x1="181" y1="1189" x2="181" y2="1450.5" stroke="#000" stroke-width="1.8"/>
<line x1="176.5" y1="1450.5" x2="506.5" y2="1450.5" stroke="#000" stroke-width="1.8"/>
<line x1="172" y1="1205.5" x2="181.5" y2="1205.5" stroke="#000" stroke-width="1.8"/>
<text transform="translate(171.8,1214.66) scale(0.93,1)" text-anchor="end" font-size="21.4">120</text>
<line x1="172" y1="1266.2" x2="181.5" y2="1266.2" stroke="#000" stroke-width="1.8"/>
<text transform="translate(171.8,1275.36) scale(0.93,1)" text-anchor="end" font-size="21.4">90</text>
<line x1="172" y1="1328" x2="181.5" y2="1328" stroke="#000" stroke-width="1.8"/>
<text transform="translate(171.8,1337.16) scale(0.93,1)" text-anchor="end" font-size="21.4">60</text>
<line x1="172" y1="1389.3" x2="181.5" y2="1389.3" stroke="#000" stroke-width="1.8"/>
<text transform="translate(171.8,1398.46) scale(0.93,1)" text-anchor="end" font-size="21.4">30</text>
<text transform="translate(171.8,1459.66) scale(0.93,1)" text-anchor="end" font-size="21.4">0</text>
<line x1="211" y1="1244" x2="211" y2="1235.3" stroke="#000" stroke-width="1.6"/>
<line x1="201.5" y1="1235.3" x2="220.5" y2="1235.3" stroke="#000" stroke-width="1.6"/>
<line x1="243.4" y1="1304" x2="243.4" y2="1297.3" stroke="#000" stroke-width="1.6"/>
<line x1="233.9" y1="1297.3" x2="252.9" y2="1297.3" stroke="#000" stroke-width="1.6"/>
<line x1="289.5" y1="1280.2" x2="289.5" y2="1271.4" stroke="#000" stroke-width="1.6"/>
<line x1="280.0" y1="1271.4" x2="299.0" y2="1271.4" stroke="#000" stroke-width="1.6"/>
<line x1="322.3" y1="1287" x2="322.3" y2="1281.8" stroke="#000" stroke-width="1.6"/>
<line x1="312.8" y1="1281.8" x2="331.8" y2="1281.8" stroke="#000" stroke-width="1.6"/>
<line x1="367.5" y1="1261" x2="367.5" y2="1254.4" stroke="#000" stroke-width="1.6"/>
<line x1="358.0" y1="1254.4" x2="377.0" y2="1254.4" stroke="#000" stroke-width="1.6"/>
<line x1="400" y1="1304" x2="400" y2="1295.7" stroke="#000" stroke-width="1.6"/>
<line x1="390.5" y1="1295.7" x2="409.5" y2="1295.7" stroke="#000" stroke-width="1.6"/>
<line x1="445.5" y1="1272.5" x2="445.5" y2="1262.7" stroke="#000" stroke-width="1.6"/>
<line x1="436.0" y1="1262.7" x2="455.0" y2="1262.7" stroke="#000" stroke-width="1.6"/>
<line x1="478" y1="1286" x2="478" y2="1275.6" stroke="#000" stroke-width="1.6"/>
<line x1="468.5" y1="1275.6" x2="487.5" y2="1275.6" stroke="#000" stroke-width="1.6"/>
<circle cx="210.8" cy="1201.9" r="3.9" fill="none" stroke="#1a1a1a" stroke-width="0.8"/>
<circle cx="210.8" cy="1209.2" r="3.9" fill="none" stroke="#1a1a1a" stroke-width="0.8"/>
<circle cx="210.8" cy="1224.3" r="3.9" fill="none" stroke="#1a1a1a" stroke-width="0.8"/>
<circle cx="210.8" cy="1232.5" r="3.9" fill="none" stroke="#1a1a1a" stroke-width="0.8"/>
<circle cx="210.8" cy="1255.2" r="3.9" fill="none" stroke="#1a1a1a" stroke-width="0.8"/>
<circle cx="210.8" cy="1266.9" r="3.9" fill="none" stroke="#1a1a1a" stroke-width="0.8"/>
<circle cx="210.8" cy="1276.2" r="3.9" fill="none" stroke="#1a1a1a" stroke-width="0.8"/>
<circle cx="210.8" cy="1280.6" r="3.9" fill="none" stroke="#1a1a1a" stroke-width="0.8"/>
<circle cx="242.9" cy="1266.6" r="3.9" fill="none" stroke="#1a1a1a" stroke-width="0.8"/>
<circle cx="242.9" cy="1280.6" r="3.9" fill="none" stroke="#1a1a1a" stroke-width="0.8"/>
<circle cx="242.9" cy="1287.3" r="3.9" fill="none" stroke="#1a1a1a" stroke-width="0.8"/>
<circle cx="242.9" cy="1293.7" r="3.9" fill="none" stroke="#1a1a1a" stroke-width="0.8"/>
<circle cx="242.9" cy="1300.2" r="3.9" fill="none" stroke="#1a1a1a" stroke-width="0.8"/>
<circle cx="242.9" cy="1311.2" r="3.9" fill="none" stroke="#1a1a1a" stroke-width="0.8"/>
<circle cx="242.9" cy="1325.0" r="3.9" fill="none" stroke="#1a1a1a" stroke-width="0.8"/>
<circle cx="242.9" cy="1347.7" r="3.9" fill="none" stroke="#1a1a1a" stroke-width="0.8"/>
<circle cx="289.6" cy="1227.5" r="3.9" fill="none" stroke="#1a1a1a" stroke-width="0.8"/>
<circle cx="289.6" cy="1247.7" r="3.9" fill="none" stroke="#1a1a1a" stroke-width="0.8"/>
<circle cx="289.6" cy="1251.5" r="3.9" fill="none" stroke="#1a1a1a" stroke-width="0.8"/>
<circle cx="289.6" cy="1266.6" r="3.9" fill="none" stroke="#1a1a1a" stroke-width="0.8"/>
<circle cx="289.6" cy="1299.0" r="3.9" fill="none" stroke="#1a1a1a" stroke-width="0.8"/>
<circle cx="289.6" cy="1302.5" r="3.9" fill="none" stroke="#1a1a1a" stroke-width="0.8"/>
<circle cx="289.6" cy="1306.9" r="3.9" fill="none" stroke="#1a1a1a" stroke-width="0.8"/>
<circle cx="289.6" cy="1311.2" r="3.9" fill="none" stroke="#1a1a1a" stroke-width="0.8"/>
<circle cx="322.2" cy="1257.3" r="3.9" fill="none" stroke="#1a1a1a" stroke-width="0.8"/>
<circle cx="322.2" cy="1270.4" r="3.9" fill="none" stroke="#1a1a1a" stroke-width="0.8"/>
<circle cx="322.2" cy="1273.9" r="3.9" fill="none" stroke="#1a1a1a" stroke-width="0.8"/>
<circle cx="322.2" cy="1277.7" r="3.9" fill="none" stroke="#1a1a1a" stroke-width="0.8"/>
<circle cx="322.2" cy="1292.3" r="3.9" fill="none" stroke="#1a1a1a" stroke-width="0.8"/>
<circle cx="322.2" cy="1298.1" r="3.9" fill="none" stroke="#1a1a1a" stroke-width="0.8"/>
<circle cx="322.2" cy="1314.2" r="3.9" fill="none" stroke="#1a1a1a" stroke-width="0.8"/>
<circle cx="367.5" cy="1222.3" r="3.9" fill="none" stroke="#1a1a1a" stroke-width="0.8"/>
<circle cx="367.5" cy="1232.5" r="3.9" fill="none" stroke="#1a1a1a" stroke-width="0.8"/>
<circle cx="367.5" cy="1244.2" r="3.9" fill="none" stroke="#1a1a1a" stroke-width="0.8"/>
<circle cx="367.5" cy="1257.3" r="3.9" fill="none" stroke="#1a1a1a" stroke-width="0.8"/>
<circle cx="367.5" cy="1264.6" r="3.9" fill="none" stroke="#1a1a1a" stroke-width="0.8"/>
<circle cx="367.5" cy="1273.9" r="3.9" fill="none" stroke="#1a1a1a" stroke-width="0.8"/>
<circle cx="367.5" cy="1282.1" r="3.9" fill="none" stroke="#1a1a1a" stroke-width="0.8"/>
<circle cx="367.5" cy="1289.4" r="3.9" fill="none" stroke="#1a1a1a" stroke-width="0.8"/>
<circle cx="367.5" cy="1293.7" r="3.9" fill="none" stroke="#1a1a1a" stroke-width="0.8"/>
<circle cx="400.4" cy="1262.5" r="3.9" fill="none" stroke="#1a1a1a" stroke-width="0.8"/>
<circle cx="400.4" cy="1276.2" r="3.9" fill="none" stroke="#1a1a1a" stroke-width="0.8"/>
<circle cx="400.4" cy="1287.3" r="3.9" fill="none" stroke="#1a1a1a" stroke-width="0.8"/>
<circle cx="400.4" cy="1290.2" r="3.9" fill="none" stroke="#1a1a1a" stroke-width="0.8"/>
<circle cx="400.4" cy="1304.0" r="3.9" fill="none" stroke="#1a1a1a" stroke-width="0.8"/>
<circle cx="400.4" cy="1322.9" r="3.9" fill="none" stroke="#1a1a1a" stroke-width="0.8"/>
<circle cx="400.4" cy="1333.1" r="3.9" fill="none" stroke="#1a1a1a" stroke-width="0.8"/>
<circle cx="400.4" cy="1339.8" r="3.9" fill="none" stroke="#1a1a1a" stroke-width="0.8"/>
<circle cx="446.2" cy="1219.4" r="3.9" fill="none" stroke="#1a1a1a" stroke-width="0.8"/>
<circle cx="446.2" cy="1241.8" r="3.9" fill="none" stroke="#1a1a1a" stroke-width="0.8"/>
<circle cx="446.2" cy="1257.3" r="3.9" fill="none" stroke="#1a1a1a" stroke-width="0.8"/>
<circle cx="446.2" cy="1273.9" r="3.9" fill="none" stroke="#1a1a1a" stroke-width="0.8"/>
<circle cx="446.2" cy="1281.5" r="3.9" fill="none" stroke="#1a1a1a" stroke-width="0.8"/>
<circle cx="446.2" cy="1289.4" r="3.9" fill="none" stroke="#1a1a1a" stroke-width="0.8"/>
<circle cx="446.2" cy="1306.0" r="3.9" fill="none" stroke="#1a1a1a" stroke-width="0.8"/>
<circle cx="446.2" cy="1317.1" r="3.9" fill="none" stroke="#1a1a1a" stroke-width="0.8"/>
<circle cx="478.3" cy="1247.1" r="3.9" fill="none" stroke="#1a1a1a" stroke-width="0.8"/>
<circle cx="478.3" cy="1250.0" r="3.9" fill="none" stroke="#1a1a1a" stroke-width="0.8"/>
<circle cx="478.3" cy="1258.7" r="3.9" fill="none" stroke="#1a1a1a" stroke-width="0.8"/>
<circle cx="478.3" cy="1274.8" r="3.9" fill="none" stroke="#1a1a1a" stroke-width="0.8"/>
<circle cx="478.3" cy="1282.1" r="3.9" fill="none" stroke="#1a1a1a" stroke-width="0.8"/>
<circle cx="478.3" cy="1299.6" r="3.9" fill="none" stroke="#1a1a1a" stroke-width="0.8"/>
<circle cx="478.3" cy="1319.4" r="3.9" fill="none" stroke="#1a1a1a" stroke-width="0.8"/>
<circle cx="478.3" cy="1341.0" r="3.9" fill="none" stroke="#1a1a1a" stroke-width="0.8"/>
<use href="#ast" transform="translate(220.30,1217.50) scale(0.963)"/>
<use href="#ast" transform="translate(244.80,1217.50) scale(0.963)"/>
<line x1="203.5" y1="1231.5" x2="255.8" y2="1231.5" stroke="#000" stroke-width="1.7"/>
<text x="304" y="1222.4" font-size="20" text-anchor="middle" font-style="italic" textLength="36" lengthAdjust="spacingAndGlyphs">N S</text>
<line x1="275.5" y1="1231" x2="327" y2="1231" stroke="#000" stroke-width="1.7"/>
<use href="#ast" transform="translate(386.60,1219.00) scale(0.926)"/>
<line x1="360" y1="1230" x2="412" y2="1230" stroke="#000" stroke-width="1.7"/>
<text x="464" y="1222.4" font-size="20" text-anchor="middle" font-style="italic" textLength="36" lengthAdjust="spacingAndGlyphs">N S</text>
<line x1="439.3" y1="1231" x2="491" y2="1231" stroke="#000" stroke-width="1.7"/>
<text x="181" y="1475.3" font-size="20" text-anchor="end" font-style="italic">Syn-Cre:</text>
<text x="181" y="1498.6" font-size="20" text-anchor="end" font-style="italic">Atg7:</text>
<text x="217" y="1475.3" font-size="20" text-anchor="middle" font-style="italic">-/-</text>
<text x="217" y="1498.6" font-size="20" text-anchor="middle" font-style="italic">f/f</text>
<text x="304" y="1475.3" font-size="20" text-anchor="middle" font-style="italic">-/-</text>
<text x="304" y="1498.6" font-size="20" text-anchor="middle" font-style="italic">f/f</text>
<text x="380" y="1475.3" font-size="20" text-anchor="middle" font-style="italic">-/-</text>
<text x="380" y="1498.6" font-size="20" text-anchor="middle" font-style="italic">f/f</text>
<text x="453.7" y="1475.3" font-size="20" text-anchor="middle" font-style="italic">+/-</text>
<text x="453.7" y="1498.6" font-size="20" text-anchor="middle" font-style="italic">f/f</text>
<text x="470" y="1474" font-size="18.5" font-style="italic" textLength="80" lengthAdjust="spacingAndGlyphs">(Neuronal</text>
<text x="470" y="1495" font-size="18.5" font-style="italic" textLength="72.6" lengthAdjust="spacingAndGlyphs">Atg7 KO)</text>
<text x="218" y="1522.8" font-size="18.7" text-anchor="middle">Veh</text>
<text x="304" y="1522.8" font-size="18.7" text-anchor="middle">Veh</text>
<text x="387.6" y="1522.8" font-size="18.7" text-anchor="middle">Ril</text>
<text x="466" y="1522.8" font-size="18.7" text-anchor="middle">Ril</text>
<line x1="198" y1="1529.8" x2="239.3" y2="1529.8" stroke="#000" stroke-width="2.8"/>
<line x1="266" y1="1529.8" x2="513" y2="1529.8" stroke="#f5190f" stroke-width="2.8"/>
<text x="217" y="1555.7" font-size="20" text-anchor="middle">WT</text>
<text x="311.5" y="1554.8" font-size="20.3"><tspan font-style="italic">Fmr1</tspan> KO <tspan font-style="italic">(Fmr1</tspan><tspan font-style="italic" dy="-6" font-size="14.2">-/y</tspan><tspan font-style="italic" dy="6">)</tspan></text>
</g>
<g id="panelJ">
<text x="737.2" y="1189.6" font-size="33" font-weight="bold">J</text>
<text x="995.8" y="1178.3" font-size="21.4" text-anchor="middle" font-weight="bold" textLength="290" lengthAdjust="spacingAndGlyphs">Contextual fear conditioning</text>
<rect x="869.6" y="1190.4" width="21.2" height="12.799999999999999" rx="0.8" fill="none" stroke="#858585" stroke-width="0.9"/>
<text x="906" y="1204" font-size="20" textLength="72" lengthAdjust="spacingAndGlyphs">Familiar</text>
<clipPath id="lg3"><rect x="1044.2" y="1190" width="22" height="13.6"/></clipPath>
<g clip-path="url(#lg3)" stroke="#000" stroke-width="2.7"><line x1="1043.7" y1="1190.3" x2="1058.2" y2="1203.7"/><line x1="1054.7" y1="1189.4" x2="1068.2" y2="1201.8"/></g>
<rect x="1044.6000000000001" y="1190.4" width="21.2" height="12.799999999999999" rx="0.8" fill="none" stroke="#858585" stroke-width="0.9"/>
<text x="1081" y="1204" font-size="20" textLength="52" lengthAdjust="spacingAndGlyphs">Novel</text>
<text transform="translate(774.2,1324.2) rotate(-90)" text-anchor="middle" font-size="20.5" textLength="275.3" lengthAdjust="spacingAndGlyphs">Percentages of Freezing (100%)</text>
<rect x="834.10" y="1296.30" width="32.60" height="164.10" fill="url(#gGray)"/>
<rect x="866.70" y="1370.00" width="32.00" height="90.40" fill="#b4b4b4"/>
<rect x="866.70" y="1370.00" width="32.00" height="90.40" fill="url(#hatch2)"/>
<rect x="912.00" y="1375.10" width="32.60" height="85.30" fill="url(#gRed)"/>
<rect x="944.60" y="1383.60" width="33.20" height="76.80" fill="#f8200f"/>
<rect x="944.60" y="1383.60" width="33.20" height="76.80" fill="url(#hatch2)"/>
<rect x="990.50" y="1312.80" width="32.60" height="147.60" fill="url(#gTeal)"/>
<rect x="1023.10" y="1389.30" width="32.00" height="71.10" fill="#6ecadb"/>
<rect x="1023.10" y="1389.30" width="32.00" height="71.10" fill="url(#hatch2)"/>
<rect x="1068.70" y="1354.70" width="32.60" height="105.70" fill="url(#gPur)"/>
<rect x="1101.30" y="1379.10" width="32.60" height="81.30" fill="#bda6d6"/>
<rect x="1101.30" y="1379.10" width="32.60" height="81.30" fill="url(#hatch2)"/>
<line x1="821.2" y1="1211.3" x2="821.2" y2="1460.4" stroke="#000" stroke-width="1.8"/>
<line x1="817" y1="1460.4" x2="1147" y2="1460.4" stroke="#000" stroke-width="1.8"/>
<line x1="812.2" y1="1226.3" x2="821.7" y2="1226.3" stroke="#000" stroke-width="1.8"/>
<text x="808.8" y="1235.14" font-size="20.5" text-anchor="end">60</text>
<line x1="812.2" y1="1284.5" x2="821.7" y2="1284.5" stroke="#000" stroke-width="1.8"/>
<text x="808.8" y="1293.34" font-size="20.5" text-anchor="end">45</text>
<line x1="812.2" y1="1342.6" x2="821.7" y2="1342.6" stroke="#000" stroke-width="1.8"/>
<text x="808.8" y="1351.44" font-size="20.5" text-anchor="end">30</text>
<line x1="812.2" y1="1401.2" x2="821.7" y2="1401.2" stroke="#000" stroke-width="1.8"/>
<text x="808.8" y="1410.04" font-size="20.5" text-anchor="end">15</text>
<text x="813" y="1469.74" font-size="20.5" text-anchor="end">0</text>
<line x1="850.4" y1="1296.3" x2="850.4" y2="1284.4" stroke="#000" stroke-width="1.6"/>
<line x1="841.1999999999999" y1="1284.4" x2="859.6" y2="1284.4" stroke="#000" stroke-width="1.6"/>
<line x1="882.7" y1="1370" x2="882.7" y2="1364.9" stroke="#000" stroke-width="1.6"/>
<line x1="873.5" y1="1364.9" x2="891.9000000000001" y2="1364.9" stroke="#000" stroke-width="1.6"/>
<line x1="928.3" y1="1375.1" x2="928.3" y2="1368.6" stroke="#000" stroke-width="1.6"/>
<line x1="919.0999999999999" y1="1368.6" x2="937.5" y2="1368.6" stroke="#000" stroke-width="1.6"/>
<line x1="961.2" y1="1383.6" x2="961.2" y2="1378" stroke="#000" stroke-width="1.6"/>
<line x1="952.0" y1="1378" x2="970.4000000000001" y2="1378" stroke="#000" stroke-width="1.6"/>
<line x1="1006.8" y1="1312.8" x2="1006.8" y2="1304.3" stroke="#000" stroke-width="1.6"/>
<line x1="997.5999999999999" y1="1304.3" x2="1016.0" y2="1304.3" stroke="#000" stroke-width="1.6"/>
<line x1="1039.1" y1="1389.3" x2="1039.1" y2="1381.4" stroke="#000" stroke-width="1.6"/>
<line x1="1029.8999999999999" y1="1381.4" x2="1048.3" y2="1381.4" stroke="#000" stroke-width="1.6"/>
<line x1="1085" y1="1354.7" x2="1085" y2="1347.9" stroke="#000" stroke-width="1.6"/>
<line x1="1075.8" y1="1347.9" x2="1094.2" y2="1347.9" stroke="#000" stroke-width="1.6"/>
<line x1="1117.6" y1="1379.1" x2="1117.6" y2="1372" stroke="#000" stroke-width="1.6"/>
<line x1="1108.3999999999999" y1="1372" x2="1126.8" y2="1372" stroke="#000" stroke-width="1.6"/>
<circle cx="850.2" cy="1225.5" r="3.9" fill="none" stroke="#1a1a1a" stroke-width="0.8"/>
<circle cx="850.2" cy="1256.1" r="3.9" fill="none" stroke="#1a1a1a" stroke-width="0.8"/>
<circle cx="850.2" cy="1275.1" r="3.9" fill="none" stroke="#1a1a1a" stroke-width="0.8"/>
<circle cx="850.2" cy="1279.3" r="3.9" fill="none" stroke="#1a1a1a" stroke-width="0.8"/>
<circle cx="850.2" cy="1294.9" r="3.9" fill="none" stroke="#1a1a1a" stroke-width="0.8"/>
<circle cx="850.2" cy="1302.6" r="3.9" fill="none" stroke="#1a1a1a" stroke-width="0.8"/>
<circle cx="850.2" cy="1307.7" r="3.9" fill="none" stroke="#1a1a1a" stroke-width="0.8"/>
<circle cx="850.2" cy="1318.4" r="3.9" fill="none" stroke="#1a1a1a" stroke-width="0.8"/>
<circle cx="850.2" cy="1330.9" r="3.9" fill="none" stroke="#1a1a1a" stroke-width="0.8"/>
<circle cx="850.2" cy="1339.4" r="3.9" fill="none" stroke="#1a1a1a" stroke-width="0.8"/>
<circle cx="882.8" cy="1343.9" r="3.9" fill="none" stroke="#1a1a1a" stroke-width="0.8"/>
<circle cx="882.8" cy="1351.6" r="3.9" fill="none" stroke="#1a1a1a" stroke-width="0.8"/>
<circle cx="882.8" cy="1358.7" r="3.9" fill="none" stroke="#1a1a1a" stroke-width="0.8"/>
<circle cx="882.8" cy="1362.9" r="3.9" fill="none" stroke="#1a1a1a" stroke-width="0.8"/>
<circle cx="882.8" cy="1367.2" r="3.9" fill="none" stroke="#1a1a1a" stroke-width="0.8"/>
<circle cx="882.8" cy="1373.4" r="3.9" fill="none" stroke="#1a1a1a" stroke-width="0.8"/>
<circle cx="882.8" cy="1381.4" r="3.9" fill="none" stroke="#1a1a1a" stroke-width="0.8"/>
<circle cx="882.8" cy="1388.4" r="3.9" fill="none" stroke="#1a1a1a" stroke-width="0.8"/>
<circle cx="882.8" cy="1417.6" r="3.9" fill="none" stroke="#1a1a1a" stroke-width="0.8"/>
<circle cx="928.4" cy="1341.7" r="3.9" fill="none" stroke="#1a1a1a" stroke-width="0.8"/>
<circle cx="928.4" cy="1347.4" r="3.9" fill="none" stroke="#1a1a1a" stroke-width="0.8"/>
<circle cx="928.4" cy="1354.4" r="3.9" fill="none" stroke="#1a1a1a" stroke-width="0.8"/>
<circle cx="928.4" cy="1360.9" r="3.9" fill="none" stroke="#1a1a1a" stroke-width="0.8"/>
<circle cx="928.4" cy="1371.4" r="3.9" fill="none" stroke="#1a1a1a" stroke-width="0.8"/>
<circle cx="928.4" cy="1379.9" r="3.9" fill="none" stroke="#1a1a1a" stroke-width="0.8"/>
<circle cx="928.4" cy="1387.9" r="3.9" fill="none" stroke="#1a1a1a" stroke-width="0.8"/>
<circle cx="928.4" cy="1395.5" r="3.9" fill="none" stroke="#1a1a1a" stroke-width="0.8"/>
<circle cx="928.4" cy="1399.8" r="3.9" fill="none" stroke="#1a1a1a" stroke-width="0.8"/>
<circle cx="961.0" cy="1345.4" r="3.9" fill="none" stroke="#1a1a1a" stroke-width="0.8"/>
<circle cx="961.0" cy="1361.5" r="3.9" fill="none" stroke="#1a1a1a" stroke-width="0.8"/>
<circle cx="961.0" cy="1374.3" r="3.9" fill="none" stroke="#1a1a1a" stroke-width="0.8"/>
<circle cx="961.0" cy="1377.1" r="3.9" fill="none" stroke="#1a1a1a" stroke-width="0.8"/>
<circle cx="961.0" cy="1385.6" r="3.9" fill="none" stroke="#1a1a1a" stroke-width="0.8"/>
<circle cx="961.0" cy="1389.9" r="3.9" fill="none" stroke="#1a1a1a" stroke-width="0.8"/>
<circle cx="961.0" cy="1404.6" r="3.9" fill="none" stroke="#1a1a1a" stroke-width="0.8"/>
<circle cx="961.0" cy="1409.7" r="3.9" fill="none" stroke="#1a1a1a" stroke-width="0.8"/>
<circle cx="1006.9" cy="1265.7" r="3.9" fill="none" stroke="#1a1a1a" stroke-width="0.8"/>
<circle cx="1006.9" cy="1290.7" r="3.9" fill="none" stroke="#1a1a1a" stroke-width="0.8"/>
<circle cx="1006.9" cy="1294.4" r="3.9" fill="none" stroke="#1a1a1a" stroke-width="0.8"/>
<circle cx="1006.9" cy="1301.4" r="3.9" fill="none" stroke="#1a1a1a" stroke-width="0.8"/>
<circle cx="1006.9" cy="1319.0" r="3.9" fill="none" stroke="#1a1a1a" stroke-width="0.8"/>
<circle cx="1006.9" cy="1329.8" r="3.9" fill="none" stroke="#1a1a1a" stroke-width="0.8"/>
<circle cx="1006.9" cy="1337.4" r="3.9" fill="none" stroke="#1a1a1a" stroke-width="0.8"/>
<circle cx="1006.9" cy="1340.3" r="3.9" fill="none" stroke="#1a1a1a" stroke-width="0.8"/>
<circle cx="1006.9" cy="1349.6" r="3.9" fill="none" stroke="#1a1a1a" stroke-width="0.8"/>
<circle cx="1039.0" cy="1361.5" r="3.9" fill="none" stroke="#1a1a1a" stroke-width="0.8"/>
<circle cx="1039.0" cy="1366.6" r="3.9" fill="none" stroke="#1a1a1a" stroke-width="0.8"/>
<circle cx="1039.0" cy="1370.9" r="3.9" fill="none" stroke="#1a1a1a" stroke-width="0.8"/>
<circle cx="1039.0" cy="1375.1" r="3.9" fill="none" stroke="#1a1a1a" stroke-width="0.8"/>
<circle cx="1039.0" cy="1392.7" r="3.9" fill="none" stroke="#1a1a1a" stroke-width="0.8"/>
<circle cx="1039.0" cy="1401.2" r="3.9" fill="none" stroke="#1a1a1a" stroke-width="0.8"/>
<circle cx="1039.0" cy="1411.1" r="3.9" fill="none" stroke="#1a1a1a" stroke-width="0.8"/>
<circle cx="1039.0" cy="1419.0" r="3.9" fill="none" stroke="#1a1a1a" stroke-width="0.8"/>
<circle cx="1085.4" cy="1318.4" r="3.9" fill="none" stroke="#1a1a1a" stroke-width="0.8"/>
<circle cx="1085.4" cy="1330.9" r="3.9" fill="none" stroke="#1a1a1a" stroke-width="0.8"/>
<circle cx="1085.4" cy="1341.7" r="3.9" fill="none" stroke="#1a1a1a" stroke-width="0.8"/>
<circle cx="1085.4" cy="1350.2" r="3.9" fill="none" stroke="#1a1a1a" stroke-width="0.8"/>
<circle cx="1085.4" cy="1355.3" r="3.9" fill="none" stroke="#1a1a1a" stroke-width="0.8"/>
<circle cx="1085.4" cy="1362.1" r="3.9" fill="none" stroke="#1a1a1a" stroke-width="0.8"/>
<circle cx="1085.4" cy="1367.2" r="3.9" fill="none" stroke="#1a1a1a" stroke-width="0.8"/>
<circle cx="1085.4" cy="1373.4" r="3.9" fill="none" stroke="#1a1a1a" stroke-width="0.8"/>
<circle cx="1085.4" cy="1380.8" r="3.9" fill="none" stroke="#1a1a1a" stroke-width="0.8"/>
<circle cx="1117.4" cy="1347.9" r="3.9" fill="none" stroke="#1a1a1a" stroke-width="0.8"/>
<circle cx="1117.4" cy="1362.9" r="3.9" fill="none" stroke="#1a1a1a" stroke-width="0.8"/>
<circle cx="1117.4" cy="1365.2" r="3.9" fill="none" stroke="#1a1a1a" stroke-width="0.8"/>
<circle cx="1117.4" cy="1375.1" r="3.9" fill="none" stroke="#1a1a1a" stroke-width="0.8"/>
<circle cx="1117.4" cy="1381.4" r="3.9" fill="none" stroke="#1a1a1a" stroke-width="0.8"/>
<circle cx="1117.4" cy="1388.4" r="3.9" fill="none" stroke="#1a1a1a" stroke-width="0.8"/>
<circle cx="1117.4" cy="1395.0" r="3.9" fill="none" stroke="#1a1a1a" stroke-width="0.8"/>
<circle cx="1117.4" cy="1399.8" r="3.9" fill="none" stroke="#1a1a1a" stroke-width="0.8"/>
<path d="M850.5,1238.3 V1217 H1084.3 V1238.3 M928.4,1217 V1238.3 M1006.9,1217 V1238.3" fill="none" stroke="#000" stroke-width="1.6"/>
<use href="#astb" transform="translate(877.20,1231.30) scale(0.944)"/>
<use href="#astb" transform="translate(895.00,1231.30) scale(0.944)"/>
<use href="#astb" transform="translate(956.80,1231.30) scale(0.944)"/>
<use href="#astb" transform="translate(974.40,1231.30) scale(0.944)"/>
<use href="#astb" transform="translate(1037.30,1231.30) scale(0.944)"/>
<use href="#astb" transform="translate(1055.10,1231.30) scale(0.944)"/>
<text x="819.6" y="1489.6" font-size="20" text-anchor="end" font-style="italic">Syn-Cre:</text>
<text x="819.6" y="1514.6" font-size="20" text-anchor="end" font-style="italic">Atg7:</text>
<text x="856.25" y="1489.6" font-size="20" text-anchor="middle" font-style="italic">-/-</text>
<text x="856.25" y="1514.6" font-size="20" text-anchor="middle" font-style="italic">f/f</text>
<text x="943" y="1489.6" font-size="20" text-anchor="middle" font-style="italic">-/-</text>
<text x="943" y="1514.6" font-size="20" text-anchor="middle" font-style="italic">f/f</text>
<text x="1020.8" y="1489.6" font-size="20" text-anchor="middle" font-style="italic">-/-</text>
<text x="1020.8" y="1514.6" font-size="20" text-anchor="middle" font-style="italic">f/f</text>
<text x="1093" y="1489.6" font-size="20" text-anchor="middle" font-style="italic">+/-</text>
<text x="1093" y="1514.6" font-size="20" text-anchor="middle" font-style="italic">f/f</text>
<text x="1110.4" y="1488.6" font-size="18.5" font-style="italic" textLength="80.4" lengthAdjust="spacingAndGlyphs"><tspan font-style="normal">(Neurona</tspan>l</text>
<text x="1110.4" y="1510.4" font-size="18.5" font-style="italic" textLength="74" lengthAdjust="spacingAndGlyphs">Atg7 KO)</text>
<text x="858.3" y="1538.2" font-size="18.7" text-anchor="middle">Veh</text>
<text x="943.3" y="1538.2" font-size="18.7" text-anchor="middle">Veh</text>
<text x="1022" y="1538.2" font-size="18.7" text-anchor="middle">Ril</text>
<text x="1100" y="1538.2" font-size="18.7" text-anchor="middle">Ril</text>
<line x1="836.25" y1="1545.8" x2="878.3" y2="1545.8" stroke="#000" stroke-width="2.8"/>
<line x1="906.25" y1="1545.8" x2="1153" y2="1545.8" stroke="#f5190f" stroke-width="2.8"/>
<text x="855.4" y="1570.8" font-size="20" text-anchor="middle">WT</text>
<text x="950.8" y="1570.6" font-size="20.5"><tspan font-style="italic">Fmr1</tspan> KO <tspan font-style="italic">(Fmr1</tspan><tspan font-style="italic" dy="-6" font-size="14.3">-/y</tspan><tspan font-style="italic" dy="6">)</tspan></text>
</g>
</svg>
</body></html>
